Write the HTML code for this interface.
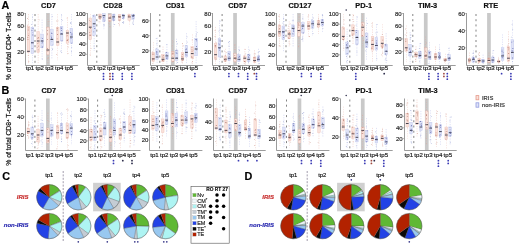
<!DOCTYPE html>
<html><head><meta charset="utf-8"><style>
html,body{margin:0;padding:0;background:#fff;}
body{width:520px;height:244px;overflow:hidden;font-family:"Liberation Sans",sans-serif;}
svg{display:block;filter:blur(0.45px);}
svg text{font-family:"Liberation Sans",sans-serif;}
</style></head><body>
<svg width="520" height="244" viewBox="0 0 520 244" font-family="Liberation Sans, sans-serif"><rect x="46.10" y="13.00" width="3.7" height="52.10" fill="#c9c9c9"/>
<line x1="35.00" y1="14.00" x2="35.00" y2="65.10" stroke="#6e6e6e" stroke-width="0.85" stroke-dasharray="2,3.2"/>
<line x1="28.45" y1="14.00" x2="28.45" y2="64.10" stroke="#e59a8a" stroke-width="0.45" stroke-dasharray="1.2,1.2" opacity="0.7"/>
<rect x="27.10" y="26.00" width="2.7" height="26.40" fill="#f9e2db" stroke="#e59a8a" stroke-width="0.35" stroke-opacity="0.6"/>
<line x1="27.10" y1="51.30" x2="29.80" y2="51.30" stroke="#303040" stroke-width="0.9"/>
<line x1="32.35" y1="14.00" x2="32.35" y2="64.10" stroke="#939ce0" stroke-width="0.45" stroke-dasharray="1.2,1.2" opacity="0.7"/>
<rect x="31.00" y="27.20" width="2.7" height="26.40" fill="#dfe3f7" stroke="#939ce0" stroke-width="0.35" stroke-opacity="0.6"/>
<line x1="31.00" y1="42.80" x2="33.70" y2="42.80" stroke="#303040" stroke-width="0.9"/>
<line x1="38.20" y1="14.00" x2="38.20" y2="64.10" stroke="#e59a8a" stroke-width="0.45" stroke-dasharray="1.2,1.2" opacity="0.7"/>
<rect x="36.85" y="31.80" width="2.7" height="20.60" fill="#f9e2db" stroke="#e59a8a" stroke-width="0.35" stroke-opacity="0.6"/>
<line x1="36.85" y1="41.00" x2="39.55" y2="41.00" stroke="#303040" stroke-width="0.9"/>
<line x1="42.10" y1="19.58" x2="42.10" y2="59.46" stroke="#939ce0" stroke-width="0.45" stroke-dasharray="1.2,1.2" opacity="0.7"/>
<rect x="40.75" y="34.00" width="2.7" height="13.80" fill="#dfe3f7" stroke="#939ce0" stroke-width="0.35" stroke-opacity="0.6"/>
<line x1="40.75" y1="41.00" x2="43.45" y2="41.00" stroke="#303040" stroke-width="0.9"/>
<line x1="47.95" y1="14.00" x2="47.95" y2="64.10" stroke="#e59a8a" stroke-width="0.45" stroke-dasharray="1.2,1.2" opacity="0.7"/>
<rect x="46.60" y="27.20" width="2.7" height="27.50" fill="#f9e2db" stroke="#e59a8a" stroke-width="0.35" stroke-opacity="0.6"/>
<line x1="46.60" y1="50.00" x2="49.30" y2="50.00" stroke="#303040" stroke-width="0.9"/>
<line x1="51.85" y1="14.00" x2="51.85" y2="58.70" stroke="#939ce0" stroke-width="0.45" stroke-dasharray="1.2,1.2" opacity="0.7"/>
<rect x="50.50" y="29.50" width="2.7" height="16.00" fill="#dfe3f7" stroke="#939ce0" stroke-width="0.35" stroke-opacity="0.6"/>
<line x1="50.50" y1="39.40" x2="53.20" y2="39.40" stroke="#303040" stroke-width="0.9"/>
<line x1="57.70" y1="14.00" x2="57.70" y2="60.31" stroke="#e59a8a" stroke-width="0.45" stroke-dasharray="1.2,1.2" opacity="0.7"/>
<rect x="56.35" y="27.20" width="2.7" height="18.30" fill="#f9e2db" stroke="#e59a8a" stroke-width="0.35" stroke-opacity="0.6"/>
<line x1="56.35" y1="42.00" x2="59.05" y2="42.00" stroke="#303040" stroke-width="0.9"/>
<line x1="61.60" y1="14.00" x2="61.60" y2="53.15" stroke="#939ce0" stroke-width="0.45" stroke-dasharray="1.2,1.2" opacity="0.7"/>
<rect x="60.25" y="26.50" width="2.7" height="14.50" fill="#dfe3f7" stroke="#939ce0" stroke-width="0.35" stroke-opacity="0.6"/>
<line x1="60.25" y1="34.00" x2="62.95" y2="34.00" stroke="#303040" stroke-width="0.9"/>
<line x1="67.45" y1="17.17" x2="67.45" y2="54.19" stroke="#e59a8a" stroke-width="0.45" stroke-dasharray="1.2,1.2" opacity="0.7"/>
<rect x="66.10" y="30.60" width="2.7" height="12.70" fill="#f9e2db" stroke="#e59a8a" stroke-width="0.35" stroke-opacity="0.6"/>
<line x1="66.10" y1="33.00" x2="68.80" y2="33.00" stroke="#303040" stroke-width="0.9"/>
<line x1="71.35" y1="14.00" x2="71.35" y2="55.80" stroke="#939ce0" stroke-width="0.45" stroke-dasharray="1.2,1.2" opacity="0.7"/>
<rect x="70.00" y="28.30" width="2.7" height="15.00" fill="#dfe3f7" stroke="#939ce0" stroke-width="0.35" stroke-opacity="0.6"/>
<line x1="70.00" y1="37.00" x2="72.70" y2="37.00" stroke="#303040" stroke-width="0.9"/>
<path d="M27.8 29.6h0.9v0.8h-0.9zM28.2 27.5h0.9v0.8h-0.9zM28.0 35.3h0.9v0.8h-0.9zM27.5 39.0h0.9v0.8h-0.9zM27.4 37.0h0.9v0.8h-0.9zM37.7 37.6h0.9v0.8h-0.9zM38.1 45.8h0.9v0.8h-0.9zM37.4 43.2h0.9v0.8h-0.9zM37.8 49.4h0.9v0.8h-0.9zM38.0 37.3h0.9v0.8h-0.9zM47.1 30.0h0.9v0.8h-0.9zM47.0 47.9h0.9v0.8h-0.9zM47.1 33.6h0.9v0.8h-0.9zM47.4 50.8h0.9v0.8h-0.9zM47.0 39.2h0.9v0.8h-0.9zM57.1 34.1h0.9v0.8h-0.9zM56.8 38.4h0.9v0.8h-0.9zM56.7 28.0h0.9v0.8h-0.9zM56.9 29.8h0.9v0.8h-0.9zM57.1 27.8h0.9v0.8h-0.9zM67.4 39.0h0.9v0.8h-0.9zM66.7 34.9h0.9v0.8h-0.9zM66.6 40.0h0.9v0.8h-0.9zM67.0 40.1h0.9v0.8h-0.9zM66.8 33.0h0.9v0.8h-0.9z" fill="#b07468" opacity="0.8"/>
<path d="M27.1 18.1h0.9v0.8h-0.9zM27.8 55.0h0.9v0.8h-0.9zM27.2 24.8h0.9v0.8h-0.9zM28.3 61.1h0.9v0.8h-0.9zM28.2 33.5h0.9v0.8h-0.9zM38.7 19.5h0.9v0.8h-0.9zM37.6 51.5h0.9v0.8h-0.9zM37.1 38.1h0.9v0.8h-0.9zM36.8 47.1h0.9v0.8h-0.9zM38.3 42.3h0.9v0.8h-0.9zM47.6 57.9h0.9v0.8h-0.9zM48.1 56.9h0.9v0.8h-0.9zM47.1 34.4h0.9v0.8h-0.9zM47.2 57.9h0.9v0.8h-0.9zM48.4 21.2h0.9v0.8h-0.9zM56.3 20.6h0.9v0.8h-0.9zM56.5 30.4h0.9v0.8h-0.9zM56.3 54.1h0.9v0.8h-0.9zM57.5 20.5h0.9v0.8h-0.9zM56.8 29.7h0.9v0.8h-0.9zM67.6 53.2h0.9v0.8h-0.9zM67.7 46.6h0.9v0.8h-0.9zM67.6 44.2h0.9v0.8h-0.9zM66.5 35.9h0.9v0.8h-0.9zM66.7 17.8h0.9v0.8h-0.9z" fill="#d8b0a8" opacity="0.8"/>
<path d="M32.5 28.0h0.9v0.8h-0.9zM32.3 34.4h0.9v0.8h-0.9zM31.5 29.9h0.9v0.8h-0.9zM31.7 48.3h0.9v0.8h-0.9zM31.5 42.2h0.9v0.8h-0.9zM42.1 37.9h0.9v0.8h-0.9zM41.9 41.8h0.9v0.8h-0.9zM41.7 39.9h0.9v0.8h-0.9zM42.1 46.6h0.9v0.8h-0.9zM41.6 42.8h0.9v0.8h-0.9zM51.0 32.8h0.9v0.8h-0.9zM51.1 36.9h0.9v0.8h-0.9zM51.5 33.3h0.9v0.8h-0.9zM50.8 35.8h0.9v0.8h-0.9zM51.2 38.2h0.9v0.8h-0.9zM61.0 27.9h0.9v0.8h-0.9zM61.6 40.5h0.9v0.8h-0.9zM61.1 33.1h0.9v0.8h-0.9zM60.7 27.6h0.9v0.8h-0.9zM61.0 29.9h0.9v0.8h-0.9zM70.3 32.1h0.9v0.8h-0.9zM70.6 38.3h0.9v0.8h-0.9zM71.4 34.6h0.9v0.8h-0.9zM71.4 42.7h0.9v0.8h-0.9zM71.4 33.4h0.9v0.8h-0.9z" fill="#5a62a8" opacity="0.8"/>
<path d="M32.2 32.3h0.9v0.8h-0.9zM32.0 16.7h0.9v0.8h-0.9zM31.0 23.9h0.9v0.8h-0.9zM32.3 35.0h0.9v0.8h-0.9zM31.5 42.9h0.9v0.8h-0.9zM40.8 47.2h0.9v0.8h-0.9zM41.9 58.8h0.9v0.8h-0.9zM42.3 30.5h0.9v0.8h-0.9zM41.4 45.8h0.9v0.8h-0.9zM40.7 37.6h0.9v0.8h-0.9zM52.3 44.5h0.9v0.8h-0.9zM51.4 41.2h0.9v0.8h-0.9zM51.8 16.0h0.9v0.8h-0.9zM52.2 48.5h0.9v0.8h-0.9zM52.1 49.3h0.9v0.8h-0.9zM61.8 19.9h0.9v0.8h-0.9zM60.2 50.8h0.9v0.8h-0.9zM61.2 19.3h0.9v0.8h-0.9zM61.2 14.7h0.9v0.8h-0.9zM61.2 51.9h0.9v0.8h-0.9zM70.3 23.1h0.9v0.8h-0.9zM70.3 22.1h0.9v0.8h-0.9zM71.1 51.2h0.9v0.8h-0.9zM71.6 33.6h0.9v0.8h-0.9zM71.2 47.0h0.9v0.8h-0.9z" fill="#a8b0d8" opacity="0.8"/>
<path d="M25.5 13.00V65.5H77.90" fill="none" stroke="#8a8a8a" stroke-width="0.85"/>
<line x1="24.20" y1="13.50" x2="25.40" y2="13.50" stroke="#8a8a8a" stroke-width="0.6"/>
<text x="23.90" y="15.60" font-size="6.0" text-anchor="end" font-weight="normal" font-style="normal" fill="#2a2a2a" stroke="#2a2a2a" stroke-width="0.18" >80</text>
<line x1="24.20" y1="26.20" x2="25.40" y2="26.20" stroke="#8a8a8a" stroke-width="0.6"/>
<text x="23.90" y="28.30" font-size="6.0" text-anchor="end" font-weight="normal" font-style="normal" fill="#2a2a2a" stroke="#2a2a2a" stroke-width="0.18" >60</text>
<line x1="24.20" y1="38.90" x2="25.40" y2="38.90" stroke="#8a8a8a" stroke-width="0.6"/>
<text x="23.90" y="41.00" font-size="6.0" text-anchor="end" font-weight="normal" font-style="normal" fill="#2a2a2a" stroke="#2a2a2a" stroke-width="0.18" >40</text>
<line x1="24.20" y1="51.60" x2="25.40" y2="51.60" stroke="#8a8a8a" stroke-width="0.6"/>
<text x="23.90" y="53.70" font-size="6.0" text-anchor="end" font-weight="normal" font-style="normal" fill="#2a2a2a" stroke="#2a2a2a" stroke-width="0.18" >20</text>
<text x="30.00" y="70.20" font-size="6.1" text-anchor="middle" font-weight="normal" font-style="normal" fill="#1a1a1a" stroke="#1a1a1a" stroke-width="0.18" >tp1</text>
<text x="39.75" y="70.20" font-size="6.1" text-anchor="middle" font-weight="normal" font-style="normal" fill="#1a1a1a" stroke="#1a1a1a" stroke-width="0.18" >tp2</text>
<text x="49.50" y="70.20" font-size="6.1" text-anchor="middle" font-weight="normal" font-style="normal" fill="#1a1a1a" stroke="#1a1a1a" stroke-width="0.18" >tp3</text>
<text x="59.25" y="70.20" font-size="6.1" text-anchor="middle" font-weight="normal" font-style="normal" fill="#1a1a1a" stroke="#1a1a1a" stroke-width="0.18" >tp4</text>
<text x="69.00" y="70.20" font-size="6.1" text-anchor="middle" font-weight="normal" font-style="normal" fill="#1a1a1a" stroke="#1a1a1a" stroke-width="0.18" >tp5</text>
<text x="48.50" y="7.50" font-size="7.4" text-anchor="middle" font-weight="bold" font-style="normal" fill="#111" stroke="#111" stroke-width="0.18" >CD7</text>
<rect x="107.90" y="13.00" width="3.7" height="52.10" fill="#c9c9c9"/>
<line x1="96.80" y1="14.00" x2="96.80" y2="65.10" stroke="#6e6e6e" stroke-width="0.85" stroke-dasharray="2,3.2"/>
<line x1="90.25" y1="14.00" x2="90.25" y2="57.06" stroke="#e59a8a" stroke-width="0.45" stroke-dasharray="1.2,1.2" opacity="0.7"/>
<rect x="88.90" y="18.00" width="2.7" height="21.80" fill="#f9e2db" stroke="#e59a8a" stroke-width="0.35" stroke-opacity="0.6"/>
<line x1="88.90" y1="27.20" x2="91.60" y2="27.20" stroke="#303040" stroke-width="0.9"/>
<line x1="94.15" y1="14.00" x2="94.15" y2="50.85" stroke="#939ce0" stroke-width="0.45" stroke-dasharray="1.2,1.2" opacity="0.7"/>
<rect x="92.80" y="15.70" width="2.7" height="19.50" fill="#dfe3f7" stroke="#939ce0" stroke-width="0.35" stroke-opacity="0.6"/>
<line x1="92.80" y1="23.80" x2="95.50" y2="23.80" stroke="#303040" stroke-width="0.9"/>
<line x1="100.00" y1="14.00" x2="100.00" y2="23.92" stroke="#e59a8a" stroke-width="0.45" stroke-dasharray="1.2,1.2" opacity="0.7"/>
<rect x="98.65" y="14.10" width="2.7" height="4.60" fill="#f9e2db" stroke="#e59a8a" stroke-width="0.35" stroke-opacity="0.6"/>
<line x1="98.65" y1="16.90" x2="101.35" y2="16.90" stroke="#303040" stroke-width="0.9"/>
<line x1="103.90" y1="14.00" x2="103.90" y2="29.17" stroke="#939ce0" stroke-width="0.45" stroke-dasharray="1.2,1.2" opacity="0.7"/>
<rect x="102.55" y="13.40" width="2.7" height="8.10" fill="#dfe3f7" stroke="#939ce0" stroke-width="0.35" stroke-opacity="0.6"/>
<line x1="102.55" y1="15.70" x2="105.25" y2="15.70" stroke="#303040" stroke-width="0.9"/>
<line x1="109.75" y1="14.00" x2="109.75" y2="28.33" stroke="#e59a8a" stroke-width="0.45" stroke-dasharray="1.2,1.2" opacity="0.7"/>
<rect x="108.40" y="14.60" width="2.7" height="6.90" fill="#f9e2db" stroke="#e59a8a" stroke-width="0.35" stroke-opacity="0.6"/>
<line x1="108.40" y1="18.00" x2="111.10" y2="18.00" stroke="#303040" stroke-width="0.9"/>
<line x1="113.65" y1="14.00" x2="113.65" y2="26.64" stroke="#939ce0" stroke-width="0.45" stroke-dasharray="1.2,1.2" opacity="0.7"/>
<rect x="112.30" y="14.10" width="2.7" height="6.20" fill="#dfe3f7" stroke="#939ce0" stroke-width="0.35" stroke-opacity="0.6"/>
<line x1="112.30" y1="16.90" x2="115.00" y2="16.90" stroke="#303040" stroke-width="0.9"/>
<line x1="119.50" y1="14.00" x2="119.50" y2="26.29" stroke="#e59a8a" stroke-width="0.45" stroke-dasharray="1.2,1.2" opacity="0.7"/>
<rect x="118.15" y="14.60" width="2.7" height="5.70" fill="#f9e2db" stroke="#e59a8a" stroke-width="0.35" stroke-opacity="0.6"/>
<line x1="118.15" y1="16.90" x2="120.85" y2="16.90" stroke="#303040" stroke-width="0.9"/>
<line x1="123.40" y1="14.00" x2="123.40" y2="23.92" stroke="#939ce0" stroke-width="0.45" stroke-dasharray="1.2,1.2" opacity="0.7"/>
<rect x="122.05" y="14.10" width="2.7" height="4.60" fill="#dfe3f7" stroke="#939ce0" stroke-width="0.35" stroke-opacity="0.6"/>
<line x1="122.05" y1="15.70" x2="124.75" y2="15.70" stroke="#303040" stroke-width="0.9"/>
<line x1="129.25" y1="14.00" x2="129.25" y2="26.29" stroke="#e59a8a" stroke-width="0.45" stroke-dasharray="1.2,1.2" opacity="0.7"/>
<rect x="127.90" y="14.60" width="2.7" height="5.70" fill="#f9e2db" stroke="#e59a8a" stroke-width="0.35" stroke-opacity="0.6"/>
<line x1="127.90" y1="16.90" x2="130.60" y2="16.90" stroke="#303040" stroke-width="0.9"/>
<line x1="133.15" y1="14.00" x2="133.15" y2="24.77" stroke="#939ce0" stroke-width="0.45" stroke-dasharray="1.2,1.2" opacity="0.7"/>
<rect x="131.80" y="14.10" width="2.7" height="5.10" fill="#dfe3f7" stroke="#939ce0" stroke-width="0.35" stroke-opacity="0.6"/>
<line x1="131.80" y1="15.70" x2="134.50" y2="15.70" stroke="#303040" stroke-width="0.9"/>
<path d="M89.3 32.0h0.9v0.8h-0.9zM90.3 34.7h0.9v0.8h-0.9zM90.1 28.0h0.9v0.8h-0.9zM89.4 34.8h0.9v0.8h-0.9zM89.6 35.1h0.9v0.8h-0.9zM99.3 15.6h0.9v0.8h-0.9zM99.1 17.9h0.9v0.8h-0.9zM99.4 15.8h0.9v0.8h-0.9zM99.7 17.9h0.9v0.8h-0.9zM99.5 17.9h0.9v0.8h-0.9zM109.2 17.9h0.9v0.8h-0.9zM109.3 20.7h0.9v0.8h-0.9zM109.5 20.2h0.9v0.8h-0.9zM109.8 16.0h0.9v0.8h-0.9zM109.4 20.7h0.9v0.8h-0.9zM119.1 16.7h0.9v0.8h-0.9zM118.5 16.1h0.9v0.8h-0.9zM119.2 17.1h0.9v0.8h-0.9zM118.5 19.8h0.9v0.8h-0.9zM119.4 19.7h0.9v0.8h-0.9zM128.5 14.9h0.9v0.8h-0.9zM128.8 15.6h0.9v0.8h-0.9zM128.3 15.1h0.9v0.8h-0.9zM128.3 15.4h0.9v0.8h-0.9zM128.6 15.9h0.9v0.8h-0.9z" fill="#b07468" opacity="0.8"/>
<path d="M90.7 30.6h0.9v0.8h-0.9zM89.6 54.4h0.9v0.8h-0.9zM90.2 20.9h0.9v0.8h-0.9zM89.1 20.1h0.9v0.8h-0.9zM90.6 48.3h0.9v0.8h-0.9zM99.6 18.9h0.9v0.8h-0.9zM99.6 13.8h0.9v0.8h-0.9zM99.4 15.4h0.9v0.8h-0.9zM98.6 21.5h0.9v0.8h-0.9zM98.9 18.3h0.9v0.8h-0.9zM110.0 15.6h0.9v0.8h-0.9zM108.5 19.9h0.9v0.8h-0.9zM108.4 17.0h0.9v0.8h-0.9zM108.4 23.2h0.9v0.8h-0.9zM109.9 26.5h0.9v0.8h-0.9zM118.3 16.9h0.9v0.8h-0.9zM118.1 23.2h0.9v0.8h-0.9zM118.6 15.2h0.9v0.8h-0.9zM118.9 24.8h0.9v0.8h-0.9zM119.7 16.8h0.9v0.8h-0.9zM129.3 17.2h0.9v0.8h-0.9zM128.8 15.8h0.9v0.8h-0.9zM128.5 13.8h0.9v0.8h-0.9zM128.3 13.8h0.9v0.8h-0.9zM129.3 20.4h0.9v0.8h-0.9z" fill="#d8b0a8" opacity="0.8"/>
<path d="M93.3 31.4h0.9v0.8h-0.9zM94.3 28.1h0.9v0.8h-0.9zM93.5 26.0h0.9v0.8h-0.9zM93.3 15.6h0.9v0.8h-0.9zM94.3 28.0h0.9v0.8h-0.9zM103.7 17.5h0.9v0.8h-0.9zM103.2 17.2h0.9v0.8h-0.9zM103.5 19.4h0.9v0.8h-0.9zM103.0 17.5h0.9v0.8h-0.9zM103.1 15.2h0.9v0.8h-0.9zM112.8 18.1h0.9v0.8h-0.9zM113.4 14.6h0.9v0.8h-0.9zM113.7 19.7h0.9v0.8h-0.9zM112.9 19.6h0.9v0.8h-0.9zM113.1 16.7h0.9v0.8h-0.9zM122.5 17.9h0.9v0.8h-0.9zM123.0 16.9h0.9v0.8h-0.9zM122.5 14.0h0.9v0.8h-0.9zM123.2 15.7h0.9v0.8h-0.9zM122.4 18.0h0.9v0.8h-0.9zM132.3 16.1h0.9v0.8h-0.9zM133.2 14.2h0.9v0.8h-0.9zM133.1 15.9h0.9v0.8h-0.9zM132.7 18.0h0.9v0.8h-0.9zM132.6 16.3h0.9v0.8h-0.9z" fill="#5a62a8" opacity="0.8"/>
<path d="M93.8 48.0h0.9v0.8h-0.9zM93.6 45.7h0.9v0.8h-0.9zM94.4 21.4h0.9v0.8h-0.9zM93.2 24.4h0.9v0.8h-0.9zM93.2 35.2h0.9v0.8h-0.9zM104.0 21.3h0.9v0.8h-0.9zM103.6 25.1h0.9v0.8h-0.9zM104.3 20.3h0.9v0.8h-0.9zM103.7 21.3h0.9v0.8h-0.9zM103.5 24.1h0.9v0.8h-0.9zM114.2 24.1h0.9v0.8h-0.9zM112.5 19.1h0.9v0.8h-0.9zM113.2 17.9h0.9v0.8h-0.9zM112.6 17.6h0.9v0.8h-0.9zM113.6 13.8h0.9v0.8h-0.9zM123.2 21.6h0.9v0.8h-0.9zM122.1 22.1h0.9v0.8h-0.9zM122.1 22.2h0.9v0.8h-0.9zM122.9 17.0h0.9v0.8h-0.9zM123.1 22.8h0.9v0.8h-0.9zM133.1 24.2h0.9v0.8h-0.9zM132.4 22.6h0.9v0.8h-0.9zM133.1 20.4h0.9v0.8h-0.9zM132.5 17.3h0.9v0.8h-0.9zM131.8 15.0h0.9v0.8h-0.9z" fill="#a8b0d8" opacity="0.8"/>
<path d="M87.5 13.00V65.5H139.70" fill="none" stroke="#8a8a8a" stroke-width="0.85"/>
<line x1="86.00" y1="13.50" x2="87.20" y2="13.50" stroke="#8a8a8a" stroke-width="0.6"/>
<text x="85.70" y="15.60" font-size="6.0" text-anchor="end" font-weight="normal" font-style="normal" fill="#2a2a2a" stroke="#2a2a2a" stroke-width="0.18" >100</text>
<line x1="86.00" y1="23.80" x2="87.20" y2="23.80" stroke="#8a8a8a" stroke-width="0.6"/>
<text x="85.70" y="25.90" font-size="6.0" text-anchor="end" font-weight="normal" font-style="normal" fill="#2a2a2a" stroke="#2a2a2a" stroke-width="0.18" >80</text>
<line x1="86.00" y1="33.80" x2="87.20" y2="33.80" stroke="#8a8a8a" stroke-width="0.6"/>
<text x="85.70" y="35.90" font-size="6.0" text-anchor="end" font-weight="normal" font-style="normal" fill="#2a2a2a" stroke="#2a2a2a" stroke-width="0.18" >60</text>
<line x1="86.00" y1="44.00" x2="87.20" y2="44.00" stroke="#8a8a8a" stroke-width="0.6"/>
<text x="85.70" y="46.10" font-size="6.0" text-anchor="end" font-weight="normal" font-style="normal" fill="#2a2a2a" stroke="#2a2a2a" stroke-width="0.18" >40</text>
<line x1="86.00" y1="54.30" x2="87.20" y2="54.30" stroke="#8a8a8a" stroke-width="0.6"/>
<text x="85.70" y="56.40" font-size="6.0" text-anchor="end" font-weight="normal" font-style="normal" fill="#2a2a2a" stroke="#2a2a2a" stroke-width="0.18" >20</text>
<text x="91.80" y="70.20" font-size="6.1" text-anchor="middle" font-weight="normal" font-style="normal" fill="#1a1a1a" stroke="#1a1a1a" stroke-width="0.18" >tp1</text>
<text x="101.55" y="70.20" font-size="6.1" text-anchor="middle" font-weight="normal" font-style="normal" fill="#1a1a1a" stroke="#1a1a1a" stroke-width="0.18" >tp2</text>
<text x="111.30" y="70.20" font-size="6.1" text-anchor="middle" font-weight="normal" font-style="normal" fill="#1a1a1a" stroke="#1a1a1a" stroke-width="0.18" >tp3</text>
<text x="121.05" y="70.20" font-size="6.1" text-anchor="middle" font-weight="normal" font-style="normal" fill="#1a1a1a" stroke="#1a1a1a" stroke-width="0.18" >tp4</text>
<text x="130.80" y="70.20" font-size="6.1" text-anchor="middle" font-weight="normal" font-style="normal" fill="#1a1a1a" stroke="#1a1a1a" stroke-width="0.18" >tp5</text>
<text x="112.80" y="7.50" font-size="7.4" text-anchor="middle" font-weight="bold" font-style="normal" fill="#111" stroke="#111" stroke-width="0.18" >CD28</text>
<circle cx="103.50" cy="73.70" r="0.9" fill="#3a3ab4"/>
<circle cx="103.50" cy="76.45" r="0.9" fill="#3a3ab4"/>
<circle cx="103.50" cy="79.20" r="0.9" fill="#3a3ab4"/>
<circle cx="110.00" cy="73.70" r="0.9" fill="#a04a40"/>
<circle cx="110.00" cy="76.45" r="0.9" fill="#a04a40"/>
<circle cx="110.00" cy="79.20" r="0.9" fill="#a04a40"/>
<circle cx="112.75" cy="73.70" r="0.9" fill="#3a3ab4"/>
<circle cx="112.75" cy="76.45" r="0.9" fill="#3a3ab4"/>
<circle cx="112.75" cy="79.20" r="0.9" fill="#3a3ab4"/>
<circle cx="122.25" cy="73.70" r="0.9" fill="#3a3ab4"/>
<circle cx="122.25" cy="76.45" r="0.9" fill="#3a3ab4"/>
<circle cx="122.25" cy="79.20" r="0.9" fill="#3a3ab4"/>
<circle cx="131.90" cy="73.70" r="0.9" fill="#3a3ab4"/>
<circle cx="131.90" cy="76.45" r="0.9" fill="#3a3ab4"/>
<circle cx="131.90" cy="79.20" r="0.9" fill="#3a3ab4"/>
<rect x="170.90" y="13.00" width="3.7" height="52.10" fill="#c9c9c9"/>
<line x1="159.80" y1="14.00" x2="159.80" y2="65.10" stroke="#6e6e6e" stroke-width="0.85" stroke-dasharray="2,3.2"/>
<line x1="153.25" y1="42.12" x2="153.25" y2="64.10" stroke="#e59a8a" stroke-width="0.45" stroke-dasharray="1.2,1.2" opacity="0.7"/>
<rect x="151.90" y="52.40" width="2.7" height="9.20" fill="#f9e2db" stroke="#e59a8a" stroke-width="0.35" stroke-opacity="0.6"/>
<line x1="151.90" y1="58.90" x2="154.60" y2="58.90" stroke="#303040" stroke-width="0.9"/>
<line x1="157.15" y1="37.73" x2="157.15" y2="64.10" stroke="#939ce0" stroke-width="0.45" stroke-dasharray="1.2,1.2" opacity="0.7"/>
<rect x="155.80" y="49.00" width="2.7" height="10.30" fill="#dfe3f7" stroke="#939ce0" stroke-width="0.35" stroke-opacity="0.6"/>
<line x1="155.80" y1="57.00" x2="158.50" y2="57.00" stroke="#303040" stroke-width="0.9"/>
<line x1="163.00" y1="46.49" x2="163.00" y2="64.10" stroke="#e59a8a" stroke-width="0.45" stroke-dasharray="1.2,1.2" opacity="0.7"/>
<rect x="161.65" y="54.70" width="2.7" height="6.90" fill="#f9e2db" stroke="#e59a8a" stroke-width="0.35" stroke-opacity="0.6"/>
<line x1="161.65" y1="59.30" x2="164.35" y2="59.30" stroke="#303040" stroke-width="0.9"/>
<line x1="166.90" y1="44.19" x2="166.90" y2="64.10" stroke="#939ce0" stroke-width="0.45" stroke-dasharray="1.2,1.2" opacity="0.7"/>
<rect x="165.55" y="52.40" width="2.7" height="6.90" fill="#dfe3f7" stroke="#939ce0" stroke-width="0.35" stroke-opacity="0.6"/>
<line x1="165.55" y1="55.90" x2="168.25" y2="55.90" stroke="#303040" stroke-width="0.9"/>
<line x1="172.75" y1="40.03" x2="172.75" y2="64.10" stroke="#e59a8a" stroke-width="0.45" stroke-dasharray="1.2,1.2" opacity="0.7"/>
<rect x="171.40" y="51.30" width="2.7" height="10.30" fill="#f9e2db" stroke="#e59a8a" stroke-width="0.35" stroke-opacity="0.6"/>
<line x1="171.40" y1="58.20" x2="174.10" y2="58.20" stroke="#303040" stroke-width="0.9"/>
<line x1="176.65" y1="38.74" x2="176.65" y2="64.10" stroke="#939ce0" stroke-width="0.45" stroke-dasharray="1.2,1.2" opacity="0.7"/>
<rect x="175.30" y="50.10" width="2.7" height="10.40" fill="#dfe3f7" stroke="#939ce0" stroke-width="0.35" stroke-opacity="0.6"/>
<line x1="175.30" y1="58.20" x2="178.00" y2="58.20" stroke="#303040" stroke-width="0.9"/>
<line x1="182.50" y1="43.11" x2="182.50" y2="64.10" stroke="#e59a8a" stroke-width="0.45" stroke-dasharray="1.2,1.2" opacity="0.7"/>
<rect x="181.15" y="52.40" width="2.7" height="8.10" fill="#f9e2db" stroke="#e59a8a" stroke-width="0.35" stroke-opacity="0.6"/>
<line x1="181.15" y1="58.90" x2="183.85" y2="58.90" stroke="#303040" stroke-width="0.9"/>
<line x1="186.40" y1="33.15" x2="186.40" y2="64.10" stroke="#939ce0" stroke-width="0.45" stroke-dasharray="1.2,1.2" opacity="0.7"/>
<rect x="185.05" y="45.50" width="2.7" height="11.50" fill="#dfe3f7" stroke="#939ce0" stroke-width="0.35" stroke-opacity="0.6"/>
<line x1="185.05" y1="52.40" x2="187.75" y2="52.40" stroke="#303040" stroke-width="0.9"/>
<line x1="192.25" y1="34.35" x2="192.25" y2="64.10" stroke="#e59a8a" stroke-width="0.45" stroke-dasharray="1.2,1.2" opacity="0.7"/>
<rect x="190.90" y="46.70" width="2.7" height="11.50" fill="#f9e2db" stroke="#e59a8a" stroke-width="0.35" stroke-opacity="0.6"/>
<line x1="190.90" y1="53.60" x2="193.60" y2="53.60" stroke="#303040" stroke-width="0.9"/>
<line x1="196.15" y1="21.22" x2="196.15" y2="64.10" stroke="#939ce0" stroke-width="0.45" stroke-dasharray="1.2,1.2" opacity="0.7"/>
<rect x="194.80" y="38.70" width="2.7" height="17.20" fill="#dfe3f7" stroke="#939ce0" stroke-width="0.35" stroke-opacity="0.6"/>
<line x1="194.80" y1="49.00" x2="197.50" y2="49.00" stroke="#303040" stroke-width="0.9"/>
<path d="M152.3 58.8h0.9v0.8h-0.9zM152.5 53.5h0.9v0.8h-0.9zM152.3 59.7h0.9v0.8h-0.9zM153.2 58.2h0.9v0.8h-0.9zM152.5 54.2h0.9v0.8h-0.9zM162.8 60.4h0.9v0.8h-0.9zM162.4 56.6h0.9v0.8h-0.9zM163.1 55.3h0.9v0.8h-0.9zM162.8 58.7h0.9v0.8h-0.9zM162.0 60.1h0.9v0.8h-0.9zM172.5 51.6h0.9v0.8h-0.9zM172.6 53.5h0.9v0.8h-0.9zM171.8 53.6h0.9v0.8h-0.9zM172.6 53.0h0.9v0.8h-0.9zM172.6 61.0h0.9v0.8h-0.9zM182.4 59.8h0.9v0.8h-0.9zM182.0 54.2h0.9v0.8h-0.9zM181.7 59.7h0.9v0.8h-0.9zM181.7 56.7h0.9v0.8h-0.9zM181.6 56.2h0.9v0.8h-0.9zM191.6 51.2h0.9v0.8h-0.9zM191.5 46.9h0.9v0.8h-0.9zM191.3 55.9h0.9v0.8h-0.9zM191.5 57.1h0.9v0.8h-0.9zM191.5 49.4h0.9v0.8h-0.9z" fill="#b07468" opacity="0.8"/>
<path d="M152.4 51.8h0.9v0.8h-0.9zM152.1 51.5h0.9v0.8h-0.9zM152.3 62.9h0.9v0.8h-0.9zM153.7 53.7h0.9v0.8h-0.9zM152.3 62.9h0.9v0.8h-0.9zM163.3 57.1h0.9v0.8h-0.9zM163.0 60.4h0.9v0.8h-0.9zM161.8 55.3h0.9v0.8h-0.9zM162.6 60.8h0.9v0.8h-0.9zM163.2 60.6h0.9v0.8h-0.9zM172.3 48.8h0.9v0.8h-0.9zM172.3 56.1h0.9v0.8h-0.9zM172.8 54.5h0.9v0.8h-0.9zM172.6 41.5h0.9v0.8h-0.9zM171.6 45.7h0.9v0.8h-0.9zM183.0 45.5h0.9v0.8h-0.9zM182.7 53.4h0.9v0.8h-0.9zM182.8 57.5h0.9v0.8h-0.9zM181.5 61.6h0.9v0.8h-0.9zM182.0 43.2h0.9v0.8h-0.9zM191.8 39.6h0.9v0.8h-0.9zM191.5 62.4h0.9v0.8h-0.9zM192.6 58.1h0.9v0.8h-0.9zM192.1 61.1h0.9v0.8h-0.9zM192.7 50.3h0.9v0.8h-0.9z" fill="#d8b0a8" opacity="0.8"/>
<path d="M156.5 52.3h0.9v0.8h-0.9zM156.1 52.5h0.9v0.8h-0.9zM156.7 53.8h0.9v0.8h-0.9zM156.3 53.8h0.9v0.8h-0.9zM156.1 51.3h0.9v0.8h-0.9zM166.6 58.2h0.9v0.8h-0.9zM166.7 56.8h0.9v0.8h-0.9zM166.1 52.2h0.9v0.8h-0.9zM166.0 54.5h0.9v0.8h-0.9zM166.0 57.8h0.9v0.8h-0.9zM176.5 52.9h0.9v0.8h-0.9zM176.3 49.8h0.9v0.8h-0.9zM175.7 52.5h0.9v0.8h-0.9zM176.4 56.9h0.9v0.8h-0.9zM176.4 52.7h0.9v0.8h-0.9zM185.4 50.8h0.9v0.8h-0.9zM185.9 48.6h0.9v0.8h-0.9zM185.5 49.1h0.9v0.8h-0.9zM185.7 54.8h0.9v0.8h-0.9zM185.4 53.7h0.9v0.8h-0.9zM196.0 39.2h0.9v0.8h-0.9zM196.0 46.1h0.9v0.8h-0.9zM196.0 49.4h0.9v0.8h-0.9zM195.4 39.1h0.9v0.8h-0.9zM196.2 40.5h0.9v0.8h-0.9z" fill="#5a62a8" opacity="0.8"/>
<path d="M155.9 47.9h0.9v0.8h-0.9zM155.8 37.9h0.9v0.8h-0.9zM156.3 43.5h0.9v0.8h-0.9zM156.9 51.3h0.9v0.8h-0.9zM157.2 54.7h0.9v0.8h-0.9zM166.6 56.3h0.9v0.8h-0.9zM166.7 57.3h0.9v0.8h-0.9zM166.4 43.9h0.9v0.8h-0.9zM167.0 58.7h0.9v0.8h-0.9zM166.5 54.4h0.9v0.8h-0.9zM176.2 50.1h0.9v0.8h-0.9zM176.1 41.3h0.9v0.8h-0.9zM177.0 43.4h0.9v0.8h-0.9zM177.2 62.1h0.9v0.8h-0.9zM175.2 50.0h0.9v0.8h-0.9zM186.6 36.5h0.9v0.8h-0.9zM186.8 54.8h0.9v0.8h-0.9zM186.8 41.7h0.9v0.8h-0.9zM185.7 44.9h0.9v0.8h-0.9zM186.9 51.0h0.9v0.8h-0.9zM195.6 35.6h0.9v0.8h-0.9zM195.3 52.5h0.9v0.8h-0.9zM196.7 32.0h0.9v0.8h-0.9zM196.0 33.7h0.9v0.8h-0.9zM195.8 37.7h0.9v0.8h-0.9z" fill="#a8b0d8" opacity="0.8"/>
<path d="M150.5 13.00V65.5H202.70" fill="none" stroke="#8a8a8a" stroke-width="0.85"/>
<line x1="149.00" y1="20.80" x2="150.20" y2="20.80" stroke="#8a8a8a" stroke-width="0.6"/>
<text x="148.70" y="22.90" font-size="6.0" text-anchor="end" font-weight="normal" font-style="normal" fill="#2a2a2a" stroke="#2a2a2a" stroke-width="0.18" >60</text>
<line x1="149.00" y1="35.70" x2="150.20" y2="35.70" stroke="#8a8a8a" stroke-width="0.6"/>
<text x="148.70" y="37.80" font-size="6.0" text-anchor="end" font-weight="normal" font-style="normal" fill="#2a2a2a" stroke="#2a2a2a" stroke-width="0.18" >40</text>
<line x1="149.00" y1="50.80" x2="150.20" y2="50.80" stroke="#8a8a8a" stroke-width="0.6"/>
<text x="148.70" y="52.90" font-size="6.0" text-anchor="end" font-weight="normal" font-style="normal" fill="#2a2a2a" stroke="#2a2a2a" stroke-width="0.18" >20</text>
<text x="154.80" y="70.20" font-size="6.1" text-anchor="middle" font-weight="normal" font-style="normal" fill="#1a1a1a" stroke="#1a1a1a" stroke-width="0.18" >tp1</text>
<text x="164.55" y="70.20" font-size="6.1" text-anchor="middle" font-weight="normal" font-style="normal" fill="#1a1a1a" stroke="#1a1a1a" stroke-width="0.18" >tp2</text>
<text x="174.30" y="70.20" font-size="6.1" text-anchor="middle" font-weight="normal" font-style="normal" fill="#1a1a1a" stroke="#1a1a1a" stroke-width="0.18" >tp3</text>
<text x="184.05" y="70.20" font-size="6.1" text-anchor="middle" font-weight="normal" font-style="normal" fill="#1a1a1a" stroke="#1a1a1a" stroke-width="0.18" >tp4</text>
<text x="193.80" y="70.20" font-size="6.1" text-anchor="middle" font-weight="normal" font-style="normal" fill="#1a1a1a" stroke="#1a1a1a" stroke-width="0.18" >tp5</text>
<text x="175.10" y="7.50" font-size="7.4" text-anchor="middle" font-weight="bold" font-style="normal" fill="#111" stroke="#111" stroke-width="0.18" >CD31</text>
<circle cx="194.90" cy="73.70" r="0.9" fill="#3a3ab4"/>
<circle cx="194.90" cy="76.45" r="0.9" fill="#3a3ab4"/>
<rect x="233.20" y="13.00" width="3.7" height="52.10" fill="#c9c9c9"/>
<line x1="222.10" y1="14.00" x2="222.10" y2="65.10" stroke="#6e6e6e" stroke-width="0.85" stroke-dasharray="2,3.2"/>
<line x1="215.55" y1="26.90" x2="215.55" y2="64.10" stroke="#e59a8a" stroke-width="0.45" stroke-dasharray="1.2,1.2" opacity="0.7"/>
<rect x="214.20" y="43.30" width="2.7" height="16.00" fill="#f9e2db" stroke="#e59a8a" stroke-width="0.35" stroke-opacity="0.6"/>
<line x1="214.20" y1="54.70" x2="216.90" y2="54.70" stroke="#303040" stroke-width="0.9"/>
<line x1="219.45" y1="20.23" x2="219.45" y2="64.10" stroke="#939ce0" stroke-width="0.45" stroke-dasharray="1.2,1.2" opacity="0.7"/>
<rect x="218.10" y="38.70" width="2.7" height="18.30" fill="#dfe3f7" stroke="#939ce0" stroke-width="0.35" stroke-opacity="0.6"/>
<line x1="218.10" y1="47.80" x2="220.80" y2="47.80" stroke="#303040" stroke-width="0.9"/>
<line x1="225.30" y1="48.77" x2="225.30" y2="64.10" stroke="#e59a8a" stroke-width="0.45" stroke-dasharray="1.2,1.2" opacity="0.7"/>
<rect x="223.95" y="55.90" width="2.7" height="5.70" fill="#f9e2db" stroke="#e59a8a" stroke-width="0.35" stroke-opacity="0.6"/>
<line x1="223.95" y1="59.30" x2="226.65" y2="59.30" stroke="#303040" stroke-width="0.9"/>
<line x1="229.20" y1="41.02" x2="229.20" y2="64.10" stroke="#939ce0" stroke-width="0.45" stroke-dasharray="1.2,1.2" opacity="0.7"/>
<rect x="227.85" y="51.30" width="2.7" height="9.20" fill="#dfe3f7" stroke="#939ce0" stroke-width="0.35" stroke-opacity="0.6"/>
<line x1="227.85" y1="58.20" x2="230.55" y2="58.20" stroke="#303040" stroke-width="0.9"/>
<line x1="235.05" y1="44.40" x2="235.05" y2="64.10" stroke="#e59a8a" stroke-width="0.45" stroke-dasharray="1.2,1.2" opacity="0.7"/>
<rect x="233.70" y="53.60" width="2.7" height="8.00" fill="#f9e2db" stroke="#e59a8a" stroke-width="0.35" stroke-opacity="0.6"/>
<line x1="233.70" y1="58.20" x2="236.40" y2="58.20" stroke="#303040" stroke-width="0.9"/>
<line x1="238.95" y1="46.49" x2="238.95" y2="64.10" stroke="#939ce0" stroke-width="0.45" stroke-dasharray="1.2,1.2" opacity="0.7"/>
<rect x="237.60" y="54.70" width="2.7" height="6.90" fill="#dfe3f7" stroke="#939ce0" stroke-width="0.35" stroke-opacity="0.6"/>
<line x1="237.60" y1="59.30" x2="240.30" y2="59.30" stroke="#303040" stroke-width="0.9"/>
<line x1="244.80" y1="48.77" x2="244.80" y2="64.10" stroke="#e59a8a" stroke-width="0.45" stroke-dasharray="1.2,1.2" opacity="0.7"/>
<rect x="243.45" y="55.90" width="2.7" height="5.70" fill="#f9e2db" stroke="#e59a8a" stroke-width="0.35" stroke-opacity="0.6"/>
<line x1="243.45" y1="58.20" x2="246.15" y2="58.20" stroke="#303040" stroke-width="0.9"/>
<line x1="248.70" y1="46.49" x2="248.70" y2="64.10" stroke="#939ce0" stroke-width="0.45" stroke-dasharray="1.2,1.2" opacity="0.7"/>
<rect x="247.35" y="54.70" width="2.7" height="6.90" fill="#dfe3f7" stroke="#939ce0" stroke-width="0.35" stroke-opacity="0.6"/>
<line x1="247.35" y1="59.30" x2="250.05" y2="59.30" stroke="#303040" stroke-width="0.9"/>
<line x1="254.55" y1="50.23" x2="254.55" y2="64.10" stroke="#e59a8a" stroke-width="0.45" stroke-dasharray="1.2,1.2" opacity="0.7"/>
<rect x="253.20" y="57.00" width="2.7" height="5.30" fill="#f9e2db" stroke="#e59a8a" stroke-width="0.35" stroke-opacity="0.6"/>
<line x1="253.20" y1="60.50" x2="255.90" y2="60.50" stroke="#303040" stroke-width="0.9"/>
<line x1="258.45" y1="48.77" x2="258.45" y2="64.10" stroke="#939ce0" stroke-width="0.45" stroke-dasharray="1.2,1.2" opacity="0.7"/>
<rect x="257.10" y="55.90" width="2.7" height="5.70" fill="#dfe3f7" stroke="#939ce0" stroke-width="0.35" stroke-opacity="0.6"/>
<line x1="257.10" y1="59.30" x2="259.80" y2="59.30" stroke="#303040" stroke-width="0.9"/>
<path d="M214.7 45.5h0.9v0.8h-0.9zM214.7 57.4h0.9v0.8h-0.9zM215.1 46.4h0.9v0.8h-0.9zM215.6 58.8h0.9v0.8h-0.9zM215.0 45.1h0.9v0.8h-0.9zM224.3 59.5h0.9v0.8h-0.9zM225.3 58.2h0.9v0.8h-0.9zM225.0 55.5h0.9v0.8h-0.9zM224.7 60.8h0.9v0.8h-0.9zM225.2 60.4h0.9v0.8h-0.9zM234.4 56.9h0.9v0.8h-0.9zM235.2 58.4h0.9v0.8h-0.9zM235.1 57.0h0.9v0.8h-0.9zM234.3 55.2h0.9v0.8h-0.9zM235.2 58.8h0.9v0.8h-0.9zM244.5 60.9h0.9v0.8h-0.9zM243.9 57.7h0.9v0.8h-0.9zM244.0 61.1h0.9v0.8h-0.9zM243.9 55.8h0.9v0.8h-0.9zM243.8 57.7h0.9v0.8h-0.9zM253.7 58.5h0.9v0.8h-0.9zM254.6 56.8h0.9v0.8h-0.9zM254.0 60.9h0.9v0.8h-0.9zM254.4 56.8h0.9v0.8h-0.9zM253.5 56.9h0.9v0.8h-0.9z" fill="#b07468" opacity="0.8"/>
<path d="M214.5 29.9h0.9v0.8h-0.9zM214.8 29.9h0.9v0.8h-0.9zM214.6 36.1h0.9v0.8h-0.9zM215.2 59.5h0.9v0.8h-0.9zM215.6 41.9h0.9v0.8h-0.9zM225.8 52.2h0.9v0.8h-0.9zM224.1 50.7h0.9v0.8h-0.9zM224.9 58.8h0.9v0.8h-0.9zM225.7 59.4h0.9v0.8h-0.9zM225.1 60.1h0.9v0.8h-0.9zM234.2 44.4h0.9v0.8h-0.9zM234.6 57.3h0.9v0.8h-0.9zM234.4 49.1h0.9v0.8h-0.9zM234.9 62.2h0.9v0.8h-0.9zM234.1 44.7h0.9v0.8h-0.9zM245.1 61.9h0.9v0.8h-0.9zM244.8 63.7h0.9v0.8h-0.9zM245.2 53.4h0.9v0.8h-0.9zM243.7 62.7h0.9v0.8h-0.9zM244.8 48.9h0.9v0.8h-0.9zM254.9 53.4h0.9v0.8h-0.9zM254.6 62.3h0.9v0.8h-0.9zM253.8 53.6h0.9v0.8h-0.9zM255.0 58.4h0.9v0.8h-0.9zM253.6 59.8h0.9v0.8h-0.9z" fill="#d8b0a8" opacity="0.8"/>
<path d="M218.9 47.9h0.9v0.8h-0.9zM218.9 44.5h0.9v0.8h-0.9zM218.5 43.4h0.9v0.8h-0.9zM219.6 40.6h0.9v0.8h-0.9zM219.0 49.8h0.9v0.8h-0.9zM228.7 56.0h0.9v0.8h-0.9zM228.2 58.1h0.9v0.8h-0.9zM228.4 59.4h0.9v0.8h-0.9zM228.9 53.7h0.9v0.8h-0.9zM228.3 53.2h0.9v0.8h-0.9zM238.3 57.2h0.9v0.8h-0.9zM238.7 55.7h0.9v0.8h-0.9zM238.9 59.4h0.9v0.8h-0.9zM238.5 55.7h0.9v0.8h-0.9zM239.1 56.5h0.9v0.8h-0.9zM248.4 56.9h0.9v0.8h-0.9zM248.1 56.6h0.9v0.8h-0.9zM247.9 54.3h0.9v0.8h-0.9zM248.0 56.7h0.9v0.8h-0.9zM248.8 55.2h0.9v0.8h-0.9zM257.8 57.1h0.9v0.8h-0.9zM257.4 59.8h0.9v0.8h-0.9zM258.5 59.1h0.9v0.8h-0.9zM258.5 55.6h0.9v0.8h-0.9zM257.7 58.2h0.9v0.8h-0.9z" fill="#5a62a8" opacity="0.8"/>
<path d="M219.7 29.3h0.9v0.8h-0.9zM218.5 30.7h0.9v0.8h-0.9zM218.8 39.4h0.9v0.8h-0.9zM219.9 57.1h0.9v0.8h-0.9zM219.7 20.8h0.9v0.8h-0.9zM229.0 56.7h0.9v0.8h-0.9zM228.0 42.2h0.9v0.8h-0.9zM228.8 54.1h0.9v0.8h-0.9zM228.5 45.8h0.9v0.8h-0.9zM229.0 40.9h0.9v0.8h-0.9zM239.1 50.2h0.9v0.8h-0.9zM237.9 59.5h0.9v0.8h-0.9zM238.1 62.9h0.9v0.8h-0.9zM238.5 49.4h0.9v0.8h-0.9zM237.9 53.4h0.9v0.8h-0.9zM249.2 49.7h0.9v0.8h-0.9zM248.0 60.6h0.9v0.8h-0.9zM248.9 53.7h0.9v0.8h-0.9zM247.3 54.4h0.9v0.8h-0.9zM248.0 62.3h0.9v0.8h-0.9zM258.9 63.0h0.9v0.8h-0.9zM257.8 52.2h0.9v0.8h-0.9zM257.9 55.9h0.9v0.8h-0.9zM258.9 51.2h0.9v0.8h-0.9zM258.6 59.7h0.9v0.8h-0.9z" fill="#a8b0d8" opacity="0.8"/>
<path d="M212.5 13.00V65.5H265.00" fill="none" stroke="#8a8a8a" stroke-width="0.85"/>
<line x1="211.30" y1="13.50" x2="212.50" y2="13.50" stroke="#8a8a8a" stroke-width="0.6"/>
<text x="211.00" y="15.60" font-size="6.0" text-anchor="end" font-weight="normal" font-style="normal" fill="#2a2a2a" stroke="#2a2a2a" stroke-width="0.18" >80</text>
<line x1="211.30" y1="26.20" x2="212.50" y2="26.20" stroke="#8a8a8a" stroke-width="0.6"/>
<text x="211.00" y="28.30" font-size="6.0" text-anchor="end" font-weight="normal" font-style="normal" fill="#2a2a2a" stroke="#2a2a2a" stroke-width="0.18" >60</text>
<line x1="211.30" y1="38.90" x2="212.50" y2="38.90" stroke="#8a8a8a" stroke-width="0.6"/>
<text x="211.00" y="41.00" font-size="6.0" text-anchor="end" font-weight="normal" font-style="normal" fill="#2a2a2a" stroke="#2a2a2a" stroke-width="0.18" >40</text>
<line x1="211.30" y1="51.60" x2="212.50" y2="51.60" stroke="#8a8a8a" stroke-width="0.6"/>
<text x="211.00" y="53.70" font-size="6.0" text-anchor="end" font-weight="normal" font-style="normal" fill="#2a2a2a" stroke="#2a2a2a" stroke-width="0.18" >20</text>
<text x="217.10" y="70.20" font-size="6.1" text-anchor="middle" font-weight="normal" font-style="normal" fill="#1a1a1a" stroke="#1a1a1a" stroke-width="0.18" >tp1</text>
<text x="226.85" y="70.20" font-size="6.1" text-anchor="middle" font-weight="normal" font-style="normal" fill="#1a1a1a" stroke="#1a1a1a" stroke-width="0.18" >tp2</text>
<text x="236.60" y="70.20" font-size="6.1" text-anchor="middle" font-weight="normal" font-style="normal" fill="#1a1a1a" stroke="#1a1a1a" stroke-width="0.18" >tp3</text>
<text x="246.35" y="70.20" font-size="6.1" text-anchor="middle" font-weight="normal" font-style="normal" fill="#1a1a1a" stroke="#1a1a1a" stroke-width="0.18" >tp4</text>
<text x="256.10" y="70.20" font-size="6.1" text-anchor="middle" font-weight="normal" font-style="normal" fill="#1a1a1a" stroke="#1a1a1a" stroke-width="0.18" >tp5</text>
<text x="237.70" y="7.50" font-size="7.4" text-anchor="middle" font-weight="bold" font-style="normal" fill="#111" stroke="#111" stroke-width="0.18" >CD57</text>
<circle cx="228.90" cy="73.70" r="0.9" fill="#3a3ab4"/>
<circle cx="228.90" cy="76.45" r="0.9" fill="#3a3ab4"/>
<circle cx="238.50" cy="73.70" r="0.9" fill="#3a3ab4"/>
<circle cx="238.50" cy="76.45" r="0.9" fill="#3a3ab4"/>
<circle cx="247.70" cy="73.70" r="0.9" fill="#3a3ab4"/>
<circle cx="247.70" cy="76.45" r="0.9" fill="#3a3ab4"/>
<circle cx="247.70" cy="79.20" r="0.9" fill="#3a3ab4"/>
<circle cx="254.30" cy="73.70" r="0.9" fill="#a04a40"/>
<circle cx="256.50" cy="73.70" r="0.9" fill="#3a3ab4"/>
<circle cx="256.50" cy="76.45" r="0.9" fill="#3a3ab4"/>
<circle cx="256.50" cy="79.20" r="0.9" fill="#3a3ab4"/>
<rect x="297.10" y="13.00" width="3.7" height="52.10" fill="#c9c9c9"/>
<line x1="286.00" y1="14.00" x2="286.00" y2="65.10" stroke="#6e6e6e" stroke-width="0.85" stroke-dasharray="2,3.2"/>
<line x1="279.45" y1="14.00" x2="279.45" y2="46.45" stroke="#e59a8a" stroke-width="0.45" stroke-dasharray="1.2,1.2" opacity="0.7"/>
<rect x="278.10" y="24.90" width="2.7" height="11.50" fill="#f9e2db" stroke="#e59a8a" stroke-width="0.35" stroke-opacity="0.6"/>
<line x1="278.10" y1="31.80" x2="280.80" y2="31.80" stroke="#303040" stroke-width="0.9"/>
<line x1="283.35" y1="14.00" x2="283.35" y2="51.46" stroke="#939ce0" stroke-width="0.45" stroke-dasharray="1.2,1.2" opacity="0.7"/>
<rect x="282.00" y="26.00" width="2.7" height="13.80" fill="#dfe3f7" stroke="#939ce0" stroke-width="0.35" stroke-opacity="0.6"/>
<line x1="282.00" y1="31.80" x2="284.70" y2="31.80" stroke="#303040" stroke-width="0.9"/>
<line x1="289.20" y1="21.31" x2="289.20" y2="46.37" stroke="#e59a8a" stroke-width="0.45" stroke-dasharray="1.2,1.2" opacity="0.7"/>
<rect x="287.85" y="30.60" width="2.7" height="8.10" fill="#f9e2db" stroke="#e59a8a" stroke-width="0.35" stroke-opacity="0.6"/>
<line x1="287.85" y1="34.00" x2="290.55" y2="34.00" stroke="#303040" stroke-width="0.9"/>
<line x1="293.10" y1="14.00" x2="293.10" y2="46.45" stroke="#939ce0" stroke-width="0.45" stroke-dasharray="1.2,1.2" opacity="0.7"/>
<rect x="291.75" y="24.90" width="2.7" height="11.50" fill="#dfe3f7" stroke="#939ce0" stroke-width="0.35" stroke-opacity="0.6"/>
<line x1="291.75" y1="28.30" x2="294.45" y2="28.30" stroke="#303040" stroke-width="0.9"/>
<line x1="298.95" y1="14.00" x2="298.95" y2="48.06" stroke="#e59a8a" stroke-width="0.45" stroke-dasharray="1.2,1.2" opacity="0.7"/>
<rect x="297.60" y="22.60" width="2.7" height="13.80" fill="#f9e2db" stroke="#e59a8a" stroke-width="0.35" stroke-opacity="0.6"/>
<line x1="297.60" y1="30.60" x2="300.30" y2="30.60" stroke="#303040" stroke-width="0.9"/>
<line x1="302.85" y1="14.00" x2="302.85" y2="42.28" stroke="#939ce0" stroke-width="0.45" stroke-dasharray="1.2,1.2" opacity="0.7"/>
<rect x="301.50" y="22.60" width="2.7" height="10.40" fill="#dfe3f7" stroke="#939ce0" stroke-width="0.35" stroke-opacity="0.6"/>
<line x1="301.50" y1="26.00" x2="304.20" y2="26.00" stroke="#303040" stroke-width="0.9"/>
<line x1="308.70" y1="14.00" x2="308.70" y2="37.10" stroke="#e59a8a" stroke-width="0.45" stroke-dasharray="1.2,1.2" opacity="0.7"/>
<rect x="307.35" y="21.50" width="2.7" height="8.00" fill="#f9e2db" stroke="#e59a8a" stroke-width="0.35" stroke-opacity="0.6"/>
<line x1="307.35" y1="26.00" x2="310.05" y2="26.00" stroke="#303040" stroke-width="0.9"/>
<line x1="312.60" y1="14.00" x2="312.60" y2="35.90" stroke="#939ce0" stroke-width="0.45" stroke-dasharray="1.2,1.2" opacity="0.7"/>
<rect x="311.25" y="20.30" width="2.7" height="8.00" fill="#dfe3f7" stroke="#939ce0" stroke-width="0.35" stroke-opacity="0.6"/>
<line x1="311.25" y1="23.80" x2="313.95" y2="23.80" stroke="#303040" stroke-width="0.9"/>
<line x1="318.45" y1="14.00" x2="318.45" y2="34.03" stroke="#e59a8a" stroke-width="0.45" stroke-dasharray="1.2,1.2" opacity="0.7"/>
<rect x="317.10" y="20.30" width="2.7" height="6.90" fill="#f9e2db" stroke="#e59a8a" stroke-width="0.35" stroke-opacity="0.6"/>
<line x1="317.10" y1="24.20" x2="319.80" y2="24.20" stroke="#303040" stroke-width="0.9"/>
<line x1="322.35" y1="14.00" x2="322.35" y2="32.76" stroke="#939ce0" stroke-width="0.45" stroke-dasharray="1.2,1.2" opacity="0.7"/>
<rect x="321.00" y="19.20" width="2.7" height="6.80" fill="#dfe3f7" stroke="#939ce0" stroke-width="0.35" stroke-opacity="0.6"/>
<line x1="321.00" y1="22.60" x2="323.70" y2="22.60" stroke="#303040" stroke-width="0.9"/>
<path d="M279.4 33.4h0.9v0.8h-0.9zM279.1 28.3h0.9v0.8h-0.9zM278.8 28.7h0.9v0.8h-0.9zM279.3 25.4h0.9v0.8h-0.9zM278.6 33.2h0.9v0.8h-0.9zM288.3 37.4h0.9v0.8h-0.9zM288.8 32.8h0.9v0.8h-0.9zM288.6 38.2h0.9v0.8h-0.9zM288.8 32.1h0.9v0.8h-0.9zM289.1 35.5h0.9v0.8h-0.9zM297.9 26.7h0.9v0.8h-0.9zM298.7 24.8h0.9v0.8h-0.9zM298.3 25.0h0.9v0.8h-0.9zM298.9 29.8h0.9v0.8h-0.9zM298.0 23.6h0.9v0.8h-0.9zM308.4 28.4h0.9v0.8h-0.9zM307.8 26.1h0.9v0.8h-0.9zM308.1 25.1h0.9v0.8h-0.9zM307.8 23.4h0.9v0.8h-0.9zM308.3 28.5h0.9v0.8h-0.9zM317.4 23.8h0.9v0.8h-0.9zM318.3 20.2h0.9v0.8h-0.9zM318.4 20.7h0.9v0.8h-0.9zM318.1 23.7h0.9v0.8h-0.9zM318.2 22.0h0.9v0.8h-0.9z" fill="#b07468" opacity="0.8"/>
<path d="M278.5 15.7h0.9v0.8h-0.9zM278.1 31.5h0.9v0.8h-0.9zM278.7 45.4h0.9v0.8h-0.9zM279.8 45.7h0.9v0.8h-0.9zM278.5 16.3h0.9v0.8h-0.9zM289.7 23.5h0.9v0.8h-0.9zM288.7 41.4h0.9v0.8h-0.9zM289.4 43.8h0.9v0.8h-0.9zM287.8 28.3h0.9v0.8h-0.9zM288.0 25.7h0.9v0.8h-0.9zM298.3 32.3h0.9v0.8h-0.9zM298.8 16.7h0.9v0.8h-0.9zM297.8 37.3h0.9v0.8h-0.9zM298.3 23.2h0.9v0.8h-0.9zM298.1 46.1h0.9v0.8h-0.9zM307.5 24.9h0.9v0.8h-0.9zM308.9 35.9h0.9v0.8h-0.9zM307.6 16.5h0.9v0.8h-0.9zM309.1 36.1h0.9v0.8h-0.9zM308.2 14.8h0.9v0.8h-0.9zM317.8 25.3h0.9v0.8h-0.9zM317.9 26.8h0.9v0.8h-0.9zM317.9 22.4h0.9v0.8h-0.9zM317.0 26.0h0.9v0.8h-0.9zM318.0 18.3h0.9v0.8h-0.9z" fill="#d8b0a8" opacity="0.8"/>
<path d="M282.4 32.5h0.9v0.8h-0.9zM283.2 31.8h0.9v0.8h-0.9zM282.6 31.4h0.9v0.8h-0.9zM283.0 34.9h0.9v0.8h-0.9zM283.2 37.3h0.9v0.8h-0.9zM293.2 31.2h0.9v0.8h-0.9zM293.2 28.8h0.9v0.8h-0.9zM293.1 29.7h0.9v0.8h-0.9zM292.4 33.4h0.9v0.8h-0.9zM293.2 25.7h0.9v0.8h-0.9zM302.2 28.1h0.9v0.8h-0.9zM302.2 26.5h0.9v0.8h-0.9zM302.8 32.6h0.9v0.8h-0.9zM302.2 24.3h0.9v0.8h-0.9zM302.7 24.3h0.9v0.8h-0.9zM312.7 23.0h0.9v0.8h-0.9zM312.6 24.9h0.9v0.8h-0.9zM312.5 21.2h0.9v0.8h-0.9zM312.5 21.7h0.9v0.8h-0.9zM312.0 26.7h0.9v0.8h-0.9zM322.2 24.1h0.9v0.8h-0.9zM321.8 20.0h0.9v0.8h-0.9zM321.9 19.5h0.9v0.8h-0.9zM321.5 21.7h0.9v0.8h-0.9zM321.4 21.8h0.9v0.8h-0.9z" fill="#5a62a8" opacity="0.8"/>
<path d="M283.2 18.1h0.9v0.8h-0.9zM283.6 24.6h0.9v0.8h-0.9zM283.0 27.6h0.9v0.8h-0.9zM283.4 21.1h0.9v0.8h-0.9zM282.4 22.8h0.9v0.8h-0.9zM292.8 33.7h0.9v0.8h-0.9zM292.1 25.6h0.9v0.8h-0.9zM291.9 20.2h0.9v0.8h-0.9zM292.2 33.1h0.9v0.8h-0.9zM293.0 20.2h0.9v0.8h-0.9zM301.4 39.1h0.9v0.8h-0.9zM302.2 36.8h0.9v0.8h-0.9zM302.2 38.6h0.9v0.8h-0.9zM302.3 18.2h0.9v0.8h-0.9zM301.4 29.2h0.9v0.8h-0.9zM312.8 17.6h0.9v0.8h-0.9zM311.6 22.4h0.9v0.8h-0.9zM312.2 22.0h0.9v0.8h-0.9zM311.4 19.0h0.9v0.8h-0.9zM312.6 33.3h0.9v0.8h-0.9zM321.9 14.4h0.9v0.8h-0.9zM322.2 15.1h0.9v0.8h-0.9zM322.4 28.2h0.9v0.8h-0.9zM321.9 14.6h0.9v0.8h-0.9zM321.9 20.7h0.9v0.8h-0.9z" fill="#a8b0d8" opacity="0.8"/>
<path d="M276.5 13.00V65.5H328.90" fill="none" stroke="#8a8a8a" stroke-width="0.85"/>
<line x1="275.20" y1="13.50" x2="276.40" y2="13.50" stroke="#8a8a8a" stroke-width="0.6"/>
<text x="274.90" y="15.60" font-size="6.0" text-anchor="end" font-weight="normal" font-style="normal" fill="#2a2a2a" stroke="#2a2a2a" stroke-width="0.18" >100</text>
<line x1="275.20" y1="24.20" x2="276.40" y2="24.20" stroke="#8a8a8a" stroke-width="0.6"/>
<text x="274.90" y="26.30" font-size="6.0" text-anchor="end" font-weight="normal" font-style="normal" fill="#2a2a2a" stroke="#2a2a2a" stroke-width="0.18" >80</text>
<line x1="275.20" y1="34.40" x2="276.40" y2="34.40" stroke="#8a8a8a" stroke-width="0.6"/>
<text x="274.90" y="36.50" font-size="6.0" text-anchor="end" font-weight="normal" font-style="normal" fill="#2a2a2a" stroke="#2a2a2a" stroke-width="0.18" >60</text>
<line x1="275.20" y1="44.60" x2="276.40" y2="44.60" stroke="#8a8a8a" stroke-width="0.6"/>
<text x="274.90" y="46.70" font-size="6.0" text-anchor="end" font-weight="normal" font-style="normal" fill="#2a2a2a" stroke="#2a2a2a" stroke-width="0.18" >40</text>
<line x1="275.20" y1="54.80" x2="276.40" y2="54.80" stroke="#8a8a8a" stroke-width="0.6"/>
<text x="274.90" y="56.90" font-size="6.0" text-anchor="end" font-weight="normal" font-style="normal" fill="#2a2a2a" stroke="#2a2a2a" stroke-width="0.18" >20</text>
<text x="281.00" y="70.20" font-size="6.1" text-anchor="middle" font-weight="normal" font-style="normal" fill="#1a1a1a" stroke="#1a1a1a" stroke-width="0.18" >tp1</text>
<text x="290.75" y="70.20" font-size="6.1" text-anchor="middle" font-weight="normal" font-style="normal" fill="#1a1a1a" stroke="#1a1a1a" stroke-width="0.18" >tp2</text>
<text x="300.50" y="70.20" font-size="6.1" text-anchor="middle" font-weight="normal" font-style="normal" fill="#1a1a1a" stroke="#1a1a1a" stroke-width="0.18" >tp3</text>
<text x="310.25" y="70.20" font-size="6.1" text-anchor="middle" font-weight="normal" font-style="normal" fill="#1a1a1a" stroke="#1a1a1a" stroke-width="0.18" >tp4</text>
<text x="320.00" y="70.20" font-size="6.1" text-anchor="middle" font-weight="normal" font-style="normal" fill="#1a1a1a" stroke="#1a1a1a" stroke-width="0.18" >tp5</text>
<text x="300.00" y="7.50" font-size="7.4" text-anchor="middle" font-weight="bold" font-style="normal" fill="#111" stroke="#111" stroke-width="0.18" >CD127</text>
<circle cx="301.50" cy="73.70" r="0.9" fill="#3a3ab4"/>
<circle cx="301.50" cy="76.45" r="0.9" fill="#3a3ab4"/>
<circle cx="311.20" cy="73.70" r="0.9" fill="#3a3ab4"/>
<circle cx="311.20" cy="76.45" r="0.9" fill="#3a3ab4"/>
<circle cx="320.80" cy="73.70" r="0.9" fill="#3a3ab4"/>
<circle cx="320.80" cy="76.45" r="0.9" fill="#3a3ab4"/>
<circle cx="320.80" cy="79.20" r="0.9" fill="#3a3ab4"/>
<rect x="360.90" y="13.00" width="3.7" height="52.10" fill="#c9c9c9"/>
<line x1="349.80" y1="14.00" x2="349.80" y2="65.10" stroke="#6e6e6e" stroke-width="0.85" stroke-dasharray="2,3.2"/>
<line x1="343.25" y1="14.00" x2="343.25" y2="50.62" stroke="#e59a8a" stroke-width="0.45" stroke-dasharray="1.2,1.2" opacity="0.7"/>
<rect x="341.90" y="27.20" width="2.7" height="12.60" fill="#f9e2db" stroke="#e59a8a" stroke-width="0.35" stroke-opacity="0.6"/>
<line x1="341.90" y1="36.40" x2="344.60" y2="36.40" stroke="#303040" stroke-width="0.9"/>
<line x1="347.15" y1="28.76" x2="347.15" y2="64.10" stroke="#939ce0" stroke-width="0.45" stroke-dasharray="1.2,1.2" opacity="0.7"/>
<rect x="345.80" y="42.10" width="2.7" height="12.60" fill="#dfe3f7" stroke="#939ce0" stroke-width="0.35" stroke-opacity="0.6"/>
<line x1="345.80" y1="47.80" x2="348.50" y2="47.80" stroke="#303040" stroke-width="0.9"/>
<line x1="353.00" y1="14.00" x2="353.00" y2="44.41" stroke="#e59a8a" stroke-width="0.45" stroke-dasharray="1.2,1.2" opacity="0.7"/>
<rect x="351.65" y="24.90" width="2.7" height="10.30" fill="#f9e2db" stroke="#e59a8a" stroke-width="0.35" stroke-opacity="0.6"/>
<line x1="351.65" y1="30.60" x2="354.35" y2="30.60" stroke="#303040" stroke-width="0.9"/>
<line x1="356.90" y1="16.18" x2="356.90" y2="56.06" stroke="#939ce0" stroke-width="0.45" stroke-dasharray="1.2,1.2" opacity="0.7"/>
<rect x="355.55" y="30.60" width="2.7" height="13.80" fill="#dfe3f7" stroke="#939ce0" stroke-width="0.35" stroke-opacity="0.6"/>
<line x1="355.55" y1="37.50" x2="358.25" y2="37.50" stroke="#303040" stroke-width="0.9"/>
<line x1="362.75" y1="14.00" x2="362.75" y2="48.06" stroke="#e59a8a" stroke-width="0.45" stroke-dasharray="1.2,1.2" opacity="0.7"/>
<rect x="361.40" y="22.60" width="2.7" height="13.80" fill="#f9e2db" stroke="#e59a8a" stroke-width="0.35" stroke-opacity="0.6"/>
<line x1="361.40" y1="27.20" x2="364.10" y2="27.20" stroke="#303040" stroke-width="0.9"/>
<line x1="366.65" y1="17.68" x2="366.65" y2="60.16" stroke="#939ce0" stroke-width="0.45" stroke-dasharray="1.2,1.2" opacity="0.7"/>
<rect x="365.30" y="33.00" width="2.7" height="14.80" fill="#dfe3f7" stroke="#939ce0" stroke-width="0.35" stroke-opacity="0.6"/>
<line x1="365.30" y1="42.10" x2="368.00" y2="42.10" stroke="#303040" stroke-width="0.9"/>
<line x1="372.50" y1="22.07" x2="372.50" y2="61.69" stroke="#e59a8a" stroke-width="0.45" stroke-dasharray="1.2,1.2" opacity="0.7"/>
<rect x="371.15" y="36.40" width="2.7" height="13.70" fill="#f9e2db" stroke="#e59a8a" stroke-width="0.35" stroke-opacity="0.6"/>
<line x1="371.15" y1="44.40" x2="373.85" y2="44.40" stroke="#303040" stroke-width="0.9"/>
<line x1="376.40" y1="24.16" x2="376.40" y2="60.92" stroke="#939ce0" stroke-width="0.45" stroke-dasharray="1.2,1.2" opacity="0.7"/>
<rect x="375.05" y="37.50" width="2.7" height="12.60" fill="#dfe3f7" stroke="#939ce0" stroke-width="0.35" stroke-opacity="0.6"/>
<line x1="375.05" y1="45.50" x2="377.75" y2="45.50" stroke="#303040" stroke-width="0.9"/>
<line x1="382.25" y1="24.14" x2="382.25" y2="57.78" stroke="#e59a8a" stroke-width="0.45" stroke-dasharray="1.2,1.2" opacity="0.7"/>
<rect x="380.90" y="36.40" width="2.7" height="11.40" fill="#f9e2db" stroke="#e59a8a" stroke-width="0.35" stroke-opacity="0.6"/>
<line x1="380.90" y1="43.30" x2="383.60" y2="43.30" stroke="#303040" stroke-width="0.9"/>
<line x1="386.15" y1="33.13" x2="386.15" y2="63.91" stroke="#939ce0" stroke-width="0.45" stroke-dasharray="1.2,1.2" opacity="0.7"/>
<rect x="384.80" y="44.40" width="2.7" height="10.30" fill="#dfe3f7" stroke="#939ce0" stroke-width="0.35" stroke-opacity="0.6"/>
<line x1="384.80" y1="51.30" x2="387.50" y2="51.30" stroke="#303040" stroke-width="0.9"/>
<path d="M343.3 28.5h0.9v0.8h-0.9zM343.2 39.4h0.9v0.8h-0.9zM343.1 37.1h0.9v0.8h-0.9zM342.4 39.2h0.9v0.8h-0.9zM342.8 38.9h0.9v0.8h-0.9zM353.0 30.2h0.9v0.8h-0.9zM352.6 33.6h0.9v0.8h-0.9zM352.1 34.7h0.9v0.8h-0.9zM352.7 28.6h0.9v0.8h-0.9zM352.9 27.2h0.9v0.8h-0.9zM362.0 30.3h0.9v0.8h-0.9zM362.4 25.0h0.9v0.8h-0.9zM362.4 28.8h0.9v0.8h-0.9zM361.9 35.1h0.9v0.8h-0.9zM362.0 24.3h0.9v0.8h-0.9zM372.4 38.4h0.9v0.8h-0.9zM371.8 40.1h0.9v0.8h-0.9zM371.5 48.2h0.9v0.8h-0.9zM372.4 45.8h0.9v0.8h-0.9zM371.5 47.6h0.9v0.8h-0.9zM382.3 39.7h0.9v0.8h-0.9zM381.5 46.3h0.9v0.8h-0.9zM382.0 43.9h0.9v0.8h-0.9zM382.0 47.2h0.9v0.8h-0.9zM381.8 45.6h0.9v0.8h-0.9z" fill="#b07468" opacity="0.8"/>
<path d="M343.6 19.6h0.9v0.8h-0.9zM343.4 47.7h0.9v0.8h-0.9zM341.9 26.4h0.9v0.8h-0.9zM343.3 19.4h0.9v0.8h-0.9zM343.6 23.7h0.9v0.8h-0.9zM353.5 31.2h0.9v0.8h-0.9zM352.3 36.9h0.9v0.8h-0.9zM352.4 19.0h0.9v0.8h-0.9zM353.0 15.1h0.9v0.8h-0.9zM353.2 21.3h0.9v0.8h-0.9zM361.5 35.3h0.9v0.8h-0.9zM363.0 40.2h0.9v0.8h-0.9zM362.1 22.6h0.9v0.8h-0.9zM361.3 35.6h0.9v0.8h-0.9zM362.4 25.5h0.9v0.8h-0.9zM372.5 40.1h0.9v0.8h-0.9zM372.5 39.6h0.9v0.8h-0.9zM371.5 25.8h0.9v0.8h-0.9zM371.5 23.2h0.9v0.8h-0.9zM371.7 51.4h0.9v0.8h-0.9zM382.2 52.6h0.9v0.8h-0.9zM381.7 48.1h0.9v0.8h-0.9zM381.9 34.1h0.9v0.8h-0.9zM381.2 44.7h0.9v0.8h-0.9zM381.0 54.4h0.9v0.8h-0.9z" fill="#d8b0a8" opacity="0.8"/>
<path d="M347.1 43.5h0.9v0.8h-0.9zM346.7 53.3h0.9v0.8h-0.9zM346.3 45.0h0.9v0.8h-0.9zM346.7 45.7h0.9v0.8h-0.9zM346.1 44.0h0.9v0.8h-0.9zM356.6 43.8h0.9v0.8h-0.9zM356.6 39.4h0.9v0.8h-0.9zM356.2 30.2h0.9v0.8h-0.9zM355.9 32.3h0.9v0.8h-0.9zM356.6 36.2h0.9v0.8h-0.9zM366.4 39.2h0.9v0.8h-0.9zM366.7 43.5h0.9v0.8h-0.9zM365.9 46.0h0.9v0.8h-0.9zM365.7 40.5h0.9v0.8h-0.9zM366.1 36.1h0.9v0.8h-0.9zM376.2 47.8h0.9v0.8h-0.9zM376.2 40.5h0.9v0.8h-0.9zM376.0 42.6h0.9v0.8h-0.9zM376.3 43.7h0.9v0.8h-0.9zM375.7 45.2h0.9v0.8h-0.9zM385.3 44.3h0.9v0.8h-0.9zM385.2 53.6h0.9v0.8h-0.9zM385.5 45.5h0.9v0.8h-0.9zM385.1 44.4h0.9v0.8h-0.9zM385.9 50.5h0.9v0.8h-0.9z" fill="#5a62a8" opacity="0.8"/>
<path d="M346.0 61.5h0.9v0.8h-0.9zM347.1 60.0h0.9v0.8h-0.9zM346.0 56.1h0.9v0.8h-0.9zM345.9 47.1h0.9v0.8h-0.9zM347.0 41.1h0.9v0.8h-0.9zM356.5 51.5h0.9v0.8h-0.9zM355.7 24.8h0.9v0.8h-0.9zM356.8 16.7h0.9v0.8h-0.9zM355.5 29.9h0.9v0.8h-0.9zM355.7 30.0h0.9v0.8h-0.9zM365.3 50.4h0.9v0.8h-0.9zM365.2 40.7h0.9v0.8h-0.9zM367.1 23.3h0.9v0.8h-0.9zM365.6 43.1h0.9v0.8h-0.9zM366.2 44.5h0.9v0.8h-0.9zM376.9 31.7h0.9v0.8h-0.9zM376.7 24.3h0.9v0.8h-0.9zM375.5 32.4h0.9v0.8h-0.9zM376.4 58.5h0.9v0.8h-0.9zM376.4 35.8h0.9v0.8h-0.9zM386.1 55.4h0.9v0.8h-0.9zM384.8 50.9h0.9v0.8h-0.9zM385.4 57.9h0.9v0.8h-0.9zM386.3 60.2h0.9v0.8h-0.9zM384.8 59.4h0.9v0.8h-0.9z" fill="#a8b0d8" opacity="0.8"/>
<path d="M340.5 13.00V65.5H392.70" fill="none" stroke="#8a8a8a" stroke-width="0.85"/>
<line x1="339.00" y1="13.50" x2="340.20" y2="13.50" stroke="#8a8a8a" stroke-width="0.6"/>
<text x="338.70" y="15.60" font-size="6.0" text-anchor="end" font-weight="normal" font-style="normal" fill="#2a2a2a" stroke="#2a2a2a" stroke-width="0.18" >100</text>
<line x1="339.00" y1="24.20" x2="340.20" y2="24.20" stroke="#8a8a8a" stroke-width="0.6"/>
<text x="338.70" y="26.30" font-size="6.0" text-anchor="end" font-weight="normal" font-style="normal" fill="#2a2a2a" stroke="#2a2a2a" stroke-width="0.18" >80</text>
<line x1="339.00" y1="34.40" x2="340.20" y2="34.40" stroke="#8a8a8a" stroke-width="0.6"/>
<text x="338.70" y="36.50" font-size="6.0" text-anchor="end" font-weight="normal" font-style="normal" fill="#2a2a2a" stroke="#2a2a2a" stroke-width="0.18" >60</text>
<line x1="339.00" y1="44.60" x2="340.20" y2="44.60" stroke="#8a8a8a" stroke-width="0.6"/>
<text x="338.70" y="46.70" font-size="6.0" text-anchor="end" font-weight="normal" font-style="normal" fill="#2a2a2a" stroke="#2a2a2a" stroke-width="0.18" >40</text>
<line x1="339.00" y1="54.80" x2="340.20" y2="54.80" stroke="#8a8a8a" stroke-width="0.6"/>
<text x="338.70" y="56.90" font-size="6.0" text-anchor="end" font-weight="normal" font-style="normal" fill="#2a2a2a" stroke="#2a2a2a" stroke-width="0.18" >20</text>
<text x="344.80" y="70.20" font-size="6.1" text-anchor="middle" font-weight="normal" font-style="normal" fill="#1a1a1a" stroke="#1a1a1a" stroke-width="0.18" >tp1</text>
<text x="354.55" y="70.20" font-size="6.1" text-anchor="middle" font-weight="normal" font-style="normal" fill="#1a1a1a" stroke="#1a1a1a" stroke-width="0.18" >tp2</text>
<text x="364.30" y="70.20" font-size="6.1" text-anchor="middle" font-weight="normal" font-style="normal" fill="#1a1a1a" stroke="#1a1a1a" stroke-width="0.18" >tp3</text>
<text x="374.05" y="70.20" font-size="6.1" text-anchor="middle" font-weight="normal" font-style="normal" fill="#1a1a1a" stroke="#1a1a1a" stroke-width="0.18" >tp4</text>
<text x="383.80" y="70.20" font-size="6.1" text-anchor="middle" font-weight="normal" font-style="normal" fill="#1a1a1a" stroke="#1a1a1a" stroke-width="0.18" >tp5</text>
<text x="363.70" y="7.50" font-size="7.4" text-anchor="middle" font-weight="bold" font-style="normal" fill="#111" stroke="#111" stroke-width="0.18" >PD-1</text>
<circle cx="355.80" cy="73.70" r="0.9" fill="#3a3ab4"/>
<circle cx="355.80" cy="76.45" r="0.9" fill="#3a3ab4"/>
<circle cx="355.80" cy="79.20" r="0.9" fill="#3a3ab4"/>
<circle cx="384.20" cy="73.70" r="0.9" fill="#2a2a48"/>
<circle cx="346.20" cy="10.00" r="0.75" fill="#2a2a48"/>
<rect x="423.90" y="13.00" width="3.7" height="52.10" fill="#c9c9c9"/>
<line x1="412.80" y1="14.00" x2="412.80" y2="65.10" stroke="#6e6e6e" stroke-width="0.85" stroke-dasharray="2,3.2"/>
<line x1="406.25" y1="25.36" x2="406.25" y2="62.12" stroke="#e59a8a" stroke-width="0.45" stroke-dasharray="1.2,1.2" opacity="0.7"/>
<rect x="404.90" y="38.70" width="2.7" height="12.60" fill="#f9e2db" stroke="#e59a8a" stroke-width="0.35" stroke-opacity="0.6"/>
<line x1="404.90" y1="47.80" x2="407.60" y2="47.80" stroke="#303040" stroke-width="0.9"/>
<line x1="410.15" y1="32.05" x2="410.15" y2="64.10" stroke="#939ce0" stroke-width="0.45" stroke-dasharray="1.2,1.2" opacity="0.7"/>
<rect x="408.80" y="44.40" width="2.7" height="11.50" fill="#dfe3f7" stroke="#939ce0" stroke-width="0.35" stroke-opacity="0.6"/>
<line x1="408.80" y1="52.40" x2="411.50" y2="52.40" stroke="#303040" stroke-width="0.9"/>
<line x1="416.00" y1="46.26" x2="416.00" y2="62.22" stroke="#e59a8a" stroke-width="0.45" stroke-dasharray="1.2,1.2" opacity="0.7"/>
<rect x="414.65" y="52.40" width="2.7" height="4.60" fill="#f9e2db" stroke="#e59a8a" stroke-width="0.35" stroke-opacity="0.6"/>
<line x1="414.65" y1="54.70" x2="417.35" y2="54.70" stroke="#303040" stroke-width="0.9"/>
<line x1="419.90" y1="43.09" x2="419.90" y2="64.10" stroke="#939ce0" stroke-width="0.45" stroke-dasharray="1.2,1.2" opacity="0.7"/>
<rect x="418.55" y="51.30" width="2.7" height="6.90" fill="#dfe3f7" stroke="#939ce0" stroke-width="0.35" stroke-opacity="0.6"/>
<line x1="418.55" y1="55.40" x2="421.25" y2="55.40" stroke="#303040" stroke-width="0.9"/>
<line x1="425.75" y1="36.44" x2="425.75" y2="64.10" stroke="#e59a8a" stroke-width="0.45" stroke-dasharray="1.2,1.2" opacity="0.7"/>
<rect x="424.40" y="47.80" width="2.7" height="10.40" fill="#f9e2db" stroke="#e59a8a" stroke-width="0.35" stroke-opacity="0.6"/>
<line x1="424.40" y1="55.90" x2="427.10" y2="55.90" stroke="#303040" stroke-width="0.9"/>
<line x1="429.65" y1="42.10" x2="429.65" y2="64.10" stroke="#939ce0" stroke-width="0.45" stroke-dasharray="1.2,1.2" opacity="0.7"/>
<rect x="428.30" y="51.30" width="2.7" height="8.00" fill="#dfe3f7" stroke="#939ce0" stroke-width="0.35" stroke-opacity="0.6"/>
<line x1="428.30" y1="57.00" x2="431.00" y2="57.00" stroke="#303040" stroke-width="0.9"/>
<line x1="435.50" y1="46.47" x2="435.50" y2="64.10" stroke="#e59a8a" stroke-width="0.45" stroke-dasharray="1.2,1.2" opacity="0.7"/>
<rect x="434.15" y="53.60" width="2.7" height="5.70" fill="#f9e2db" stroke="#e59a8a" stroke-width="0.35" stroke-opacity="0.6"/>
<line x1="434.15" y1="57.00" x2="436.85" y2="57.00" stroke="#303040" stroke-width="0.9"/>
<line x1="439.40" y1="44.19" x2="439.40" y2="64.10" stroke="#939ce0" stroke-width="0.45" stroke-dasharray="1.2,1.2" opacity="0.7"/>
<rect x="438.05" y="52.40" width="2.7" height="6.90" fill="#dfe3f7" stroke="#939ce0" stroke-width="0.35" stroke-opacity="0.6"/>
<line x1="438.05" y1="57.00" x2="440.75" y2="57.00" stroke="#303040" stroke-width="0.9"/>
<line x1="445.25" y1="53.77" x2="445.25" y2="64.10" stroke="#e59a8a" stroke-width="0.45" stroke-dasharray="1.2,1.2" opacity="0.7"/>
<rect x="443.90" y="58.20" width="2.7" height="2.70" fill="#f9e2db" stroke="#e59a8a" stroke-width="0.35" stroke-opacity="0.6"/>
<line x1="443.90" y1="60.00" x2="446.60" y2="60.00" stroke="#303040" stroke-width="0.9"/>
<line x1="449.15" y1="47.48" x2="449.15" y2="64.10" stroke="#939ce0" stroke-width="0.45" stroke-dasharray="1.2,1.2" opacity="0.7"/>
<rect x="447.80" y="54.70" width="2.7" height="5.80" fill="#dfe3f7" stroke="#939ce0" stroke-width="0.35" stroke-opacity="0.6"/>
<line x1="447.80" y1="58.20" x2="450.50" y2="58.20" stroke="#303040" stroke-width="0.9"/>
<path d="M406.3 50.2h0.9v0.8h-0.9zM405.3 40.9h0.9v0.8h-0.9zM405.3 38.7h0.9v0.8h-0.9zM406.2 48.5h0.9v0.8h-0.9zM406.0 48.7h0.9v0.8h-0.9zM415.0 52.9h0.9v0.8h-0.9zM415.9 56.5h0.9v0.8h-0.9zM415.0 54.3h0.9v0.8h-0.9zM415.5 55.7h0.9v0.8h-0.9zM415.2 54.3h0.9v0.8h-0.9zM425.3 55.2h0.9v0.8h-0.9zM425.6 54.1h0.9v0.8h-0.9zM425.1 50.8h0.9v0.8h-0.9zM424.9 56.2h0.9v0.8h-0.9zM425.5 55.1h0.9v0.8h-0.9zM434.7 56.8h0.9v0.8h-0.9zM434.6 54.4h0.9v0.8h-0.9zM434.9 53.4h0.9v0.8h-0.9zM434.9 57.7h0.9v0.8h-0.9zM435.3 56.1h0.9v0.8h-0.9zM444.9 58.9h0.9v0.8h-0.9zM445.0 60.3h0.9v0.8h-0.9zM444.4 59.6h0.9v0.8h-0.9zM445.1 58.8h0.9v0.8h-0.9zM444.8 60.4h0.9v0.8h-0.9z" fill="#b07468" opacity="0.8"/>
<path d="M406.1 35.5h0.9v0.8h-0.9zM405.0 28.6h0.9v0.8h-0.9zM406.3 32.5h0.9v0.8h-0.9zM405.4 40.5h0.9v0.8h-0.9zM404.8 34.4h0.9v0.8h-0.9zM415.2 59.1h0.9v0.8h-0.9zM415.1 60.9h0.9v0.8h-0.9zM415.1 49.3h0.9v0.8h-0.9zM415.9 53.8h0.9v0.8h-0.9zM414.8 56.0h0.9v0.8h-0.9zM424.6 48.2h0.9v0.8h-0.9zM425.8 52.1h0.9v0.8h-0.9zM424.6 48.8h0.9v0.8h-0.9zM426.1 42.6h0.9v0.8h-0.9zM424.7 44.4h0.9v0.8h-0.9zM435.3 54.2h0.9v0.8h-0.9zM434.3 56.7h0.9v0.8h-0.9zM434.9 59.1h0.9v0.8h-0.9zM435.9 53.7h0.9v0.8h-0.9zM435.2 59.3h0.9v0.8h-0.9zM443.9 59.0h0.9v0.8h-0.9zM444.1 61.4h0.9v0.8h-0.9zM445.7 58.7h0.9v0.8h-0.9zM444.0 59.3h0.9v0.8h-0.9zM444.9 60.8h0.9v0.8h-0.9z" fill="#d8b0a8" opacity="0.8"/>
<path d="M409.4 52.2h0.9v0.8h-0.9zM409.5 47.7h0.9v0.8h-0.9zM410.3 49.8h0.9v0.8h-0.9zM410.1 51.1h0.9v0.8h-0.9zM409.1 48.7h0.9v0.8h-0.9zM418.9 56.3h0.9v0.8h-0.9zM419.7 56.3h0.9v0.8h-0.9zM419.6 53.4h0.9v0.8h-0.9zM419.3 53.6h0.9v0.8h-0.9zM419.9 51.5h0.9v0.8h-0.9zM429.4 57.6h0.9v0.8h-0.9zM428.8 52.1h0.9v0.8h-0.9zM428.9 53.5h0.9v0.8h-0.9zM429.2 52.2h0.9v0.8h-0.9zM429.0 52.4h0.9v0.8h-0.9zM438.9 53.6h0.9v0.8h-0.9zM439.2 58.1h0.9v0.8h-0.9zM439.3 56.8h0.9v0.8h-0.9zM439.4 56.7h0.9v0.8h-0.9zM439.1 55.1h0.9v0.8h-0.9zM448.7 58.0h0.9v0.8h-0.9zM449.1 57.3h0.9v0.8h-0.9zM448.6 59.8h0.9v0.8h-0.9zM448.4 58.3h0.9v0.8h-0.9zM448.6 58.7h0.9v0.8h-0.9z" fill="#5a62a8" opacity="0.8"/>
<path d="M409.6 56.4h0.9v0.8h-0.9zM409.4 54.2h0.9v0.8h-0.9zM409.8 38.6h0.9v0.8h-0.9zM410.4 34.6h0.9v0.8h-0.9zM410.3 37.1h0.9v0.8h-0.9zM420.2 43.2h0.9v0.8h-0.9zM418.9 48.2h0.9v0.8h-0.9zM420.3 53.2h0.9v0.8h-0.9zM419.2 61.3h0.9v0.8h-0.9zM418.9 52.4h0.9v0.8h-0.9zM430.2 57.7h0.9v0.8h-0.9zM428.4 62.9h0.9v0.8h-0.9zM428.4 50.2h0.9v0.8h-0.9zM430.2 59.2h0.9v0.8h-0.9zM429.7 51.3h0.9v0.8h-0.9zM438.6 56.3h0.9v0.8h-0.9zM438.1 52.1h0.9v0.8h-0.9zM439.5 58.0h0.9v0.8h-0.9zM439.2 48.8h0.9v0.8h-0.9zM438.8 52.9h0.9v0.8h-0.9zM447.9 63.4h0.9v0.8h-0.9zM448.4 48.0h0.9v0.8h-0.9zM448.2 53.7h0.9v0.8h-0.9zM447.7 54.0h0.9v0.8h-0.9zM448.5 58.7h0.9v0.8h-0.9z" fill="#a8b0d8" opacity="0.8"/>
<path d="M403.5 13.00V65.5H455.70" fill="none" stroke="#8a8a8a" stroke-width="0.85"/>
<line x1="402.00" y1="13.50" x2="403.20" y2="13.50" stroke="#8a8a8a" stroke-width="0.6"/>
<text x="401.70" y="15.60" font-size="6.0" text-anchor="end" font-weight="normal" font-style="normal" fill="#2a2a2a" stroke="#2a2a2a" stroke-width="0.18" >80</text>
<line x1="402.00" y1="26.20" x2="403.20" y2="26.20" stroke="#8a8a8a" stroke-width="0.6"/>
<text x="401.70" y="28.30" font-size="6.0" text-anchor="end" font-weight="normal" font-style="normal" fill="#2a2a2a" stroke="#2a2a2a" stroke-width="0.18" >60</text>
<line x1="402.00" y1="38.90" x2="403.20" y2="38.90" stroke="#8a8a8a" stroke-width="0.6"/>
<text x="401.70" y="41.00" font-size="6.0" text-anchor="end" font-weight="normal" font-style="normal" fill="#2a2a2a" stroke="#2a2a2a" stroke-width="0.18" >40</text>
<line x1="402.00" y1="51.60" x2="403.20" y2="51.60" stroke="#8a8a8a" stroke-width="0.6"/>
<text x="401.70" y="53.70" font-size="6.0" text-anchor="end" font-weight="normal" font-style="normal" fill="#2a2a2a" stroke="#2a2a2a" stroke-width="0.18" >20</text>
<text x="407.80" y="70.20" font-size="6.1" text-anchor="middle" font-weight="normal" font-style="normal" fill="#1a1a1a" stroke="#1a1a1a" stroke-width="0.18" >tp1</text>
<text x="417.55" y="70.20" font-size="6.1" text-anchor="middle" font-weight="normal" font-style="normal" fill="#1a1a1a" stroke="#1a1a1a" stroke-width="0.18" >tp2</text>
<text x="427.30" y="70.20" font-size="6.1" text-anchor="middle" font-weight="normal" font-style="normal" fill="#1a1a1a" stroke="#1a1a1a" stroke-width="0.18" >tp3</text>
<text x="437.05" y="70.20" font-size="6.1" text-anchor="middle" font-weight="normal" font-style="normal" fill="#1a1a1a" stroke="#1a1a1a" stroke-width="0.18" >tp4</text>
<text x="446.80" y="70.20" font-size="6.1" text-anchor="middle" font-weight="normal" font-style="normal" fill="#1a1a1a" stroke="#1a1a1a" stroke-width="0.18" >tp5</text>
<text x="427.60" y="7.50" font-size="7.4" text-anchor="middle" font-weight="bold" font-style="normal" fill="#111" stroke="#111" stroke-width="0.18" >TIM-3</text>
<circle cx="428.90" cy="73.70" r="0.9" fill="#3a3ab4"/>
<circle cx="428.90" cy="76.45" r="0.9" fill="#3a3ab4"/>
<circle cx="428.90" cy="79.20" r="0.9" fill="#3a3ab4"/>
<circle cx="438.10" cy="73.70" r="0.9" fill="#3a3ab4"/>
<circle cx="438.10" cy="76.45" r="0.9" fill="#3a3ab4"/>
<circle cx="438.10" cy="79.20" r="0.9" fill="#3a3ab4"/>
<circle cx="443.90" cy="73.70" r="0.9" fill="#a04a40"/>
<circle cx="443.90" cy="76.45" r="0.9" fill="#a04a40"/>
<circle cx="447.30" cy="73.70" r="0.9" fill="#3a3ab4"/>
<circle cx="447.30" cy="76.45" r="0.9" fill="#3a3ab4"/>
<circle cx="447.30" cy="79.20" r="0.9" fill="#3a3ab4"/>
<rect x="487.10" y="13.00" width="3.7" height="52.10" fill="#c9c9c9"/>
<line x1="476.00" y1="14.00" x2="476.00" y2="65.10" stroke="#6e6e6e" stroke-width="0.85" stroke-dasharray="2,3.2"/>
<line x1="469.45" y1="52.51" x2="469.45" y2="64.10" stroke="#e59a8a" stroke-width="0.45" stroke-dasharray="1.2,1.2" opacity="0.7"/>
<rect x="468.10" y="58.20" width="2.7" height="4.10" fill="#f9e2db" stroke="#e59a8a" stroke-width="0.35" stroke-opacity="0.6"/>
<line x1="468.10" y1="60.00" x2="470.80" y2="60.00" stroke="#303040" stroke-width="0.9"/>
<line x1="473.35" y1="50.23" x2="473.35" y2="64.10" stroke="#939ce0" stroke-width="0.45" stroke-dasharray="1.2,1.2" opacity="0.7"/>
<rect x="472.00" y="57.00" width="2.7" height="5.30" fill="#dfe3f7" stroke="#939ce0" stroke-width="0.35" stroke-opacity="0.6"/>
<line x1="472.00" y1="59.30" x2="474.70" y2="59.30" stroke="#303040" stroke-width="0.9"/>
<line x1="479.20" y1="52.51" x2="479.20" y2="64.10" stroke="#e59a8a" stroke-width="0.45" stroke-dasharray="1.2,1.2" opacity="0.7"/>
<rect x="477.85" y="58.20" width="2.7" height="4.10" fill="#f9e2db" stroke="#e59a8a" stroke-width="0.35" stroke-opacity="0.6"/>
<line x1="477.85" y1="60.50" x2="480.55" y2="60.50" stroke="#303040" stroke-width="0.9"/>
<line x1="483.10" y1="54.60" x2="483.10" y2="64.10" stroke="#939ce0" stroke-width="0.45" stroke-dasharray="1.2,1.2" opacity="0.7"/>
<rect x="481.75" y="59.30" width="2.7" height="3.00" fill="#dfe3f7" stroke="#939ce0" stroke-width="0.35" stroke-opacity="0.6"/>
<line x1="481.75" y1="61.00" x2="484.45" y2="61.00" stroke="#303040" stroke-width="0.9"/>
<line x1="488.95" y1="52.51" x2="488.95" y2="64.10" stroke="#e59a8a" stroke-width="0.45" stroke-dasharray="1.2,1.2" opacity="0.7"/>
<rect x="487.60" y="58.20" width="2.7" height="4.10" fill="#f9e2db" stroke="#e59a8a" stroke-width="0.35" stroke-opacity="0.6"/>
<line x1="487.60" y1="60.50" x2="490.30" y2="60.50" stroke="#303040" stroke-width="0.9"/>
<line x1="492.85" y1="50.23" x2="492.85" y2="64.10" stroke="#939ce0" stroke-width="0.45" stroke-dasharray="1.2,1.2" opacity="0.7"/>
<rect x="491.50" y="57.00" width="2.7" height="5.30" fill="#dfe3f7" stroke="#939ce0" stroke-width="0.35" stroke-opacity="0.6"/>
<line x1="491.50" y1="60.00" x2="494.20" y2="60.00" stroke="#303040" stroke-width="0.9"/>
<line x1="498.70" y1="56.88" x2="498.70" y2="64.10" stroke="#e59a8a" stroke-width="0.45" stroke-dasharray="1.2,1.2" opacity="0.7"/>
<rect x="497.35" y="60.50" width="2.7" height="1.80" fill="#f9e2db" stroke="#e59a8a" stroke-width="0.35" stroke-opacity="0.6"/>
<line x1="497.35" y1="61.50" x2="500.05" y2="61.50" stroke="#303040" stroke-width="0.9"/>
<line x1="502.60" y1="34.37" x2="502.60" y2="64.10" stroke="#939ce0" stroke-width="0.45" stroke-dasharray="1.2,1.2" opacity="0.7"/>
<rect x="501.25" y="47.80" width="2.7" height="12.70" fill="#dfe3f7" stroke="#939ce0" stroke-width="0.35" stroke-opacity="0.6"/>
<line x1="501.25" y1="55.90" x2="503.95" y2="55.90" stroke="#303040" stroke-width="0.9"/>
<line x1="508.45" y1="31.29" x2="508.45" y2="64.10" stroke="#e59a8a" stroke-width="0.45" stroke-dasharray="1.2,1.2" opacity="0.7"/>
<rect x="507.10" y="46.70" width="2.7" height="14.90" fill="#f9e2db" stroke="#e59a8a" stroke-width="0.35" stroke-opacity="0.6"/>
<line x1="507.10" y1="58.20" x2="509.80" y2="58.20" stroke="#303040" stroke-width="0.9"/>
<line x1="512.35" y1="20.25" x2="512.35" y2="64.10" stroke="#939ce0" stroke-width="0.45" stroke-dasharray="1.2,1.2" opacity="0.7"/>
<rect x="511.00" y="39.80" width="2.7" height="19.50" fill="#dfe3f7" stroke="#939ce0" stroke-width="0.35" stroke-opacity="0.6"/>
<line x1="511.00" y1="52.40" x2="513.70" y2="52.40" stroke="#303040" stroke-width="0.9"/>
<path d="M468.8 58.9h0.9v0.8h-0.9zM468.7 60.8h0.9v0.8h-0.9zM469.5 60.0h0.9v0.8h-0.9zM468.7 61.1h0.9v0.8h-0.9zM468.9 58.7h0.9v0.8h-0.9zM478.7 60.4h0.9v0.8h-0.9zM478.9 59.3h0.9v0.8h-0.9zM479.3 61.3h0.9v0.8h-0.9zM478.2 61.2h0.9v0.8h-0.9zM479.2 61.0h0.9v0.8h-0.9zM488.6 58.9h0.9v0.8h-0.9zM488.2 58.4h0.9v0.8h-0.9zM488.5 58.0h0.9v0.8h-0.9zM488.5 58.4h0.9v0.8h-0.9zM488.5 59.8h0.9v0.8h-0.9zM498.3 61.5h0.9v0.8h-0.9zM497.9 60.9h0.9v0.8h-0.9zM498.2 61.1h0.9v0.8h-0.9zM498.6 60.6h0.9v0.8h-0.9zM498.6 60.8h0.9v0.8h-0.9zM508.2 49.5h0.9v0.8h-0.9zM508.2 53.1h0.9v0.8h-0.9zM508.3 47.8h0.9v0.8h-0.9zM507.6 46.9h0.9v0.8h-0.9zM508.3 59.9h0.9v0.8h-0.9z" fill="#b07468" opacity="0.8"/>
<path d="M468.3 61.1h0.9v0.8h-0.9zM469.6 59.5h0.9v0.8h-0.9zM468.9 58.6h0.9v0.8h-0.9zM468.5 63.3h0.9v0.8h-0.9zM468.7 59.5h0.9v0.8h-0.9zM478.0 61.7h0.9v0.8h-0.9zM479.0 52.3h0.9v0.8h-0.9zM477.8 63.1h0.9v0.8h-0.9zM479.1 55.0h0.9v0.8h-0.9zM478.0 53.8h0.9v0.8h-0.9zM488.6 62.1h0.9v0.8h-0.9zM487.5 61.9h0.9v0.8h-0.9zM488.4 58.6h0.9v0.8h-0.9zM488.8 61.9h0.9v0.8h-0.9zM488.2 57.0h0.9v0.8h-0.9zM498.3 58.4h0.9v0.8h-0.9zM498.3 63.5h0.9v0.8h-0.9zM498.6 62.2h0.9v0.8h-0.9zM497.9 58.8h0.9v0.8h-0.9zM497.8 60.7h0.9v0.8h-0.9zM508.3 43.0h0.9v0.8h-0.9zM508.6 56.7h0.9v0.8h-0.9zM508.1 39.4h0.9v0.8h-0.9zM507.6 44.7h0.9v0.8h-0.9zM507.6 45.0h0.9v0.8h-0.9z" fill="#d8b0a8" opacity="0.8"/>
<path d="M473.3 60.9h0.9v0.8h-0.9zM472.9 58.2h0.9v0.8h-0.9zM473.0 57.3h0.9v0.8h-0.9zM473.3 58.5h0.9v0.8h-0.9zM473.3 58.0h0.9v0.8h-0.9zM482.3 61.2h0.9v0.8h-0.9zM482.5 59.4h0.9v0.8h-0.9zM483.1 61.3h0.9v0.8h-0.9zM482.3 61.6h0.9v0.8h-0.9zM482.8 61.2h0.9v0.8h-0.9zM493.0 57.0h0.9v0.8h-0.9zM492.6 60.0h0.9v0.8h-0.9zM491.8 59.8h0.9v0.8h-0.9zM492.6 61.5h0.9v0.8h-0.9zM492.2 61.8h0.9v0.8h-0.9zM502.3 57.4h0.9v0.8h-0.9zM501.6 56.6h0.9v0.8h-0.9zM502.6 54.3h0.9v0.8h-0.9zM501.6 51.2h0.9v0.8h-0.9zM501.6 49.8h0.9v0.8h-0.9zM512.1 57.6h0.9v0.8h-0.9zM511.4 50.5h0.9v0.8h-0.9zM511.3 41.7h0.9v0.8h-0.9zM512.3 50.6h0.9v0.8h-0.9zM512.4 48.1h0.9v0.8h-0.9z" fill="#5a62a8" opacity="0.8"/>
<path d="M472.7 53.3h0.9v0.8h-0.9zM472.8 52.4h0.9v0.8h-0.9zM471.9 59.8h0.9v0.8h-0.9zM472.5 53.2h0.9v0.8h-0.9zM472.5 56.5h0.9v0.8h-0.9zM483.0 62.7h0.9v0.8h-0.9zM483.2 62.2h0.9v0.8h-0.9zM482.0 60.8h0.9v0.8h-0.9zM482.7 61.2h0.9v0.8h-0.9zM482.5 62.6h0.9v0.8h-0.9zM492.4 56.6h0.9v0.8h-0.9zM493.2 50.3h0.9v0.8h-0.9zM492.8 58.5h0.9v0.8h-0.9zM492.1 61.8h0.9v0.8h-0.9zM492.1 56.4h0.9v0.8h-0.9zM503.0 52.1h0.9v0.8h-0.9zM502.5 57.4h0.9v0.8h-0.9zM503.0 52.2h0.9v0.8h-0.9zM502.4 52.6h0.9v0.8h-0.9zM502.5 51.7h0.9v0.8h-0.9zM510.9 36.8h0.9v0.8h-0.9zM512.1 61.0h0.9v0.8h-0.9zM512.9 40.7h0.9v0.8h-0.9zM511.7 24.3h0.9v0.8h-0.9zM512.2 29.2h0.9v0.8h-0.9z" fill="#a8b0d8" opacity="0.8"/>
<path d="M466.5 13.00V65.5H518.90" fill="none" stroke="#8a8a8a" stroke-width="0.85"/>
<line x1="465.20" y1="13.50" x2="466.40" y2="13.50" stroke="#8a8a8a" stroke-width="0.6"/>
<text x="464.90" y="15.60" font-size="6.0" text-anchor="end" font-weight="normal" font-style="normal" fill="#2a2a2a" stroke="#2a2a2a" stroke-width="0.18" >60</text>
<line x1="465.20" y1="30.60" x2="466.40" y2="30.60" stroke="#8a8a8a" stroke-width="0.6"/>
<text x="464.90" y="32.70" font-size="6.0" text-anchor="end" font-weight="normal" font-style="normal" fill="#2a2a2a" stroke="#2a2a2a" stroke-width="0.18" >40</text>
<line x1="465.20" y1="47.80" x2="466.40" y2="47.80" stroke="#8a8a8a" stroke-width="0.6"/>
<text x="464.90" y="49.90" font-size="6.0" text-anchor="end" font-weight="normal" font-style="normal" fill="#2a2a2a" stroke="#2a2a2a" stroke-width="0.18" >20</text>
<text x="471.00" y="70.20" font-size="6.1" text-anchor="middle" font-weight="normal" font-style="normal" fill="#1a1a1a" stroke="#1a1a1a" stroke-width="0.18" >tp1</text>
<text x="480.75" y="70.20" font-size="6.1" text-anchor="middle" font-weight="normal" font-style="normal" fill="#1a1a1a" stroke="#1a1a1a" stroke-width="0.18" >tp2</text>
<text x="490.50" y="70.20" font-size="6.1" text-anchor="middle" font-weight="normal" font-style="normal" fill="#1a1a1a" stroke="#1a1a1a" stroke-width="0.18" >tp3</text>
<text x="500.25" y="70.20" font-size="6.1" text-anchor="middle" font-weight="normal" font-style="normal" fill="#1a1a1a" stroke="#1a1a1a" stroke-width="0.18" >tp4</text>
<text x="510.00" y="70.20" font-size="6.1" text-anchor="middle" font-weight="normal" font-style="normal" fill="#1a1a1a" stroke="#1a1a1a" stroke-width="0.18" >tp5</text>
<text x="490.90" y="7.50" font-size="7.4" text-anchor="middle" font-weight="bold" font-style="normal" fill="#111" stroke="#111" stroke-width="0.18" >RTE</text>
<circle cx="501.60" cy="73.70" r="0.9" fill="#3a3ab4"/>
<circle cx="510.90" cy="73.70" r="0.9" fill="#3a3ab4"/>
<circle cx="510.90" cy="76.45" r="0.9" fill="#3a3ab4"/>
<circle cx="510.90" cy="79.20" r="0.9" fill="#3a3ab4"/>
<rect x="46.00" y="98.50" width="3.7" height="52.10" fill="#c9c9c9"/>
<line x1="34.90" y1="99.50" x2="34.90" y2="150.60" stroke="#6e6e6e" stroke-width="0.85" stroke-dasharray="2,3.2"/>
<line x1="28.35" y1="120.97" x2="28.35" y2="139.79" stroke="#e59a8a" stroke-width="0.45" stroke-dasharray="1.2,1.2" opacity="0.7"/>
<rect x="27.00" y="128.10" width="2.7" height="5.70" fill="#f9e2db" stroke="#e59a8a" stroke-width="0.35" stroke-opacity="0.6"/>
<line x1="27.00" y1="131.60" x2="29.70" y2="131.60" stroke="#303040" stroke-width="0.9"/>
<line x1="32.25" y1="114.74" x2="32.25" y2="148.38" stroke="#939ce0" stroke-width="0.45" stroke-dasharray="1.2,1.2" opacity="0.7"/>
<rect x="30.90" y="127.00" width="2.7" height="11.40" fill="#dfe3f7" stroke="#939ce0" stroke-width="0.35" stroke-opacity="0.6"/>
<line x1="30.90" y1="133.80" x2="33.60" y2="133.80" stroke="#303040" stroke-width="0.9"/>
<line x1="38.10" y1="115.96" x2="38.10" y2="149.60" stroke="#e59a8a" stroke-width="0.45" stroke-dasharray="1.2,1.2" opacity="0.7"/>
<rect x="36.75" y="129.30" width="2.7" height="12.60" fill="#f9e2db" stroke="#e59a8a" stroke-width="0.35" stroke-opacity="0.6"/>
<line x1="36.75" y1="135.00" x2="39.45" y2="135.00" stroke="#303040" stroke-width="0.9"/>
<line x1="42.00" y1="110.16" x2="42.00" y2="146.92" stroke="#939ce0" stroke-width="0.45" stroke-dasharray="1.2,1.2" opacity="0.7"/>
<rect x="40.65" y="123.50" width="2.7" height="12.60" fill="#dfe3f7" stroke="#939ce0" stroke-width="0.35" stroke-opacity="0.6"/>
<line x1="40.65" y1="130.40" x2="43.35" y2="130.40" stroke="#303040" stroke-width="0.9"/>
<line x1="47.85" y1="112.69" x2="47.85" y2="149.60" stroke="#e59a8a" stroke-width="0.45" stroke-dasharray="1.2,1.2" opacity="0.7"/>
<rect x="46.50" y="128.10" width="2.7" height="14.90" fill="#f9e2db" stroke="#e59a8a" stroke-width="0.35" stroke-opacity="0.6"/>
<line x1="46.50" y1="138.40" x2="49.20" y2="138.40" stroke="#303040" stroke-width="0.9"/>
<line x1="51.75" y1="112.44" x2="51.75" y2="146.08" stroke="#939ce0" stroke-width="0.45" stroke-dasharray="1.2,1.2" opacity="0.7"/>
<rect x="50.40" y="124.70" width="2.7" height="11.40" fill="#dfe3f7" stroke="#939ce0" stroke-width="0.35" stroke-opacity="0.6"/>
<line x1="50.40" y1="130.40" x2="53.10" y2="130.40" stroke="#303040" stroke-width="0.9"/>
<line x1="57.60" y1="112.46" x2="57.60" y2="149.22" stroke="#e59a8a" stroke-width="0.45" stroke-dasharray="1.2,1.2" opacity="0.7"/>
<rect x="56.25" y="125.80" width="2.7" height="12.60" fill="#f9e2db" stroke="#e59a8a" stroke-width="0.35" stroke-opacity="0.6"/>
<line x1="56.25" y1="132.70" x2="58.95" y2="132.70" stroke="#303040" stroke-width="0.9"/>
<line x1="61.50" y1="112.23" x2="61.50" y2="143.01" stroke="#939ce0" stroke-width="0.45" stroke-dasharray="1.2,1.2" opacity="0.7"/>
<rect x="60.15" y="123.50" width="2.7" height="10.30" fill="#dfe3f7" stroke="#939ce0" stroke-width="0.35" stroke-opacity="0.6"/>
<line x1="60.15" y1="130.40" x2="62.85" y2="130.40" stroke="#303040" stroke-width="0.9"/>
<line x1="67.35" y1="108.09" x2="67.35" y2="149.60" stroke="#e59a8a" stroke-width="0.45" stroke-dasharray="1.2,1.2" opacity="0.7"/>
<rect x="66.00" y="123.50" width="2.7" height="14.90" fill="#f9e2db" stroke="#e59a8a" stroke-width="0.35" stroke-opacity="0.6"/>
<line x1="66.00" y1="132.70" x2="68.70" y2="132.70" stroke="#303040" stroke-width="0.9"/>
<line x1="71.25" y1="111.15" x2="71.25" y2="145.05" stroke="#939ce0" stroke-width="0.45" stroke-dasharray="1.2,1.2" opacity="0.7"/>
<rect x="69.90" y="123.50" width="2.7" height="11.50" fill="#dfe3f7" stroke="#939ce0" stroke-width="0.35" stroke-opacity="0.6"/>
<line x1="69.90" y1="128.10" x2="72.60" y2="128.10" stroke="#303040" stroke-width="0.9"/>
<path d="M27.5 127.8h0.9v0.8h-0.9zM27.3 131.6h0.9v0.8h-0.9zM27.4 133.2h0.9v0.8h-0.9zM27.4 132.7h0.9v0.8h-0.9zM27.5 127.8h0.9v0.8h-0.9zM37.6 137.4h0.9v0.8h-0.9zM37.2 138.9h0.9v0.8h-0.9zM37.5 137.0h0.9v0.8h-0.9zM37.8 134.2h0.9v0.8h-0.9zM37.5 138.8h0.9v0.8h-0.9zM47.8 140.6h0.9v0.8h-0.9zM47.5 131.8h0.9v0.8h-0.9zM47.8 139.7h0.9v0.8h-0.9zM47.6 141.3h0.9v0.8h-0.9zM47.2 129.0h0.9v0.8h-0.9zM57.0 131.9h0.9v0.8h-0.9zM56.7 126.0h0.9v0.8h-0.9zM57.7 130.1h0.9v0.8h-0.9zM56.7 133.4h0.9v0.8h-0.9zM57.5 127.4h0.9v0.8h-0.9zM66.4 137.4h0.9v0.8h-0.9zM66.6 131.5h0.9v0.8h-0.9zM67.1 137.4h0.9v0.8h-0.9zM67.1 129.0h0.9v0.8h-0.9zM66.8 125.5h0.9v0.8h-0.9z" fill="#b07468" opacity="0.8"/>
<path d="M28.3 125.1h0.9v0.8h-0.9zM28.4 124.1h0.9v0.8h-0.9zM27.0 135.1h0.9v0.8h-0.9zM28.3 136.7h0.9v0.8h-0.9zM28.4 122.2h0.9v0.8h-0.9zM38.5 142.0h0.9v0.8h-0.9zM37.8 125.4h0.9v0.8h-0.9zM36.8 148.3h0.9v0.8h-0.9zM38.1 143.4h0.9v0.8h-0.9zM37.3 135.9h0.9v0.8h-0.9zM47.5 141.7h0.9v0.8h-0.9zM46.8 140.0h0.9v0.8h-0.9zM48.3 120.9h0.9v0.8h-0.9zM47.6 137.3h0.9v0.8h-0.9zM47.3 119.9h0.9v0.8h-0.9zM57.3 124.7h0.9v0.8h-0.9zM57.2 112.8h0.9v0.8h-0.9zM56.2 148.5h0.9v0.8h-0.9zM57.9 129.9h0.9v0.8h-0.9zM57.3 121.7h0.9v0.8h-0.9zM67.8 148.9h0.9v0.8h-0.9zM66.3 109.3h0.9v0.8h-0.9zM66.4 122.3h0.9v0.8h-0.9zM67.7 145.2h0.9v0.8h-0.9zM67.6 109.6h0.9v0.8h-0.9z" fill="#d8b0a8" opacity="0.8"/>
<path d="M32.0 134.7h0.9v0.8h-0.9zM31.8 137.2h0.9v0.8h-0.9zM31.5 137.6h0.9v0.8h-0.9zM32.1 126.7h0.9v0.8h-0.9zM31.2 134.0h0.9v0.8h-0.9zM42.1 133.6h0.9v0.8h-0.9zM41.7 127.0h0.9v0.8h-0.9zM41.5 134.3h0.9v0.8h-0.9zM41.4 131.7h0.9v0.8h-0.9zM41.7 134.4h0.9v0.8h-0.9zM51.0 132.9h0.9v0.8h-0.9zM51.6 129.5h0.9v0.8h-0.9zM50.8 133.5h0.9v0.8h-0.9zM51.6 127.0h0.9v0.8h-0.9zM51.4 134.5h0.9v0.8h-0.9zM61.4 127.5h0.9v0.8h-0.9zM61.6 131.0h0.9v0.8h-0.9zM61.4 133.0h0.9v0.8h-0.9zM60.8 123.5h0.9v0.8h-0.9zM60.7 125.0h0.9v0.8h-0.9zM71.1 131.3h0.9v0.8h-0.9zM71.0 134.4h0.9v0.8h-0.9zM70.3 124.8h0.9v0.8h-0.9zM71.1 133.9h0.9v0.8h-0.9zM71.0 126.5h0.9v0.8h-0.9z" fill="#5a62a8" opacity="0.8"/>
<path d="M32.4 117.0h0.9v0.8h-0.9zM31.4 138.9h0.9v0.8h-0.9zM31.1 143.3h0.9v0.8h-0.9zM31.8 116.4h0.9v0.8h-0.9zM31.5 133.7h0.9v0.8h-0.9zM42.2 120.2h0.9v0.8h-0.9zM40.6 119.4h0.9v0.8h-0.9zM41.4 131.3h0.9v0.8h-0.9zM42.2 142.4h0.9v0.8h-0.9zM40.6 140.4h0.9v0.8h-0.9zM52.1 129.6h0.9v0.8h-0.9zM51.3 131.9h0.9v0.8h-0.9zM50.7 118.5h0.9v0.8h-0.9zM50.7 135.6h0.9v0.8h-0.9zM51.0 131.0h0.9v0.8h-0.9zM60.2 113.4h0.9v0.8h-0.9zM61.2 138.6h0.9v0.8h-0.9zM61.0 141.0h0.9v0.8h-0.9zM61.9 113.8h0.9v0.8h-0.9zM61.2 124.1h0.9v0.8h-0.9zM71.0 136.4h0.9v0.8h-0.9zM70.0 121.7h0.9v0.8h-0.9zM70.3 115.0h0.9v0.8h-0.9zM70.8 116.5h0.9v0.8h-0.9zM70.3 115.6h0.9v0.8h-0.9z" fill="#a8b0d8" opacity="0.8"/>
<path d="M25.5 98.50V150.5H77.80" fill="none" stroke="#8a8a8a" stroke-width="0.85"/>
<line x1="24.10" y1="99.00" x2="25.30" y2="99.00" stroke="#8a8a8a" stroke-width="0.6"/>
<text x="23.80" y="101.10" font-size="6.0" text-anchor="end" font-weight="normal" font-style="normal" fill="#2a2a2a" stroke="#2a2a2a" stroke-width="0.18" >60</text>
<line x1="24.10" y1="116.80" x2="25.30" y2="116.80" stroke="#8a8a8a" stroke-width="0.6"/>
<text x="23.80" y="118.90" font-size="6.0" text-anchor="end" font-weight="normal" font-style="normal" fill="#2a2a2a" stroke="#2a2a2a" stroke-width="0.18" >40</text>
<line x1="24.10" y1="134.40" x2="25.30" y2="134.40" stroke="#8a8a8a" stroke-width="0.6"/>
<text x="23.80" y="136.50" font-size="6.0" text-anchor="end" font-weight="normal" font-style="normal" fill="#2a2a2a" stroke="#2a2a2a" stroke-width="0.18" >20</text>
<text x="29.90" y="156.50" font-size="6.1" text-anchor="middle" font-weight="normal" font-style="normal" fill="#1a1a1a" stroke="#1a1a1a" stroke-width="0.18" >tp1</text>
<text x="39.65" y="156.50" font-size="6.1" text-anchor="middle" font-weight="normal" font-style="normal" fill="#1a1a1a" stroke="#1a1a1a" stroke-width="0.18" >tp2</text>
<text x="49.40" y="156.50" font-size="6.1" text-anchor="middle" font-weight="normal" font-style="normal" fill="#1a1a1a" stroke="#1a1a1a" stroke-width="0.18" >tp3</text>
<text x="59.15" y="156.50" font-size="6.1" text-anchor="middle" font-weight="normal" font-style="normal" fill="#1a1a1a" stroke="#1a1a1a" stroke-width="0.18" >tp4</text>
<text x="68.90" y="156.50" font-size="6.1" text-anchor="middle" font-weight="normal" font-style="normal" fill="#1a1a1a" stroke="#1a1a1a" stroke-width="0.18" >tp5</text>
<text x="48.80" y="92.80" font-size="7.4" text-anchor="middle" font-weight="bold" font-style="normal" fill="#111" stroke="#111" stroke-width="0.18" >CD7</text>
<rect x="108.70" y="98.50" width="3.7" height="52.10" fill="#c9c9c9"/>
<line x1="97.60" y1="99.50" x2="97.60" y2="150.60" stroke="#6e6e6e" stroke-width="0.85" stroke-dasharray="2,3.2"/>
<line x1="91.05" y1="117.04" x2="91.05" y2="149.60" stroke="#e59a8a" stroke-width="0.45" stroke-dasharray="1.2,1.2" opacity="0.7"/>
<rect x="89.70" y="129.30" width="2.7" height="11.40" fill="#f9e2db" stroke="#e59a8a" stroke-width="0.35" stroke-opacity="0.6"/>
<line x1="89.70" y1="137.30" x2="92.40" y2="137.30" stroke="#303040" stroke-width="0.9"/>
<line x1="94.95" y1="110.39" x2="94.95" y2="149.60" stroke="#939ce0" stroke-width="0.45" stroke-dasharray="1.2,1.2" opacity="0.7"/>
<rect x="93.60" y="125.80" width="2.7" height="14.90" fill="#dfe3f7" stroke="#939ce0" stroke-width="0.35" stroke-opacity="0.6"/>
<line x1="93.60" y1="137.30" x2="96.30" y2="137.30" stroke="#303040" stroke-width="0.9"/>
<line x1="100.80" y1="114.76" x2="100.80" y2="149.60" stroke="#e59a8a" stroke-width="0.45" stroke-dasharray="1.2,1.2" opacity="0.7"/>
<rect x="99.45" y="128.10" width="2.7" height="12.60" fill="#f9e2db" stroke="#e59a8a" stroke-width="0.35" stroke-opacity="0.6"/>
<line x1="99.45" y1="136.10" x2="102.15" y2="136.10" stroke="#303040" stroke-width="0.9"/>
<line x1="104.70" y1="109.06" x2="104.70" y2="145.82" stroke="#939ce0" stroke-width="0.45" stroke-dasharray="1.2,1.2" opacity="0.7"/>
<rect x="103.35" y="122.40" width="2.7" height="12.60" fill="#dfe3f7" stroke="#939ce0" stroke-width="0.35" stroke-opacity="0.6"/>
<line x1="103.35" y1="128.10" x2="106.05" y2="128.10" stroke="#303040" stroke-width="0.9"/>
<line x1="110.55" y1="115.96" x2="110.55" y2="149.60" stroke="#e59a8a" stroke-width="0.45" stroke-dasharray="1.2,1.2" opacity="0.7"/>
<rect x="109.20" y="129.30" width="2.7" height="12.60" fill="#f9e2db" stroke="#e59a8a" stroke-width="0.35" stroke-opacity="0.6"/>
<line x1="109.20" y1="137.30" x2="111.90" y2="137.30" stroke="#303040" stroke-width="0.9"/>
<line x1="114.45" y1="102.41" x2="114.45" y2="148.27" stroke="#939ce0" stroke-width="0.45" stroke-dasharray="1.2,1.2" opacity="0.7"/>
<rect x="113.10" y="118.90" width="2.7" height="16.10" fill="#dfe3f7" stroke="#939ce0" stroke-width="0.35" stroke-opacity="0.6"/>
<line x1="113.10" y1="130.40" x2="115.80" y2="130.40" stroke="#303040" stroke-width="0.9"/>
<line x1="120.30" y1="115.75" x2="120.30" y2="149.60" stroke="#e59a8a" stroke-width="0.45" stroke-dasharray="1.2,1.2" opacity="0.7"/>
<rect x="118.95" y="128.10" width="2.7" height="11.50" fill="#f9e2db" stroke="#e59a8a" stroke-width="0.35" stroke-opacity="0.6"/>
<line x1="118.95" y1="135.00" x2="121.65" y2="135.00" stroke="#303040" stroke-width="0.9"/>
<line x1="124.20" y1="108.85" x2="124.20" y2="142.75" stroke="#939ce0" stroke-width="0.45" stroke-dasharray="1.2,1.2" opacity="0.7"/>
<rect x="122.85" y="121.20" width="2.7" height="11.50" fill="#dfe3f7" stroke="#939ce0" stroke-width="0.35" stroke-opacity="0.6"/>
<line x1="122.85" y1="127.00" x2="125.55" y2="127.00" stroke="#303040" stroke-width="0.9"/>
<line x1="130.05" y1="99.50" x2="130.05" y2="147.84" stroke="#e59a8a" stroke-width="0.45" stroke-dasharray="1.2,1.2" opacity="0.7"/>
<rect x="128.70" y="116.60" width="2.7" height="17.20" fill="#f9e2db" stroke="#e59a8a" stroke-width="0.35" stroke-opacity="0.6"/>
<line x1="128.70" y1="130.40" x2="131.40" y2="130.40" stroke="#303040" stroke-width="0.9"/>
<line x1="133.95" y1="105.77" x2="133.95" y2="145.39" stroke="#939ce0" stroke-width="0.45" stroke-dasharray="1.2,1.2" opacity="0.7"/>
<rect x="132.60" y="120.10" width="2.7" height="13.70" fill="#dfe3f7" stroke="#939ce0" stroke-width="0.35" stroke-opacity="0.6"/>
<line x1="132.60" y1="124.70" x2="135.30" y2="124.70" stroke="#303040" stroke-width="0.9"/>
<path d="M90.8 129.0h0.9v0.8h-0.9zM90.9 131.1h0.9v0.8h-0.9zM90.0 139.5h0.9v0.8h-0.9zM90.3 139.5h0.9v0.8h-0.9zM91.0 139.0h0.9v0.8h-0.9zM99.8 139.0h0.9v0.8h-0.9zM100.6 130.4h0.9v0.8h-0.9zM100.3 131.3h0.9v0.8h-0.9zM100.1 130.2h0.9v0.8h-0.9zM100.2 140.2h0.9v0.8h-0.9zM109.8 131.5h0.9v0.8h-0.9zM110.2 137.8h0.9v0.8h-0.9zM110.5 136.2h0.9v0.8h-0.9zM109.7 129.7h0.9v0.8h-0.9zM110.4 134.0h0.9v0.8h-0.9zM119.3 137.7h0.9v0.8h-0.9zM120.4 133.4h0.9v0.8h-0.9zM119.9 133.8h0.9v0.8h-0.9zM119.9 127.9h0.9v0.8h-0.9zM120.4 130.3h0.9v0.8h-0.9zM130.0 132.3h0.9v0.8h-0.9zM129.5 123.4h0.9v0.8h-0.9zM130.0 125.2h0.9v0.8h-0.9zM129.5 132.4h0.9v0.8h-0.9zM129.9 122.0h0.9v0.8h-0.9z" fill="#b07468" opacity="0.8"/>
<path d="M89.9 131.2h0.9v0.8h-0.9zM89.8 146.9h0.9v0.8h-0.9zM91.3 137.1h0.9v0.8h-0.9zM90.5 127.7h0.9v0.8h-0.9zM91.2 132.2h0.9v0.8h-0.9zM101.3 146.6h0.9v0.8h-0.9zM99.5 124.4h0.9v0.8h-0.9zM101.1 116.4h0.9v0.8h-0.9zM100.8 124.6h0.9v0.8h-0.9zM101.3 114.9h0.9v0.8h-0.9zM110.5 117.4h0.9v0.8h-0.9zM110.7 126.8h0.9v0.8h-0.9zM110.8 144.6h0.9v0.8h-0.9zM110.1 116.1h0.9v0.8h-0.9zM110.9 131.6h0.9v0.8h-0.9zM119.2 118.8h0.9v0.8h-0.9zM119.4 143.0h0.9v0.8h-0.9zM118.9 118.6h0.9v0.8h-0.9zM120.2 122.0h0.9v0.8h-0.9zM118.9 135.6h0.9v0.8h-0.9zM129.1 115.3h0.9v0.8h-0.9zM129.5 146.5h0.9v0.8h-0.9zM130.2 143.2h0.9v0.8h-0.9zM130.2 140.1h0.9v0.8h-0.9zM128.7 124.1h0.9v0.8h-0.9z" fill="#d8b0a8" opacity="0.8"/>
<path d="M94.7 127.5h0.9v0.8h-0.9zM94.2 126.2h0.9v0.8h-0.9zM94.8 133.6h0.9v0.8h-0.9zM94.1 138.4h0.9v0.8h-0.9zM94.2 131.5h0.9v0.8h-0.9zM104.6 126.3h0.9v0.8h-0.9zM103.8 122.0h0.9v0.8h-0.9zM104.6 128.6h0.9v0.8h-0.9zM103.9 127.5h0.9v0.8h-0.9zM104.7 124.8h0.9v0.8h-0.9zM114.4 122.8h0.9v0.8h-0.9zM113.6 131.9h0.9v0.8h-0.9zM113.8 121.1h0.9v0.8h-0.9zM113.8 128.1h0.9v0.8h-0.9zM113.4 126.9h0.9v0.8h-0.9zM123.8 126.8h0.9v0.8h-0.9zM124.0 122.0h0.9v0.8h-0.9zM124.2 129.0h0.9v0.8h-0.9zM123.2 122.2h0.9v0.8h-0.9zM123.7 126.6h0.9v0.8h-0.9zM134.0 132.5h0.9v0.8h-0.9zM133.2 125.5h0.9v0.8h-0.9zM133.7 124.7h0.9v0.8h-0.9zM133.5 120.6h0.9v0.8h-0.9zM133.4 126.6h0.9v0.8h-0.9z" fill="#5a62a8" opacity="0.8"/>
<path d="M93.8 120.6h0.9v0.8h-0.9zM95.2 123.1h0.9v0.8h-0.9zM93.8 129.2h0.9v0.8h-0.9zM94.1 145.4h0.9v0.8h-0.9zM93.7 148.4h0.9v0.8h-0.9zM104.4 113.7h0.9v0.8h-0.9zM103.6 137.0h0.9v0.8h-0.9zM104.7 115.9h0.9v0.8h-0.9zM103.4 111.9h0.9v0.8h-0.9zM104.5 126.9h0.9v0.8h-0.9zM113.9 125.7h0.9v0.8h-0.9zM113.2 134.8h0.9v0.8h-0.9zM114.6 141.7h0.9v0.8h-0.9zM113.6 134.6h0.9v0.8h-0.9zM113.8 136.5h0.9v0.8h-0.9zM123.3 112.6h0.9v0.8h-0.9zM123.6 113.1h0.9v0.8h-0.9zM123.9 137.6h0.9v0.8h-0.9zM123.0 127.9h0.9v0.8h-0.9zM124.2 114.0h0.9v0.8h-0.9zM132.5 110.9h0.9v0.8h-0.9zM134.4 136.1h0.9v0.8h-0.9zM134.4 130.5h0.9v0.8h-0.9zM134.1 140.4h0.9v0.8h-0.9zM134.3 106.7h0.9v0.8h-0.9z" fill="#a8b0d8" opacity="0.8"/>
<path d="M88.5 98.50V150.5H140.50" fill="none" stroke="#8a8a8a" stroke-width="0.85"/>
<line x1="86.80" y1="99.00" x2="88.00" y2="99.00" stroke="#8a8a8a" stroke-width="0.6"/>
<text x="86.50" y="101.10" font-size="6.0" text-anchor="end" font-weight="normal" font-style="normal" fill="#2a2a2a" stroke="#2a2a2a" stroke-width="0.18" >100</text>
<line x1="86.80" y1="109.90" x2="88.00" y2="109.90" stroke="#8a8a8a" stroke-width="0.6"/>
<text x="86.50" y="112.00" font-size="6.0" text-anchor="end" font-weight="normal" font-style="normal" fill="#2a2a2a" stroke="#2a2a2a" stroke-width="0.18" >80</text>
<line x1="86.80" y1="120.20" x2="88.00" y2="120.20" stroke="#8a8a8a" stroke-width="0.6"/>
<text x="86.50" y="122.30" font-size="6.0" text-anchor="end" font-weight="normal" font-style="normal" fill="#2a2a2a" stroke="#2a2a2a" stroke-width="0.18" >60</text>
<line x1="86.80" y1="130.60" x2="88.00" y2="130.60" stroke="#8a8a8a" stroke-width="0.6"/>
<text x="86.50" y="132.70" font-size="6.0" text-anchor="end" font-weight="normal" font-style="normal" fill="#2a2a2a" stroke="#2a2a2a" stroke-width="0.18" >40</text>
<line x1="86.80" y1="140.90" x2="88.00" y2="140.90" stroke="#8a8a8a" stroke-width="0.6"/>
<text x="86.50" y="143.00" font-size="6.0" text-anchor="end" font-weight="normal" font-style="normal" fill="#2a2a2a" stroke="#2a2a2a" stroke-width="0.18" >20</text>
<text x="92.60" y="156.50" font-size="6.1" text-anchor="middle" font-weight="normal" font-style="normal" fill="#1a1a1a" stroke="#1a1a1a" stroke-width="0.18" >tp1</text>
<text x="102.35" y="156.50" font-size="6.1" text-anchor="middle" font-weight="normal" font-style="normal" fill="#1a1a1a" stroke="#1a1a1a" stroke-width="0.18" >tp2</text>
<text x="112.10" y="156.50" font-size="6.1" text-anchor="middle" font-weight="normal" font-style="normal" fill="#1a1a1a" stroke="#1a1a1a" stroke-width="0.18" >tp3</text>
<text x="121.85" y="156.50" font-size="6.1" text-anchor="middle" font-weight="normal" font-style="normal" fill="#1a1a1a" stroke="#1a1a1a" stroke-width="0.18" >tp4</text>
<text x="131.60" y="156.50" font-size="6.1" text-anchor="middle" font-weight="normal" font-style="normal" fill="#1a1a1a" stroke="#1a1a1a" stroke-width="0.18" >tp5</text>
<text x="113.30" y="92.80" font-size="7.4" text-anchor="middle" font-weight="bold" font-style="normal" fill="#111" stroke="#111" stroke-width="0.18" >CD28</text>
<circle cx="113.50" cy="160.70" r="0.9" fill="#3a3ab4"/>
<circle cx="113.50" cy="163.45" r="0.9" fill="#3a3ab4"/>
<circle cx="122.80" cy="160.70" r="0.9" fill="#2a2a48"/>
<circle cx="132.00" cy="160.70" r="0.9" fill="#2a2a48"/>
<circle cx="132.00" cy="163.45" r="0.9" fill="#2a2a48"/>
<circle cx="112.20" cy="95.50" r="0.75" fill="#2a2a48"/>
<rect x="170.60" y="98.50" width="3.7" height="52.10" fill="#c9c9c9"/>
<line x1="159.50" y1="99.50" x2="159.50" y2="150.60" stroke="#6e6e6e" stroke-width="0.85" stroke-dasharray="2,3.2"/>
<line x1="152.95" y1="101.08" x2="152.95" y2="140.96" stroke="#e59a8a" stroke-width="0.45" stroke-dasharray="1.2,1.2" opacity="0.7"/>
<rect x="151.60" y="115.50" width="2.7" height="13.80" fill="#f9e2db" stroke="#e59a8a" stroke-width="0.35" stroke-opacity="0.6"/>
<line x1="151.60" y1="125.40" x2="154.30" y2="125.40" stroke="#303040" stroke-width="0.9"/>
<line x1="156.85" y1="102.18" x2="156.85" y2="142.06" stroke="#939ce0" stroke-width="0.45" stroke-dasharray="1.2,1.2" opacity="0.7"/>
<rect x="155.50" y="116.60" width="2.7" height="13.80" fill="#dfe3f7" stroke="#939ce0" stroke-width="0.35" stroke-opacity="0.6"/>
<line x1="155.50" y1="124.70" x2="158.20" y2="124.70" stroke="#303040" stroke-width="0.9"/>
<line x1="162.70" y1="104.48" x2="162.70" y2="144.36" stroke="#e59a8a" stroke-width="0.45" stroke-dasharray="1.2,1.2" opacity="0.7"/>
<rect x="161.35" y="118.90" width="2.7" height="13.80" fill="#f9e2db" stroke="#e59a8a" stroke-width="0.35" stroke-opacity="0.6"/>
<line x1="161.35" y1="125.40" x2="164.05" y2="125.40" stroke="#303040" stroke-width="0.9"/>
<line x1="166.60" y1="99.50" x2="166.60" y2="136.36" stroke="#939ce0" stroke-width="0.45" stroke-dasharray="1.2,1.2" opacity="0.7"/>
<rect x="165.25" y="110.90" width="2.7" height="13.80" fill="#dfe3f7" stroke="#939ce0" stroke-width="0.35" stroke-opacity="0.6"/>
<line x1="165.25" y1="120.10" x2="167.95" y2="120.10" stroke="#303040" stroke-width="0.9"/>
<line x1="172.45" y1="99.50" x2="172.45" y2="138.66" stroke="#e59a8a" stroke-width="0.45" stroke-dasharray="1.2,1.2" opacity="0.7"/>
<rect x="171.10" y="113.20" width="2.7" height="13.80" fill="#f9e2db" stroke="#e59a8a" stroke-width="0.35" stroke-opacity="0.6"/>
<line x1="171.10" y1="123.50" x2="173.80" y2="123.50" stroke="#303040" stroke-width="0.9"/>
<line x1="176.35" y1="99.50" x2="176.35" y2="138.66" stroke="#939ce0" stroke-width="0.45" stroke-dasharray="1.2,1.2" opacity="0.7"/>
<rect x="175.00" y="113.20" width="2.7" height="13.80" fill="#dfe3f7" stroke="#939ce0" stroke-width="0.35" stroke-opacity="0.6"/>
<line x1="175.00" y1="120.10" x2="177.70" y2="120.10" stroke="#303040" stroke-width="0.9"/>
<line x1="182.20" y1="104.23" x2="182.20" y2="135.01" stroke="#e59a8a" stroke-width="0.45" stroke-dasharray="1.2,1.2" opacity="0.7"/>
<rect x="180.85" y="115.50" width="2.7" height="10.30" fill="#f9e2db" stroke="#e59a8a" stroke-width="0.35" stroke-opacity="0.6"/>
<line x1="180.85" y1="120.10" x2="183.55" y2="120.10" stroke="#303040" stroke-width="0.9"/>
<line x1="186.10" y1="99.65" x2="186.10" y2="133.55" stroke="#939ce0" stroke-width="0.45" stroke-dasharray="1.2,1.2" opacity="0.7"/>
<rect x="184.75" y="112.00" width="2.7" height="11.50" fill="#dfe3f7" stroke="#939ce0" stroke-width="0.35" stroke-opacity="0.6"/>
<line x1="184.75" y1="120.10" x2="187.45" y2="120.10" stroke="#303040" stroke-width="0.9"/>
<line x1="191.95" y1="102.16" x2="191.95" y2="138.92" stroke="#e59a8a" stroke-width="0.45" stroke-dasharray="1.2,1.2" opacity="0.7"/>
<rect x="190.60" y="115.50" width="2.7" height="12.60" fill="#f9e2db" stroke="#e59a8a" stroke-width="0.35" stroke-opacity="0.6"/>
<line x1="190.60" y1="118.90" x2="193.30" y2="118.90" stroke="#303040" stroke-width="0.9"/>
<line x1="195.85" y1="102.92" x2="195.85" y2="130.84" stroke="#939ce0" stroke-width="0.45" stroke-dasharray="1.2,1.2" opacity="0.7"/>
<rect x="194.50" y="113.20" width="2.7" height="9.20" fill="#dfe3f7" stroke="#939ce0" stroke-width="0.35" stroke-opacity="0.6"/>
<line x1="194.50" y1="117.80" x2="197.20" y2="117.80" stroke="#303040" stroke-width="0.9"/>
<path d="M152.7 118.8h0.9v0.8h-0.9zM152.7 118.9h0.9v0.8h-0.9zM152.6 127.9h0.9v0.8h-0.9zM152.6 118.6h0.9v0.8h-0.9zM152.5 121.1h0.9v0.8h-0.9zM162.0 121.8h0.9v0.8h-0.9zM161.9 125.6h0.9v0.8h-0.9zM162.1 126.6h0.9v0.8h-0.9zM161.7 123.4h0.9v0.8h-0.9zM162.7 121.8h0.9v0.8h-0.9zM172.3 122.6h0.9v0.8h-0.9zM172.5 114.6h0.9v0.8h-0.9zM172.4 112.9h0.9v0.8h-0.9zM172.3 120.9h0.9v0.8h-0.9zM172.0 126.1h0.9v0.8h-0.9zM181.7 124.5h0.9v0.8h-0.9zM181.2 115.6h0.9v0.8h-0.9zM181.8 120.2h0.9v0.8h-0.9zM182.3 123.1h0.9v0.8h-0.9zM181.8 125.4h0.9v0.8h-0.9zM192.0 123.8h0.9v0.8h-0.9zM191.9 127.6h0.9v0.8h-0.9zM192.0 120.4h0.9v0.8h-0.9zM191.1 118.8h0.9v0.8h-0.9zM191.5 121.5h0.9v0.8h-0.9z" fill="#b07468" opacity="0.8"/>
<path d="M153.4 112.1h0.9v0.8h-0.9zM152.1 126.5h0.9v0.8h-0.9zM151.7 124.4h0.9v0.8h-0.9zM153.4 121.2h0.9v0.8h-0.9zM152.0 119.3h0.9v0.8h-0.9zM162.4 123.7h0.9v0.8h-0.9zM161.8 143.5h0.9v0.8h-0.9zM161.8 134.9h0.9v0.8h-0.9zM161.6 106.7h0.9v0.8h-0.9zM163.0 121.6h0.9v0.8h-0.9zM172.1 115.5h0.9v0.8h-0.9zM172.6 133.3h0.9v0.8h-0.9zM172.2 114.0h0.9v0.8h-0.9zM171.9 117.0h0.9v0.8h-0.9zM172.4 110.6h0.9v0.8h-0.9zM181.8 119.8h0.9v0.8h-0.9zM182.1 115.8h0.9v0.8h-0.9zM181.5 122.1h0.9v0.8h-0.9zM181.5 133.0h0.9v0.8h-0.9zM182.1 120.0h0.9v0.8h-0.9zM190.9 108.5h0.9v0.8h-0.9zM191.8 123.9h0.9v0.8h-0.9zM191.2 138.3h0.9v0.8h-0.9zM191.8 103.3h0.9v0.8h-0.9zM191.3 130.7h0.9v0.8h-0.9z" fill="#d8b0a8" opacity="0.8"/>
<path d="M156.4 118.2h0.9v0.8h-0.9zM155.9 118.0h0.9v0.8h-0.9zM156.2 121.8h0.9v0.8h-0.9zM156.1 119.6h0.9v0.8h-0.9zM155.9 123.7h0.9v0.8h-0.9zM165.6 115.9h0.9v0.8h-0.9zM166.1 120.6h0.9v0.8h-0.9zM165.7 113.6h0.9v0.8h-0.9zM166.7 120.7h0.9v0.8h-0.9zM165.7 115.2h0.9v0.8h-0.9zM175.8 120.5h0.9v0.8h-0.9zM175.8 117.2h0.9v0.8h-0.9zM176.2 124.5h0.9v0.8h-0.9zM175.9 118.9h0.9v0.8h-0.9zM175.5 117.0h0.9v0.8h-0.9zM185.2 115.9h0.9v0.8h-0.9zM185.5 118.1h0.9v0.8h-0.9zM185.7 121.7h0.9v0.8h-0.9zM186.2 117.2h0.9v0.8h-0.9zM185.6 118.8h0.9v0.8h-0.9zM195.2 119.2h0.9v0.8h-0.9zM194.8 115.6h0.9v0.8h-0.9zM195.8 118.2h0.9v0.8h-0.9zM195.6 114.6h0.9v0.8h-0.9zM195.4 117.9h0.9v0.8h-0.9z" fill="#5a62a8" opacity="0.8"/>
<path d="M157.1 126.1h0.9v0.8h-0.9zM156.5 127.7h0.9v0.8h-0.9zM155.8 130.1h0.9v0.8h-0.9zM156.3 123.6h0.9v0.8h-0.9zM156.6 120.5h0.9v0.8h-0.9zM165.9 124.0h0.9v0.8h-0.9zM166.4 130.4h0.9v0.8h-0.9zM166.8 118.2h0.9v0.8h-0.9zM166.6 126.5h0.9v0.8h-0.9zM166.7 116.6h0.9v0.8h-0.9zM175.2 121.6h0.9v0.8h-0.9zM176.1 102.5h0.9v0.8h-0.9zM176.7 111.8h0.9v0.8h-0.9zM176.6 131.9h0.9v0.8h-0.9zM176.8 107.1h0.9v0.8h-0.9zM186.6 110.9h0.9v0.8h-0.9zM185.7 126.9h0.9v0.8h-0.9zM185.0 110.0h0.9v0.8h-0.9zM186.6 127.3h0.9v0.8h-0.9zM185.7 103.0h0.9v0.8h-0.9zM194.9 120.6h0.9v0.8h-0.9zM195.5 130.4h0.9v0.8h-0.9zM195.5 114.0h0.9v0.8h-0.9zM194.6 106.9h0.9v0.8h-0.9zM195.9 105.5h0.9v0.8h-0.9z" fill="#a8b0d8" opacity="0.8"/>
<path d="M149.5 98.50V150.5H202.40" fill="none" stroke="#8a8a8a" stroke-width="0.85"/>
<line x1="148.70" y1="99.00" x2="149.90" y2="99.00" stroke="#8a8a8a" stroke-width="0.6"/>
<text x="148.40" y="101.10" font-size="6.0" text-anchor="end" font-weight="normal" font-style="normal" fill="#2a2a2a" stroke="#2a2a2a" stroke-width="0.18" >100</text>
<line x1="148.70" y1="109.90" x2="149.90" y2="109.90" stroke="#8a8a8a" stroke-width="0.6"/>
<text x="148.40" y="112.00" font-size="6.0" text-anchor="end" font-weight="normal" font-style="normal" fill="#2a2a2a" stroke="#2a2a2a" stroke-width="0.18" >80</text>
<line x1="148.70" y1="120.40" x2="149.90" y2="120.40" stroke="#8a8a8a" stroke-width="0.6"/>
<text x="148.40" y="122.50" font-size="6.0" text-anchor="end" font-weight="normal" font-style="normal" fill="#2a2a2a" stroke="#2a2a2a" stroke-width="0.18" >60</text>
<line x1="148.70" y1="129.90" x2="149.90" y2="129.90" stroke="#8a8a8a" stroke-width="0.6"/>
<text x="148.40" y="132.00" font-size="6.0" text-anchor="end" font-weight="normal" font-style="normal" fill="#2a2a2a" stroke="#2a2a2a" stroke-width="0.18" >40</text>
<line x1="148.70" y1="140.20" x2="149.90" y2="140.20" stroke="#8a8a8a" stroke-width="0.6"/>
<text x="148.40" y="142.30" font-size="6.0" text-anchor="end" font-weight="normal" font-style="normal" fill="#2a2a2a" stroke="#2a2a2a" stroke-width="0.18" >20</text>
<text x="154.50" y="156.50" font-size="6.1" text-anchor="middle" font-weight="normal" font-style="normal" fill="#1a1a1a" stroke="#1a1a1a" stroke-width="0.18" >tp1</text>
<text x="164.25" y="156.50" font-size="6.1" text-anchor="middle" font-weight="normal" font-style="normal" fill="#1a1a1a" stroke="#1a1a1a" stroke-width="0.18" >tp2</text>
<text x="174.00" y="156.50" font-size="6.1" text-anchor="middle" font-weight="normal" font-style="normal" fill="#1a1a1a" stroke="#1a1a1a" stroke-width="0.18" >tp3</text>
<text x="183.75" y="156.50" font-size="6.1" text-anchor="middle" font-weight="normal" font-style="normal" fill="#1a1a1a" stroke="#1a1a1a" stroke-width="0.18" >tp4</text>
<text x="193.50" y="156.50" font-size="6.1" text-anchor="middle" font-weight="normal" font-style="normal" fill="#1a1a1a" stroke="#1a1a1a" stroke-width="0.18" >tp5</text>
<text x="175.40" y="92.80" font-size="7.4" text-anchor="middle" font-weight="bold" font-style="normal" fill="#111" stroke="#111" stroke-width="0.18" >CD31</text>
<rect x="233.90" y="98.50" width="3.7" height="52.10" fill="#c9c9c9"/>
<line x1="222.80" y1="99.50" x2="222.80" y2="150.60" stroke="#6e6e6e" stroke-width="0.85" stroke-dasharray="2,3.2"/>
<line x1="216.25" y1="99.50" x2="216.25" y2="145.79" stroke="#e59a8a" stroke-width="0.45" stroke-dasharray="1.2,1.2" opacity="0.7"/>
<rect x="214.90" y="108.60" width="2.7" height="20.70" fill="#f9e2db" stroke="#e59a8a" stroke-width="0.35" stroke-opacity="0.6"/>
<line x1="214.90" y1="128.10" x2="217.60" y2="128.10" stroke="#303040" stroke-width="0.9"/>
<line x1="220.15" y1="104.46" x2="220.15" y2="141.22" stroke="#939ce0" stroke-width="0.45" stroke-dasharray="1.2,1.2" opacity="0.7"/>
<rect x="218.80" y="117.80" width="2.7" height="12.60" fill="#dfe3f7" stroke="#939ce0" stroke-width="0.35" stroke-opacity="0.6"/>
<line x1="218.80" y1="129.30" x2="221.50" y2="129.30" stroke="#303040" stroke-width="0.9"/>
<line x1="226.00" y1="106.76" x2="226.00" y2="143.52" stroke="#e59a8a" stroke-width="0.45" stroke-dasharray="1.2,1.2" opacity="0.7"/>
<rect x="224.65" y="120.10" width="2.7" height="12.60" fill="#f9e2db" stroke="#e59a8a" stroke-width="0.35" stroke-opacity="0.6"/>
<line x1="224.65" y1="130.40" x2="227.35" y2="130.40" stroke="#303040" stroke-width="0.9"/>
<line x1="229.90" y1="111.36" x2="229.90" y2="148.12" stroke="#939ce0" stroke-width="0.45" stroke-dasharray="1.2,1.2" opacity="0.7"/>
<rect x="228.55" y="124.70" width="2.7" height="12.60" fill="#dfe3f7" stroke="#939ce0" stroke-width="0.35" stroke-opacity="0.6"/>
<line x1="228.55" y1="132.70" x2="231.25" y2="132.70" stroke="#303040" stroke-width="0.9"/>
<line x1="235.75" y1="106.55" x2="235.75" y2="140.45" stroke="#e59a8a" stroke-width="0.45" stroke-dasharray="1.2,1.2" opacity="0.7"/>
<rect x="234.40" y="118.90" width="2.7" height="11.50" fill="#f9e2db" stroke="#e59a8a" stroke-width="0.35" stroke-opacity="0.6"/>
<line x1="234.40" y1="123.50" x2="237.10" y2="123.50" stroke="#303040" stroke-width="0.9"/>
<line x1="239.65" y1="112.44" x2="239.65" y2="146.08" stroke="#939ce0" stroke-width="0.45" stroke-dasharray="1.2,1.2" opacity="0.7"/>
<rect x="238.30" y="124.70" width="2.7" height="11.40" fill="#dfe3f7" stroke="#939ce0" stroke-width="0.35" stroke-opacity="0.6"/>
<line x1="238.30" y1="132.70" x2="241.00" y2="132.70" stroke="#303040" stroke-width="0.9"/>
<line x1="245.50" y1="108.83" x2="245.50" y2="139.61" stroke="#e59a8a" stroke-width="0.45" stroke-dasharray="1.2,1.2" opacity="0.7"/>
<rect x="244.15" y="120.10" width="2.7" height="10.30" fill="#f9e2db" stroke="#e59a8a" stroke-width="0.35" stroke-opacity="0.6"/>
<line x1="244.15" y1="129.30" x2="246.85" y2="129.30" stroke="#303040" stroke-width="0.9"/>
<line x1="249.40" y1="116.83" x2="249.40" y2="147.61" stroke="#939ce0" stroke-width="0.45" stroke-dasharray="1.2,1.2" opacity="0.7"/>
<rect x="248.05" y="128.10" width="2.7" height="10.30" fill="#dfe3f7" stroke="#939ce0" stroke-width="0.35" stroke-opacity="0.6"/>
<line x1="248.05" y1="136.10" x2="250.75" y2="136.10" stroke="#303040" stroke-width="0.9"/>
<line x1="255.25" y1="101.42" x2="255.25" y2="149.60" stroke="#e59a8a" stroke-width="0.45" stroke-dasharray="1.2,1.2" opacity="0.7"/>
<rect x="253.90" y="118.90" width="2.7" height="17.20" fill="#f9e2db" stroke="#e59a8a" stroke-width="0.35" stroke-opacity="0.6"/>
<line x1="253.90" y1="135.00" x2="256.60" y2="135.00" stroke="#303040" stroke-width="0.9"/>
<line x1="259.15" y1="119.11" x2="259.15" y2="146.77" stroke="#939ce0" stroke-width="0.45" stroke-dasharray="1.2,1.2" opacity="0.7"/>
<rect x="257.80" y="129.30" width="2.7" height="9.10" fill="#dfe3f7" stroke="#939ce0" stroke-width="0.35" stroke-opacity="0.6"/>
<line x1="257.80" y1="136.10" x2="260.50" y2="136.10" stroke="#303040" stroke-width="0.9"/>
<path d="M215.3 111.7h0.9v0.8h-0.9zM215.8 125.2h0.9v0.8h-0.9zM215.9 124.9h0.9v0.8h-0.9zM215.3 108.5h0.9v0.8h-0.9zM216.1 114.9h0.9v0.8h-0.9zM225.8 122.5h0.9v0.8h-0.9zM225.3 130.7h0.9v0.8h-0.9zM225.5 129.7h0.9v0.8h-0.9zM225.2 121.9h0.9v0.8h-0.9zM225.4 122.1h0.9v0.8h-0.9zM235.2 129.5h0.9v0.8h-0.9zM234.9 129.4h0.9v0.8h-0.9zM235.3 121.1h0.9v0.8h-0.9zM235.2 120.0h0.9v0.8h-0.9zM235.5 121.5h0.9v0.8h-0.9zM244.6 127.1h0.9v0.8h-0.9zM244.8 123.9h0.9v0.8h-0.9zM245.5 127.7h0.9v0.8h-0.9zM245.5 128.6h0.9v0.8h-0.9zM244.6 122.5h0.9v0.8h-0.9zM254.7 130.3h0.9v0.8h-0.9zM254.6 118.5h0.9v0.8h-0.9zM255.2 131.9h0.9v0.8h-0.9zM254.5 119.2h0.9v0.8h-0.9zM255.2 128.9h0.9v0.8h-0.9z" fill="#b07468" opacity="0.8"/>
<path d="M216.2 115.5h0.9v0.8h-0.9zM215.1 111.4h0.9v0.8h-0.9zM215.0 140.9h0.9v0.8h-0.9zM216.0 115.3h0.9v0.8h-0.9zM215.7 117.0h0.9v0.8h-0.9zM226.5 117.0h0.9v0.8h-0.9zM225.7 110.6h0.9v0.8h-0.9zM225.6 120.5h0.9v0.8h-0.9zM225.4 108.8h0.9v0.8h-0.9zM224.8 136.7h0.9v0.8h-0.9zM236.1 126.1h0.9v0.8h-0.9zM235.0 114.5h0.9v0.8h-0.9zM235.5 113.4h0.9v0.8h-0.9zM236.0 110.3h0.9v0.8h-0.9zM235.3 124.5h0.9v0.8h-0.9zM244.1 129.3h0.9v0.8h-0.9zM245.4 119.2h0.9v0.8h-0.9zM244.9 128.7h0.9v0.8h-0.9zM245.4 116.1h0.9v0.8h-0.9zM245.7 119.3h0.9v0.8h-0.9zM253.9 112.8h0.9v0.8h-0.9zM254.0 139.2h0.9v0.8h-0.9zM254.2 145.1h0.9v0.8h-0.9zM255.3 105.2h0.9v0.8h-0.9zM255.2 120.0h0.9v0.8h-0.9z" fill="#d8b0a8" opacity="0.8"/>
<path d="M219.2 128.6h0.9v0.8h-0.9zM219.8 129.5h0.9v0.8h-0.9zM219.6 125.2h0.9v0.8h-0.9zM219.4 118.0h0.9v0.8h-0.9zM220.2 128.2h0.9v0.8h-0.9zM229.3 127.4h0.9v0.8h-0.9zM229.1 127.9h0.9v0.8h-0.9zM229.1 124.7h0.9v0.8h-0.9zM229.6 128.6h0.9v0.8h-0.9zM229.0 133.2h0.9v0.8h-0.9zM238.9 133.1h0.9v0.8h-0.9zM239.1 131.8h0.9v0.8h-0.9zM239.3 127.8h0.9v0.8h-0.9zM239.1 125.3h0.9v0.8h-0.9zM238.8 134.0h0.9v0.8h-0.9zM249.1 129.6h0.9v0.8h-0.9zM248.5 137.1h0.9v0.8h-0.9zM249.2 135.0h0.9v0.8h-0.9zM248.4 128.1h0.9v0.8h-0.9zM248.5 129.7h0.9v0.8h-0.9zM259.0 136.4h0.9v0.8h-0.9zM258.4 129.7h0.9v0.8h-0.9zM259.2 132.8h0.9v0.8h-0.9zM259.2 135.2h0.9v0.8h-0.9zM259.0 136.5h0.9v0.8h-0.9z" fill="#5a62a8" opacity="0.8"/>
<path d="M219.3 137.1h0.9v0.8h-0.9zM220.3 115.2h0.9v0.8h-0.9zM219.9 139.4h0.9v0.8h-0.9zM219.7 139.0h0.9v0.8h-0.9zM219.2 118.4h0.9v0.8h-0.9zM228.6 120.9h0.9v0.8h-0.9zM230.1 115.7h0.9v0.8h-0.9zM229.3 141.7h0.9v0.8h-0.9zM230.1 116.8h0.9v0.8h-0.9zM229.2 137.5h0.9v0.8h-0.9zM238.8 134.3h0.9v0.8h-0.9zM238.4 130.9h0.9v0.8h-0.9zM238.9 128.9h0.9v0.8h-0.9zM238.8 114.3h0.9v0.8h-0.9zM238.8 119.7h0.9v0.8h-0.9zM248.6 128.1h0.9v0.8h-0.9zM248.0 126.0h0.9v0.8h-0.9zM249.2 122.0h0.9v0.8h-0.9zM249.6 134.0h0.9v0.8h-0.9zM249.4 124.3h0.9v0.8h-0.9zM259.0 131.2h0.9v0.8h-0.9zM257.8 138.0h0.9v0.8h-0.9zM258.6 132.9h0.9v0.8h-0.9zM259.6 122.2h0.9v0.8h-0.9zM259.2 119.9h0.9v0.8h-0.9z" fill="#a8b0d8" opacity="0.8"/>
<path d="M213.5 98.50V150.5H265.70" fill="none" stroke="#8a8a8a" stroke-width="0.85"/>
<line x1="212.00" y1="105.80" x2="213.20" y2="105.80" stroke="#8a8a8a" stroke-width="0.6"/>
<text x="211.70" y="107.90" font-size="6.0" text-anchor="end" font-weight="normal" font-style="normal" fill="#2a2a2a" stroke="#2a2a2a" stroke-width="0.18" >60</text>
<line x1="212.00" y1="122.10" x2="213.20" y2="122.10" stroke="#8a8a8a" stroke-width="0.6"/>
<text x="211.70" y="124.20" font-size="6.0" text-anchor="end" font-weight="normal" font-style="normal" fill="#2a2a2a" stroke="#2a2a2a" stroke-width="0.18" >40</text>
<line x1="212.00" y1="137.40" x2="213.20" y2="137.40" stroke="#8a8a8a" stroke-width="0.6"/>
<text x="211.70" y="139.50" font-size="6.0" text-anchor="end" font-weight="normal" font-style="normal" fill="#2a2a2a" stroke="#2a2a2a" stroke-width="0.18" >20</text>
<text x="217.80" y="156.50" font-size="6.1" text-anchor="middle" font-weight="normal" font-style="normal" fill="#1a1a1a" stroke="#1a1a1a" stroke-width="0.18" >tp1</text>
<text x="227.55" y="156.50" font-size="6.1" text-anchor="middle" font-weight="normal" font-style="normal" fill="#1a1a1a" stroke="#1a1a1a" stroke-width="0.18" >tp2</text>
<text x="237.30" y="156.50" font-size="6.1" text-anchor="middle" font-weight="normal" font-style="normal" fill="#1a1a1a" stroke="#1a1a1a" stroke-width="0.18" >tp3</text>
<text x="247.05" y="156.50" font-size="6.1" text-anchor="middle" font-weight="normal" font-style="normal" fill="#1a1a1a" stroke="#1a1a1a" stroke-width="0.18" >tp4</text>
<text x="256.80" y="156.50" font-size="6.1" text-anchor="middle" font-weight="normal" font-style="normal" fill="#1a1a1a" stroke="#1a1a1a" stroke-width="0.18" >tp5</text>
<text x="238.00" y="92.80" font-size="7.4" text-anchor="middle" font-weight="bold" font-style="normal" fill="#111" stroke="#111" stroke-width="0.18" >CD57</text>
<circle cx="238.50" cy="160.70" r="0.9" fill="#3a3ab4"/>
<circle cx="247.70" cy="160.70" r="0.9" fill="#3a3ab4"/>
<circle cx="256.90" cy="160.70" r="0.9" fill="#3a3ab4"/>
<rect x="297.60" y="98.50" width="3.7" height="52.10" fill="#c9c9c9"/>
<line x1="286.50" y1="99.50" x2="286.50" y2="150.60" stroke="#6e6e6e" stroke-width="0.85" stroke-dasharray="2,3.2"/>
<line x1="279.95" y1="121.20" x2="279.95" y2="146.00" stroke="#e59a8a" stroke-width="0.45" stroke-dasharray="1.2,1.2" opacity="0.7"/>
<rect x="278.60" y="130.40" width="2.7" height="8.00" fill="#f9e2db" stroke="#e59a8a" stroke-width="0.35" stroke-opacity="0.6"/>
<line x1="278.60" y1="135.00" x2="281.30" y2="135.00" stroke="#303040" stroke-width="0.9"/>
<line x1="283.85" y1="114.74" x2="283.85" y2="148.38" stroke="#939ce0" stroke-width="0.45" stroke-dasharray="1.2,1.2" opacity="0.7"/>
<rect x="282.50" y="127.00" width="2.7" height="11.40" fill="#dfe3f7" stroke="#939ce0" stroke-width="0.35" stroke-opacity="0.6"/>
<line x1="282.50" y1="133.80" x2="285.20" y2="133.80" stroke="#303040" stroke-width="0.9"/>
<line x1="289.70" y1="125.59" x2="289.70" y2="147.53" stroke="#e59a8a" stroke-width="0.45" stroke-dasharray="1.2,1.2" opacity="0.7"/>
<rect x="288.35" y="133.80" width="2.7" height="6.90" fill="#f9e2db" stroke="#e59a8a" stroke-width="0.35" stroke-opacity="0.6"/>
<line x1="288.35" y1="137.30" x2="291.05" y2="137.30" stroke="#303040" stroke-width="0.9"/>
<line x1="293.60" y1="113.22" x2="293.60" y2="141.14" stroke="#939ce0" stroke-width="0.45" stroke-dasharray="1.2,1.2" opacity="0.7"/>
<rect x="292.25" y="123.50" width="2.7" height="9.20" fill="#dfe3f7" stroke="#939ce0" stroke-width="0.35" stroke-opacity="0.6"/>
<line x1="292.25" y1="130.40" x2="294.95" y2="130.40" stroke="#303040" stroke-width="0.9"/>
<line x1="299.45" y1="114.97" x2="299.45" y2="149.60" stroke="#e59a8a" stroke-width="0.45" stroke-dasharray="1.2,1.2" opacity="0.7"/>
<rect x="298.10" y="129.30" width="2.7" height="13.70" fill="#f9e2db" stroke="#e59a8a" stroke-width="0.35" stroke-opacity="0.6"/>
<line x1="298.10" y1="137.30" x2="300.80" y2="137.30" stroke="#303040" stroke-width="0.9"/>
<line x1="303.35" y1="112.23" x2="303.35" y2="143.01" stroke="#939ce0" stroke-width="0.45" stroke-dasharray="1.2,1.2" opacity="0.7"/>
<rect x="302.00" y="123.50" width="2.7" height="10.30" fill="#dfe3f7" stroke="#939ce0" stroke-width="0.35" stroke-opacity="0.6"/>
<line x1="302.00" y1="129.30" x2="304.70" y2="129.30" stroke="#303040" stroke-width="0.9"/>
<line x1="309.20" y1="114.53" x2="309.20" y2="145.31" stroke="#e59a8a" stroke-width="0.45" stroke-dasharray="1.2,1.2" opacity="0.7"/>
<rect x="307.85" y="125.80" width="2.7" height="10.30" fill="#f9e2db" stroke="#e59a8a" stroke-width="0.35" stroke-opacity="0.6"/>
<line x1="307.85" y1="132.70" x2="310.55" y2="132.70" stroke="#303040" stroke-width="0.9"/>
<line x1="313.10" y1="108.62" x2="313.10" y2="136.54" stroke="#939ce0" stroke-width="0.45" stroke-dasharray="1.2,1.2" opacity="0.7"/>
<rect x="311.75" y="118.90" width="2.7" height="9.20" fill="#dfe3f7" stroke="#939ce0" stroke-width="0.35" stroke-opacity="0.6"/>
<line x1="311.75" y1="124.70" x2="314.45" y2="124.70" stroke="#303040" stroke-width="0.9"/>
<line x1="318.95" y1="99.50" x2="318.95" y2="149.19" stroke="#e59a8a" stroke-width="0.45" stroke-dasharray="1.2,1.2" opacity="0.7"/>
<rect x="317.60" y="112.00" width="2.7" height="20.70" fill="#f9e2db" stroke="#e59a8a" stroke-width="0.35" stroke-opacity="0.6"/>
<line x1="317.60" y1="125.80" x2="320.30" y2="125.80" stroke="#303040" stroke-width="0.9"/>
<line x1="322.85" y1="106.53" x2="322.85" y2="137.31" stroke="#939ce0" stroke-width="0.45" stroke-dasharray="1.2,1.2" opacity="0.7"/>
<rect x="321.50" y="117.80" width="2.7" height="10.30" fill="#dfe3f7" stroke="#939ce0" stroke-width="0.35" stroke-opacity="0.6"/>
<line x1="321.50" y1="124.70" x2="324.20" y2="124.70" stroke="#303040" stroke-width="0.9"/>
<path d="M279.7 136.4h0.9v0.8h-0.9zM279.2 134.4h0.9v0.8h-0.9zM280.1 135.1h0.9v0.8h-0.9zM279.6 132.0h0.9v0.8h-0.9zM279.0 132.9h0.9v0.8h-0.9zM288.7 135.3h0.9v0.8h-0.9zM288.9 138.2h0.9v0.8h-0.9zM289.2 134.2h0.9v0.8h-0.9zM289.0 136.6h0.9v0.8h-0.9zM289.1 134.6h0.9v0.8h-0.9zM298.6 139.6h0.9v0.8h-0.9zM299.4 139.1h0.9v0.8h-0.9zM298.8 131.4h0.9v0.8h-0.9zM299.4 133.3h0.9v0.8h-0.9zM298.8 136.5h0.9v0.8h-0.9zM308.5 132.2h0.9v0.8h-0.9zM308.8 129.7h0.9v0.8h-0.9zM308.6 129.9h0.9v0.8h-0.9zM308.9 133.9h0.9v0.8h-0.9zM309.2 127.1h0.9v0.8h-0.9zM318.0 125.3h0.9v0.8h-0.9zM318.3 123.6h0.9v0.8h-0.9zM318.4 122.6h0.9v0.8h-0.9zM318.6 119.8h0.9v0.8h-0.9zM318.0 115.3h0.9v0.8h-0.9z" fill="#b07468" opacity="0.8"/>
<path d="M279.3 125.8h0.9v0.8h-0.9zM279.1 124.2h0.9v0.8h-0.9zM279.9 137.4h0.9v0.8h-0.9zM279.0 126.8h0.9v0.8h-0.9zM279.5 131.8h0.9v0.8h-0.9zM288.4 125.4h0.9v0.8h-0.9zM290.2 141.7h0.9v0.8h-0.9zM288.4 140.9h0.9v0.8h-0.9zM290.2 137.6h0.9v0.8h-0.9zM288.5 135.9h0.9v0.8h-0.9zM298.7 143.4h0.9v0.8h-0.9zM298.5 116.0h0.9v0.8h-0.9zM299.1 136.3h0.9v0.8h-0.9zM299.6 139.0h0.9v0.8h-0.9zM299.8 147.3h0.9v0.8h-0.9zM308.3 127.8h0.9v0.8h-0.9zM308.9 124.8h0.9v0.8h-0.9zM308.1 116.7h0.9v0.8h-0.9zM308.4 128.3h0.9v0.8h-0.9zM309.7 142.1h0.9v0.8h-0.9zM319.3 126.3h0.9v0.8h-0.9zM317.7 141.9h0.9v0.8h-0.9zM318.0 103.8h0.9v0.8h-0.9zM318.6 111.6h0.9v0.8h-0.9zM318.5 126.6h0.9v0.8h-0.9z" fill="#d8b0a8" opacity="0.8"/>
<path d="M283.9 130.6h0.9v0.8h-0.9zM283.2 136.7h0.9v0.8h-0.9zM283.0 133.0h0.9v0.8h-0.9zM283.2 135.9h0.9v0.8h-0.9zM283.5 135.3h0.9v0.8h-0.9zM293.1 124.8h0.9v0.8h-0.9zM293.2 123.2h0.9v0.8h-0.9zM293.7 129.0h0.9v0.8h-0.9zM293.3 131.7h0.9v0.8h-0.9zM293.3 125.4h0.9v0.8h-0.9zM302.9 128.2h0.9v0.8h-0.9zM302.5 126.2h0.9v0.8h-0.9zM303.0 123.9h0.9v0.8h-0.9zM303.1 124.8h0.9v0.8h-0.9zM302.8 133.1h0.9v0.8h-0.9zM313.1 127.5h0.9v0.8h-0.9zM313.2 124.2h0.9v0.8h-0.9zM313.0 119.1h0.9v0.8h-0.9zM312.9 124.1h0.9v0.8h-0.9zM312.4 123.8h0.9v0.8h-0.9zM322.1 123.3h0.9v0.8h-0.9zM321.9 122.7h0.9v0.8h-0.9zM322.5 118.2h0.9v0.8h-0.9zM322.3 118.2h0.9v0.8h-0.9zM322.3 126.3h0.9v0.8h-0.9z" fill="#5a62a8" opacity="0.8"/>
<path d="M282.7 136.8h0.9v0.8h-0.9zM283.6 129.9h0.9v0.8h-0.9zM283.9 142.3h0.9v0.8h-0.9zM282.6 124.1h0.9v0.8h-0.9zM283.1 121.3h0.9v0.8h-0.9zM292.6 116.7h0.9v0.8h-0.9zM292.2 134.4h0.9v0.8h-0.9zM293.8 121.1h0.9v0.8h-0.9zM292.5 130.6h0.9v0.8h-0.9zM293.8 138.7h0.9v0.8h-0.9zM302.1 113.1h0.9v0.8h-0.9zM302.8 117.7h0.9v0.8h-0.9zM303.3 111.9h0.9v0.8h-0.9zM303.6 138.2h0.9v0.8h-0.9zM303.5 124.9h0.9v0.8h-0.9zM313.6 121.6h0.9v0.8h-0.9zM312.9 116.6h0.9v0.8h-0.9zM312.3 132.9h0.9v0.8h-0.9zM311.7 113.5h0.9v0.8h-0.9zM313.0 120.7h0.9v0.8h-0.9zM322.5 128.1h0.9v0.8h-0.9zM322.9 109.7h0.9v0.8h-0.9zM323.4 128.3h0.9v0.8h-0.9zM321.6 131.7h0.9v0.8h-0.9zM322.2 111.4h0.9v0.8h-0.9z" fill="#a8b0d8" opacity="0.8"/>
<path d="M276.5 98.50V150.5H329.40" fill="none" stroke="#8a8a8a" stroke-width="0.85"/>
<line x1="275.70" y1="105.80" x2="276.90" y2="105.80" stroke="#8a8a8a" stroke-width="0.6"/>
<text x="275.40" y="107.90" font-size="6.0" text-anchor="end" font-weight="normal" font-style="normal" fill="#2a2a2a" stroke="#2a2a2a" stroke-width="0.18" >80</text>
<line x1="275.70" y1="116.80" x2="276.90" y2="116.80" stroke="#8a8a8a" stroke-width="0.6"/>
<text x="275.40" y="118.90" font-size="6.0" text-anchor="end" font-weight="normal" font-style="normal" fill="#2a2a2a" stroke="#2a2a2a" stroke-width="0.18" >60</text>
<line x1="275.70" y1="128.30" x2="276.90" y2="128.30" stroke="#8a8a8a" stroke-width="0.6"/>
<text x="275.40" y="130.40" font-size="6.0" text-anchor="end" font-weight="normal" font-style="normal" fill="#2a2a2a" stroke="#2a2a2a" stroke-width="0.18" >40</text>
<line x1="275.70" y1="139.30" x2="276.90" y2="139.30" stroke="#8a8a8a" stroke-width="0.6"/>
<text x="275.40" y="141.40" font-size="6.0" text-anchor="end" font-weight="normal" font-style="normal" fill="#2a2a2a" stroke="#2a2a2a" stroke-width="0.18" >20</text>
<text x="281.50" y="156.50" font-size="6.1" text-anchor="middle" font-weight="normal" font-style="normal" fill="#1a1a1a" stroke="#1a1a1a" stroke-width="0.18" >tp1</text>
<text x="291.25" y="156.50" font-size="6.1" text-anchor="middle" font-weight="normal" font-style="normal" fill="#1a1a1a" stroke="#1a1a1a" stroke-width="0.18" >tp2</text>
<text x="301.00" y="156.50" font-size="6.1" text-anchor="middle" font-weight="normal" font-style="normal" fill="#1a1a1a" stroke="#1a1a1a" stroke-width="0.18" >tp3</text>
<text x="310.75" y="156.50" font-size="6.1" text-anchor="middle" font-weight="normal" font-style="normal" fill="#1a1a1a" stroke="#1a1a1a" stroke-width="0.18" >tp4</text>
<text x="320.50" y="156.50" font-size="6.1" text-anchor="middle" font-weight="normal" font-style="normal" fill="#1a1a1a" stroke="#1a1a1a" stroke-width="0.18" >tp5</text>
<text x="300.30" y="92.80" font-size="7.4" text-anchor="middle" font-weight="bold" font-style="normal" fill="#111" stroke="#111" stroke-width="0.18" >CD127</text>
<circle cx="301.50" cy="160.70" r="0.9" fill="#3a3ab4"/>
<circle cx="301.50" cy="163.45" r="0.9" fill="#3a3ab4"/>
<circle cx="311.20" cy="160.70" r="0.9" fill="#3a3ab4"/>
<circle cx="311.20" cy="163.45" r="0.9" fill="#3a3ab4"/>
<circle cx="320.80" cy="160.70" r="0.9" fill="#3a3ab4"/>
<circle cx="320.80" cy="163.45" r="0.9" fill="#3a3ab4"/>
<circle cx="320.80" cy="166.20" r="0.9" fill="#3a3ab4"/>
<circle cx="301.20" cy="95.50" r="0.75" fill="#2a2a48"/>
<rect x="360.90" y="98.50" width="3.7" height="52.10" fill="#c9c9c9"/>
<line x1="349.80" y1="99.50" x2="349.80" y2="150.60" stroke="#6e6e6e" stroke-width="0.85" stroke-dasharray="2,3.2"/>
<line x1="343.25" y1="106.55" x2="343.25" y2="140.45" stroke="#e59a8a" stroke-width="0.45" stroke-dasharray="1.2,1.2" opacity="0.7"/>
<rect x="341.90" y="118.90" width="2.7" height="11.50" fill="#f9e2db" stroke="#e59a8a" stroke-width="0.35" stroke-opacity="0.6"/>
<line x1="341.90" y1="127.00" x2="344.60" y2="127.00" stroke="#303040" stroke-width="0.9"/>
<line x1="347.15" y1="118.03" x2="347.15" y2="148.81" stroke="#939ce0" stroke-width="0.45" stroke-dasharray="1.2,1.2" opacity="0.7"/>
<rect x="345.80" y="129.30" width="2.7" height="10.30" fill="#dfe3f7" stroke="#939ce0" stroke-width="0.35" stroke-opacity="0.6"/>
<line x1="345.80" y1="135.00" x2="348.50" y2="135.00" stroke="#303040" stroke-width="0.9"/>
<line x1="353.00" y1="114.74" x2="353.00" y2="148.38" stroke="#e59a8a" stroke-width="0.45" stroke-dasharray="1.2,1.2" opacity="0.7"/>
<rect x="351.65" y="127.00" width="2.7" height="11.40" fill="#f9e2db" stroke="#e59a8a" stroke-width="0.35" stroke-opacity="0.6"/>
<line x1="351.65" y1="133.80" x2="354.35" y2="133.80" stroke="#303040" stroke-width="0.9"/>
<line x1="356.90" y1="113.68" x2="356.90" y2="149.60" stroke="#939ce0" stroke-width="0.45" stroke-dasharray="1.2,1.2" opacity="0.7"/>
<rect x="355.55" y="128.10" width="2.7" height="13.80" fill="#dfe3f7" stroke="#939ce0" stroke-width="0.35" stroke-opacity="0.6"/>
<line x1="355.55" y1="137.30" x2="358.25" y2="137.30" stroke="#303040" stroke-width="0.9"/>
<line x1="362.75" y1="114.74" x2="362.75" y2="148.38" stroke="#e59a8a" stroke-width="0.45" stroke-dasharray="1.2,1.2" opacity="0.7"/>
<rect x="361.40" y="127.00" width="2.7" height="11.40" fill="#f9e2db" stroke="#e59a8a" stroke-width="0.35" stroke-opacity="0.6"/>
<line x1="361.40" y1="130.40" x2="364.10" y2="130.40" stroke="#303040" stroke-width="0.9"/>
<line x1="366.65" y1="118.05" x2="366.65" y2="149.60" stroke="#939ce0" stroke-width="0.45" stroke-dasharray="1.2,1.2" opacity="0.7"/>
<rect x="365.30" y="130.40" width="2.7" height="11.50" fill="#dfe3f7" stroke="#939ce0" stroke-width="0.35" stroke-opacity="0.6"/>
<line x1="365.30" y1="136.10" x2="368.00" y2="136.10" stroke="#303040" stroke-width="0.9"/>
<line x1="372.50" y1="127.87" x2="372.50" y2="146.69" stroke="#e59a8a" stroke-width="0.45" stroke-dasharray="1.2,1.2" opacity="0.7"/>
<rect x="371.15" y="135.00" width="2.7" height="5.70" fill="#f9e2db" stroke="#e59a8a" stroke-width="0.35" stroke-opacity="0.6"/>
<line x1="371.15" y1="138.40" x2="373.85" y2="138.40" stroke="#303040" stroke-width="0.9"/>
<line x1="376.40" y1="127.89" x2="376.40" y2="149.60" stroke="#939ce0" stroke-width="0.45" stroke-dasharray="1.2,1.2" opacity="0.7"/>
<rect x="375.05" y="136.10" width="2.7" height="6.90" fill="#dfe3f7" stroke="#939ce0" stroke-width="0.35" stroke-opacity="0.6"/>
<line x1="375.05" y1="139.60" x2="377.75" y2="139.60" stroke="#303040" stroke-width="0.9"/>
<line x1="382.25" y1="127.87" x2="382.25" y2="146.69" stroke="#e59a8a" stroke-width="0.45" stroke-dasharray="1.2,1.2" opacity="0.7"/>
<rect x="380.90" y="135.00" width="2.7" height="5.70" fill="#f9e2db" stroke="#e59a8a" stroke-width="0.35" stroke-opacity="0.6"/>
<line x1="380.90" y1="138.40" x2="383.60" y2="138.40" stroke="#303040" stroke-width="0.9"/>
<line x1="386.15" y1="129.09" x2="386.15" y2="149.60" stroke="#939ce0" stroke-width="0.45" stroke-dasharray="1.2,1.2" opacity="0.7"/>
<rect x="384.80" y="137.30" width="2.7" height="6.90" fill="#dfe3f7" stroke="#939ce0" stroke-width="0.35" stroke-opacity="0.6"/>
<line x1="384.80" y1="141.90" x2="387.50" y2="141.90" stroke="#303040" stroke-width="0.9"/>
<path d="M343.4 125.0h0.9v0.8h-0.9zM343.1 120.1h0.9v0.8h-0.9zM343.1 119.2h0.9v0.8h-0.9zM342.5 122.8h0.9v0.8h-0.9zM342.2 125.3h0.9v0.8h-0.9zM352.2 131.7h0.9v0.8h-0.9zM353.0 133.2h0.9v0.8h-0.9zM352.1 126.8h0.9v0.8h-0.9zM352.1 135.7h0.9v0.8h-0.9zM352.2 132.9h0.9v0.8h-0.9zM362.4 127.1h0.9v0.8h-0.9zM361.9 130.7h0.9v0.8h-0.9zM362.3 133.2h0.9v0.8h-0.9zM362.2 130.6h0.9v0.8h-0.9zM361.7 133.2h0.9v0.8h-0.9zM372.3 137.5h0.9v0.8h-0.9zM372.2 136.6h0.9v0.8h-0.9zM372.1 136.9h0.9v0.8h-0.9zM371.5 136.5h0.9v0.8h-0.9zM371.8 140.2h0.9v0.8h-0.9zM381.3 137.4h0.9v0.8h-0.9zM382.3 136.2h0.9v0.8h-0.9zM381.5 134.7h0.9v0.8h-0.9zM381.4 136.1h0.9v0.8h-0.9zM382.0 135.8h0.9v0.8h-0.9z" fill="#b07468" opacity="0.8"/>
<path d="M342.2 116.3h0.9v0.8h-0.9zM343.2 120.6h0.9v0.8h-0.9zM343.6 127.2h0.9v0.8h-0.9zM343.5 125.2h0.9v0.8h-0.9zM343.6 135.7h0.9v0.8h-0.9zM352.1 137.5h0.9v0.8h-0.9zM352.3 119.2h0.9v0.8h-0.9zM353.3 132.5h0.9v0.8h-0.9zM352.9 141.5h0.9v0.8h-0.9zM353.4 114.8h0.9v0.8h-0.9zM362.0 115.0h0.9v0.8h-0.9zM362.2 147.5h0.9v0.8h-0.9zM361.4 119.2h0.9v0.8h-0.9zM362.6 123.5h0.9v0.8h-0.9zM361.8 131.2h0.9v0.8h-0.9zM372.0 134.4h0.9v0.8h-0.9zM371.5 131.9h0.9v0.8h-0.9zM371.7 130.0h0.9v0.8h-0.9zM371.1 143.9h0.9v0.8h-0.9zM372.0 135.9h0.9v0.8h-0.9zM381.6 131.2h0.9v0.8h-0.9zM382.0 143.7h0.9v0.8h-0.9zM382.1 131.2h0.9v0.8h-0.9zM382.3 145.6h0.9v0.8h-0.9zM382.0 129.0h0.9v0.8h-0.9z" fill="#d8b0a8" opacity="0.8"/>
<path d="M346.3 136.6h0.9v0.8h-0.9zM346.5 136.8h0.9v0.8h-0.9zM346.9 137.4h0.9v0.8h-0.9zM346.2 132.7h0.9v0.8h-0.9zM347.0 138.7h0.9v0.8h-0.9zM356.3 129.8h0.9v0.8h-0.9zM356.5 139.7h0.9v0.8h-0.9zM356.8 128.2h0.9v0.8h-0.9zM356.1 139.0h0.9v0.8h-0.9zM356.7 133.1h0.9v0.8h-0.9zM365.9 136.5h0.9v0.8h-0.9zM366.2 141.0h0.9v0.8h-0.9zM366.8 130.4h0.9v0.8h-0.9zM366.3 138.9h0.9v0.8h-0.9zM366.6 138.9h0.9v0.8h-0.9zM376.0 137.8h0.9v0.8h-0.9zM375.6 136.2h0.9v0.8h-0.9zM375.7 137.8h0.9v0.8h-0.9zM376.2 139.5h0.9v0.8h-0.9zM376.5 138.0h0.9v0.8h-0.9zM386.1 142.9h0.9v0.8h-0.9zM385.5 137.8h0.9v0.8h-0.9zM385.3 140.6h0.9v0.8h-0.9zM386.2 141.3h0.9v0.8h-0.9zM386.2 138.4h0.9v0.8h-0.9z" fill="#5a62a8" opacity="0.8"/>
<path d="M347.1 119.0h0.9v0.8h-0.9zM346.9 120.7h0.9v0.8h-0.9zM346.8 142.3h0.9v0.8h-0.9zM345.9 146.1h0.9v0.8h-0.9zM347.1 125.5h0.9v0.8h-0.9zM356.4 119.0h0.9v0.8h-0.9zM357.1 127.4h0.9v0.8h-0.9zM357.2 135.2h0.9v0.8h-0.9zM355.6 125.1h0.9v0.8h-0.9zM355.9 145.4h0.9v0.8h-0.9zM366.5 137.7h0.9v0.8h-0.9zM365.9 126.5h0.9v0.8h-0.9zM366.8 145.2h0.9v0.8h-0.9zM367.1 139.1h0.9v0.8h-0.9zM365.8 141.7h0.9v0.8h-0.9zM376.8 140.2h0.9v0.8h-0.9zM375.1 131.4h0.9v0.8h-0.9zM376.1 148.9h0.9v0.8h-0.9zM375.7 144.3h0.9v0.8h-0.9zM375.8 146.3h0.9v0.8h-0.9zM385.4 144.1h0.9v0.8h-0.9zM386.0 137.0h0.9v0.8h-0.9zM386.1 135.6h0.9v0.8h-0.9zM384.8 137.2h0.9v0.8h-0.9zM384.8 141.5h0.9v0.8h-0.9z" fill="#a8b0d8" opacity="0.8"/>
<path d="M340.5 98.50V150.5H392.70" fill="none" stroke="#8a8a8a" stroke-width="0.85"/>
<line x1="339.00" y1="98.40" x2="340.20" y2="98.40" stroke="#8a8a8a" stroke-width="0.6"/>
<text x="338.70" y="100.50" font-size="6.0" text-anchor="end" font-weight="normal" font-style="normal" fill="#2a2a2a" stroke="#2a2a2a" stroke-width="0.18" >60</text>
<line x1="339.00" y1="117.50" x2="340.20" y2="117.50" stroke="#8a8a8a" stroke-width="0.6"/>
<text x="338.70" y="119.60" font-size="6.0" text-anchor="end" font-weight="normal" font-style="normal" fill="#2a2a2a" stroke="#2a2a2a" stroke-width="0.18" >40</text>
<line x1="339.00" y1="137.00" x2="340.20" y2="137.00" stroke="#8a8a8a" stroke-width="0.6"/>
<text x="338.70" y="139.10" font-size="6.0" text-anchor="end" font-weight="normal" font-style="normal" fill="#2a2a2a" stroke="#2a2a2a" stroke-width="0.18" >20</text>
<text x="344.80" y="156.50" font-size="6.1" text-anchor="middle" font-weight="normal" font-style="normal" fill="#1a1a1a" stroke="#1a1a1a" stroke-width="0.18" >tp1</text>
<text x="354.55" y="156.50" font-size="6.1" text-anchor="middle" font-weight="normal" font-style="normal" fill="#1a1a1a" stroke="#1a1a1a" stroke-width="0.18" >tp2</text>
<text x="364.30" y="156.50" font-size="6.1" text-anchor="middle" font-weight="normal" font-style="normal" fill="#1a1a1a" stroke="#1a1a1a" stroke-width="0.18" >tp3</text>
<text x="374.05" y="156.50" font-size="6.1" text-anchor="middle" font-weight="normal" font-style="normal" fill="#1a1a1a" stroke="#1a1a1a" stroke-width="0.18" >tp4</text>
<text x="383.80" y="156.50" font-size="6.1" text-anchor="middle" font-weight="normal" font-style="normal" fill="#1a1a1a" stroke="#1a1a1a" stroke-width="0.18" >tp5</text>
<text x="363.80" y="92.80" font-size="7.4" text-anchor="middle" font-weight="bold" font-style="normal" fill="#111" stroke="#111" stroke-width="0.18" >PD-1</text>
<circle cx="364.80" cy="160.70" r="0.9" fill="#3a3ab4"/>
<circle cx="364.80" cy="163.45" r="0.9" fill="#3a3ab4"/>
<circle cx="371.40" cy="160.70" r="0.9" fill="#a04a40"/>
<circle cx="371.40" cy="163.45" r="0.9" fill="#a04a40"/>
<circle cx="374.30" cy="160.70" r="0.9" fill="#2a2a48"/>
<circle cx="383.80" cy="160.70" r="0.9" fill="#3a3ab4"/>
<circle cx="383.80" cy="163.45" r="0.9" fill="#3a3ab4"/>
<circle cx="383.80" cy="166.20" r="0.9" fill="#3a3ab4"/>
<circle cx="346.20" cy="95.50" r="0.75" fill="#2a2a48"/>
<rect x="424.90" y="98.50" width="3.7" height="52.10" fill="#c9c9c9"/>
<line x1="413.80" y1="99.50" x2="413.80" y2="150.60" stroke="#6e6e6e" stroke-width="0.85" stroke-dasharray="2,3.2"/>
<line x1="407.25" y1="99.50" x2="407.25" y2="138.66" stroke="#e59a8a" stroke-width="0.45" stroke-dasharray="1.2,1.2" opacity="0.7"/>
<rect x="405.90" y="113.20" width="2.7" height="13.80" fill="#f9e2db" stroke="#e59a8a" stroke-width="0.35" stroke-opacity="0.6"/>
<line x1="405.90" y1="123.50" x2="408.60" y2="123.50" stroke="#303040" stroke-width="0.9"/>
<line x1="411.15" y1="110.14" x2="411.15" y2="143.78" stroke="#939ce0" stroke-width="0.45" stroke-dasharray="1.2,1.2" opacity="0.7"/>
<rect x="409.80" y="122.40" width="2.7" height="11.40" fill="#dfe3f7" stroke="#939ce0" stroke-width="0.35" stroke-opacity="0.6"/>
<line x1="409.80" y1="130.40" x2="412.50" y2="130.40" stroke="#303040" stroke-width="0.9"/>
<line x1="417.00" y1="99.50" x2="417.00" y2="136.36" stroke="#e59a8a" stroke-width="0.45" stroke-dasharray="1.2,1.2" opacity="0.7"/>
<rect x="415.65" y="110.90" width="2.7" height="13.80" fill="#f9e2db" stroke="#e59a8a" stroke-width="0.35" stroke-opacity="0.6"/>
<line x1="415.65" y1="123.50" x2="418.35" y2="123.50" stroke="#303040" stroke-width="0.9"/>
<line x1="420.90" y1="110.92" x2="420.90" y2="138.84" stroke="#939ce0" stroke-width="0.45" stroke-dasharray="1.2,1.2" opacity="0.7"/>
<rect x="419.55" y="121.20" width="2.7" height="9.20" fill="#dfe3f7" stroke="#939ce0" stroke-width="0.35" stroke-opacity="0.6"/>
<line x1="419.55" y1="127.00" x2="422.25" y2="127.00" stroke="#303040" stroke-width="0.9"/>
<line x1="426.75" y1="99.50" x2="426.75" y2="144.18" stroke="#e59a8a" stroke-width="0.45" stroke-dasharray="1.2,1.2" opacity="0.7"/>
<rect x="425.40" y="110.90" width="2.7" height="18.40" fill="#f9e2db" stroke="#e59a8a" stroke-width="0.35" stroke-opacity="0.6"/>
<line x1="425.40" y1="124.70" x2="428.10" y2="124.70" stroke="#303040" stroke-width="0.9"/>
<line x1="430.65" y1="110.14" x2="430.65" y2="143.78" stroke="#939ce0" stroke-width="0.45" stroke-dasharray="1.2,1.2" opacity="0.7"/>
<rect x="429.30" y="122.40" width="2.7" height="11.40" fill="#dfe3f7" stroke="#939ce0" stroke-width="0.35" stroke-opacity="0.6"/>
<line x1="429.30" y1="128.10" x2="432.00" y2="128.10" stroke="#303040" stroke-width="0.9"/>
<line x1="436.50" y1="110.16" x2="436.50" y2="146.92" stroke="#e59a8a" stroke-width="0.45" stroke-dasharray="1.2,1.2" opacity="0.7"/>
<rect x="435.15" y="123.50" width="2.7" height="12.60" fill="#f9e2db" stroke="#e59a8a" stroke-width="0.35" stroke-opacity="0.6"/>
<line x1="435.15" y1="127.00" x2="437.85" y2="127.00" stroke="#303040" stroke-width="0.9"/>
<line x1="440.40" y1="112.44" x2="440.40" y2="146.08" stroke="#939ce0" stroke-width="0.45" stroke-dasharray="1.2,1.2" opacity="0.7"/>
<rect x="439.05" y="124.70" width="2.7" height="11.40" fill="#dfe3f7" stroke="#939ce0" stroke-width="0.35" stroke-opacity="0.6"/>
<line x1="439.05" y1="131.60" x2="441.75" y2="131.60" stroke="#303040" stroke-width="0.9"/>
<line x1="446.25" y1="113.66" x2="446.25" y2="149.60" stroke="#e59a8a" stroke-width="0.45" stroke-dasharray="1.2,1.2" opacity="0.7"/>
<rect x="444.90" y="127.00" width="2.7" height="12.60" fill="#f9e2db" stroke="#e59a8a" stroke-width="0.35" stroke-opacity="0.6"/>
<line x1="444.90" y1="135.00" x2="447.60" y2="135.00" stroke="#303040" stroke-width="0.9"/>
<line x1="450.15" y1="116.81" x2="450.15" y2="144.47" stroke="#939ce0" stroke-width="0.45" stroke-dasharray="1.2,1.2" opacity="0.7"/>
<rect x="448.80" y="127.00" width="2.7" height="9.10" fill="#dfe3f7" stroke="#939ce0" stroke-width="0.35" stroke-opacity="0.6"/>
<line x1="448.80" y1="132.70" x2="451.50" y2="132.70" stroke="#303040" stroke-width="0.9"/>
<path d="M406.6 119.6h0.9v0.8h-0.9zM406.9 116.3h0.9v0.8h-0.9zM406.8 113.0h0.9v0.8h-0.9zM407.3 120.6h0.9v0.8h-0.9zM407.4 113.6h0.9v0.8h-0.9zM416.5 119.5h0.9v0.8h-0.9zM416.9 115.5h0.9v0.8h-0.9zM417.1 113.6h0.9v0.8h-0.9zM416.9 111.7h0.9v0.8h-0.9zM416.0 112.4h0.9v0.8h-0.9zM426.2 127.4h0.9v0.8h-0.9zM426.8 122.0h0.9v0.8h-0.9zM426.0 115.1h0.9v0.8h-0.9zM426.0 118.5h0.9v0.8h-0.9zM426.0 114.2h0.9v0.8h-0.9zM435.8 123.4h0.9v0.8h-0.9zM435.6 135.4h0.9v0.8h-0.9zM435.5 134.6h0.9v0.8h-0.9zM435.6 132.4h0.9v0.8h-0.9zM435.6 125.2h0.9v0.8h-0.9zM445.6 132.9h0.9v0.8h-0.9zM446.3 131.0h0.9v0.8h-0.9zM445.5 138.8h0.9v0.8h-0.9zM446.3 135.8h0.9v0.8h-0.9zM445.5 128.8h0.9v0.8h-0.9z" fill="#b07468" opacity="0.8"/>
<path d="M407.0 127.5h0.9v0.8h-0.9zM406.5 102.8h0.9v0.8h-0.9zM406.1 104.7h0.9v0.8h-0.9zM407.3 102.6h0.9v0.8h-0.9zM407.4 115.7h0.9v0.8h-0.9zM415.7 117.6h0.9v0.8h-0.9zM416.7 105.8h0.9v0.8h-0.9zM417.4 112.6h0.9v0.8h-0.9zM415.8 105.6h0.9v0.8h-0.9zM417.0 133.1h0.9v0.8h-0.9zM426.8 127.8h0.9v0.8h-0.9zM425.9 143.5h0.9v0.8h-0.9zM425.7 124.5h0.9v0.8h-0.9zM425.6 137.7h0.9v0.8h-0.9zM427.0 111.0h0.9v0.8h-0.9zM436.4 113.1h0.9v0.8h-0.9zM435.7 143.5h0.9v0.8h-0.9zM436.5 142.2h0.9v0.8h-0.9zM437.0 111.0h0.9v0.8h-0.9zM435.5 138.9h0.9v0.8h-0.9zM445.3 115.7h0.9v0.8h-0.9zM444.9 131.5h0.9v0.8h-0.9zM445.6 133.3h0.9v0.8h-0.9zM445.5 113.6h0.9v0.8h-0.9zM446.2 136.7h0.9v0.8h-0.9z" fill="#d8b0a8" opacity="0.8"/>
<path d="M410.7 128.7h0.9v0.8h-0.9zM410.8 129.5h0.9v0.8h-0.9zM410.8 125.8h0.9v0.8h-0.9zM411.0 124.9h0.9v0.8h-0.9zM411.0 130.7h0.9v0.8h-0.9zM420.0 121.1h0.9v0.8h-0.9zM420.8 123.0h0.9v0.8h-0.9zM421.0 125.4h0.9v0.8h-0.9zM420.6 124.0h0.9v0.8h-0.9zM420.8 125.0h0.9v0.8h-0.9zM430.5 131.4h0.9v0.8h-0.9zM429.9 125.8h0.9v0.8h-0.9zM430.2 132.2h0.9v0.8h-0.9zM429.8 129.8h0.9v0.8h-0.9zM430.3 127.2h0.9v0.8h-0.9zM440.2 124.7h0.9v0.8h-0.9zM440.0 126.9h0.9v0.8h-0.9zM439.9 125.5h0.9v0.8h-0.9zM439.4 135.6h0.9v0.8h-0.9zM439.7 134.3h0.9v0.8h-0.9zM449.8 131.6h0.9v0.8h-0.9zM449.9 135.5h0.9v0.8h-0.9zM450.1 133.1h0.9v0.8h-0.9zM449.6 129.5h0.9v0.8h-0.9zM449.6 135.5h0.9v0.8h-0.9z" fill="#5a62a8" opacity="0.8"/>
<path d="M411.3 120.1h0.9v0.8h-0.9zM411.2 142.6h0.9v0.8h-0.9zM410.6 119.1h0.9v0.8h-0.9zM410.7 141.4h0.9v0.8h-0.9zM410.0 110.0h0.9v0.8h-0.9zM420.1 135.7h0.9v0.8h-0.9zM419.7 131.0h0.9v0.8h-0.9zM419.6 128.5h0.9v0.8h-0.9zM420.3 134.6h0.9v0.8h-0.9zM419.6 126.3h0.9v0.8h-0.9zM430.4 139.4h0.9v0.8h-0.9zM429.6 139.5h0.9v0.8h-0.9zM429.9 136.0h0.9v0.8h-0.9zM430.9 115.9h0.9v0.8h-0.9zM430.9 143.2h0.9v0.8h-0.9zM439.2 128.4h0.9v0.8h-0.9zM439.2 126.5h0.9v0.8h-0.9zM439.3 135.1h0.9v0.8h-0.9zM439.2 136.9h0.9v0.8h-0.9zM440.0 115.8h0.9v0.8h-0.9zM449.5 127.1h0.9v0.8h-0.9zM449.5 120.4h0.9v0.8h-0.9zM450.7 116.6h0.9v0.8h-0.9zM449.9 142.0h0.9v0.8h-0.9zM449.2 133.3h0.9v0.8h-0.9z" fill="#a8b0d8" opacity="0.8"/>
<path d="M404.5 98.50V150.5H456.70" fill="none" stroke="#8a8a8a" stroke-width="0.85"/>
<line x1="403.00" y1="104.90" x2="404.20" y2="104.90" stroke="#8a8a8a" stroke-width="0.6"/>
<text x="402.70" y="107.00" font-size="6.0" text-anchor="end" font-weight="normal" font-style="normal" fill="#2a2a2a" stroke="#2a2a2a" stroke-width="0.18" >80</text>
<line x1="403.00" y1="116.30" x2="404.20" y2="116.30" stroke="#8a8a8a" stroke-width="0.6"/>
<text x="402.70" y="118.40" font-size="6.0" text-anchor="end" font-weight="normal" font-style="normal" fill="#2a2a2a" stroke="#2a2a2a" stroke-width="0.18" >60</text>
<line x1="403.00" y1="127.80" x2="404.20" y2="127.80" stroke="#8a8a8a" stroke-width="0.6"/>
<text x="402.70" y="129.90" font-size="6.0" text-anchor="end" font-weight="normal" font-style="normal" fill="#2a2a2a" stroke="#2a2a2a" stroke-width="0.18" >40</text>
<line x1="403.00" y1="138.60" x2="404.20" y2="138.60" stroke="#8a8a8a" stroke-width="0.6"/>
<text x="402.70" y="140.70" font-size="6.0" text-anchor="end" font-weight="normal" font-style="normal" fill="#2a2a2a" stroke="#2a2a2a" stroke-width="0.18" >20</text>
<text x="408.80" y="156.50" font-size="6.1" text-anchor="middle" font-weight="normal" font-style="normal" fill="#1a1a1a" stroke="#1a1a1a" stroke-width="0.18" >tp1</text>
<text x="418.55" y="156.50" font-size="6.1" text-anchor="middle" font-weight="normal" font-style="normal" fill="#1a1a1a" stroke="#1a1a1a" stroke-width="0.18" >tp2</text>
<text x="428.30" y="156.50" font-size="6.1" text-anchor="middle" font-weight="normal" font-style="normal" fill="#1a1a1a" stroke="#1a1a1a" stroke-width="0.18" >tp3</text>
<text x="438.05" y="156.50" font-size="6.1" text-anchor="middle" font-weight="normal" font-style="normal" fill="#1a1a1a" stroke="#1a1a1a" stroke-width="0.18" >tp4</text>
<text x="447.80" y="156.50" font-size="6.1" text-anchor="middle" font-weight="normal" font-style="normal" fill="#1a1a1a" stroke="#1a1a1a" stroke-width="0.18" >tp5</text>
<text x="428.00" y="92.80" font-size="7.4" text-anchor="middle" font-weight="bold" font-style="normal" fill="#111" stroke="#111" stroke-width="0.18" >TIM-3</text>
<circle cx="438.40" cy="160.70" r="0.9" fill="#3a3ab4"/>
<circle cx="438.40" cy="163.45" r="0.9" fill="#3a3ab4"/>
<circle cx="438.40" cy="166.20" r="0.9" fill="#3a3ab4"/>
<circle cx="448.20" cy="160.70" r="0.9" fill="#3a3ab4"/>
<circle cx="448.20" cy="163.45" r="0.9" fill="#3a3ab4"/>
<text x="1.50" y="9.00" font-size="10.8" text-anchor="start" font-weight="bold" font-style="normal" fill="#000" stroke="#000" stroke-width="0.18" >A</text>
<text x="1.50" y="93.60" font-size="10.8" text-anchor="start" font-weight="bold" font-style="normal" fill="#000" stroke="#000" stroke-width="0.18" >B</text>
<text x="2.30" y="179.70" font-size="10.8" text-anchor="start" font-weight="bold" font-style="normal" fill="#000" stroke="#000" stroke-width="0.18" >C</text>
<text x="244.60" y="179.70" font-size="10.8" text-anchor="start" font-weight="bold" font-style="normal" fill="#000" stroke="#000" stroke-width="0.18" >D</text>
<text transform="translate(11.0,46.30) rotate(-90)" font-size="6.8" text-anchor="middle" fill="#111" stroke="#111" stroke-width="0.2">% of total CD4<tspan font-size="4.4" dy="-2.4">+</tspan><tspan dy="2.4"> T-cells</tspan></text>
<text transform="translate(11.0,131.90) rotate(-90)" font-size="6.8" text-anchor="middle" fill="#111" stroke="#111" stroke-width="0.2">% of total CD8<tspan font-size="4.4" dy="-2.4">+</tspan><tspan dy="2.4"> T-cells</tspan></text>
<rect x="476" y="95.6" width="2.8" height="4.2" fill="#f9e2db" stroke="#e59a8a" stroke-width="0.8"/>
<rect x="476" y="102.8" width="2.8" height="4.4" fill="#dfe3f7" stroke="#939ce0" stroke-width="0.8"/>
<text x="482.00" y="99.60" font-size="5.8" text-anchor="start" font-weight="normal" font-style="normal" fill="#333" stroke="#333" stroke-width="0.18" >IRIS</text>
<text x="482.00" y="106.90" font-size="5.8" text-anchor="start" font-weight="normal" font-style="normal" fill="#333" stroke="#333" stroke-width="0.18" >non-IRIS</text>
<rect x="93.10" y="182.8" width="27.6" height="28.5" fill="#d0d0d0"/>
<line x1="63.20" y1="171" x2="63.20" y2="242" stroke="#8a8498" stroke-width="0.8" stroke-dasharray="2.0,1.4"/>
<text x="49.30" y="177.30" font-size="5.9" text-anchor="middle" font-weight="normal" font-style="normal" fill="#1a1a1a" stroke="#1a1a1a" stroke-width="0.18" >tp1</text>
<path d="M49.30,197.30 L49.30,184.60 A12.7,12.7 0 0 1 59.95,190.38 Z" fill="#5fb834" stroke="#444" stroke-width="0.25"/>
<path d="M49.30,197.30 L59.95,190.38 A12.7,12.7 0 0 1 60.30,190.95 Z" fill="#eef6f8" stroke="#444" stroke-width="0.25"/>
<path d="M49.30,197.30 L60.30,190.95 A12.7,12.7 0 0 1 61.08,202.06 Z" fill="#aef4f3" stroke="#444" stroke-width="0.25"/>
<path d="M49.30,197.30 L61.08,202.06 A12.7,12.7 0 0 1 58.74,205.80 Z" fill="#c4ccd4" stroke="#444" stroke-width="0.25"/>
<path d="M49.30,197.30 L58.74,205.80 A12.7,12.7 0 0 1 42.95,208.30 Z" fill="#98c8f0" stroke="#444" stroke-width="0.25"/>
<path d="M49.30,197.30 L42.95,208.30 A12.7,12.7 0 0 1 38.30,190.95 Z" fill="#2242e6" stroke="#444" stroke-width="0.25"/>
<path d="M49.30,197.30 L38.30,190.95 A12.7,12.7 0 0 1 40.32,188.32 Z" fill="#0a0a0a" stroke="#444" stroke-width="0.25"/>
<path d="M49.30,197.30 L40.32,188.32 A12.7,12.7 0 0 1 49.30,184.60 Z" fill="#b22200" stroke="#444" stroke-width="0.25"/>
<circle cx="49.30" cy="197.30" r="12.7" fill="none" stroke="#555" stroke-width="0.35"/>
<path d="M49.30,226.10 L49.30,213.40 A12.7,12.7 0 0 1 61.08,221.34 Z" fill="#5fb834" stroke="#444" stroke-width="0.25"/>
<path d="M49.30,226.10 L61.08,221.34 A12.7,12.7 0 0 1 61.23,221.76 Z" fill="#eef6f8" stroke="#444" stroke-width="0.25"/>
<path d="M49.30,226.10 L61.23,221.76 A12.7,12.7 0 0 1 60.30,232.45 Z" fill="#aef4f3" stroke="#444" stroke-width="0.25"/>
<path d="M49.30,226.10 L60.30,232.45 A12.7,12.7 0 0 1 57.96,235.39 Z" fill="#c4ccd4" stroke="#444" stroke-width="0.25"/>
<path d="M49.30,226.10 L57.96,235.39 A12.7,12.7 0 0 1 48.19,238.75 Z" fill="#98c8f0" stroke="#444" stroke-width="0.25"/>
<path d="M49.30,226.10 L48.19,238.75 A12.7,12.7 0 0 1 36.93,223.24 Z" fill="#2242e6" stroke="#444" stroke-width="0.25"/>
<path d="M49.30,226.10 L36.93,223.24 A12.7,12.7 0 0 1 38.30,219.75 Z" fill="#0a0a0a" stroke="#444" stroke-width="0.25"/>
<path d="M49.30,226.10 L38.30,219.75 A12.7,12.7 0 0 1 49.30,213.40 Z" fill="#b22200" stroke="#444" stroke-width="0.25"/>
<circle cx="49.30" cy="226.10" r="12.7" fill="none" stroke="#555" stroke-width="0.35"/>
<text x="78.30" y="177.30" font-size="5.9" text-anchor="middle" font-weight="normal" font-style="normal" fill="#1a1a1a" stroke="#1a1a1a" stroke-width="0.18" >tp2</text>
<path d="M78.30,197.30 L78.30,184.60 A12.7,12.7 0 0 1 85.58,186.90 Z" fill="#5fb834" stroke="#444" stroke-width="0.25"/>
<path d="M78.30,197.30 L85.58,186.90 A12.7,12.7 0 0 1 85.94,187.16 Z" fill="#eef6f8" stroke="#444" stroke-width="0.25"/>
<path d="M78.30,197.30 L85.94,187.16 A12.7,12.7 0 0 1 86.46,207.03 Z" fill="#aef4f3" stroke="#444" stroke-width="0.25"/>
<path d="M78.30,197.30 L86.46,207.03 A12.7,12.7 0 0 1 81.59,209.57 Z" fill="#c4ccd4" stroke="#444" stroke-width="0.25"/>
<path d="M78.30,197.30 L81.59,209.57 A12.7,12.7 0 0 1 67.30,203.65 Z" fill="#98c8f0" stroke="#444" stroke-width="0.25"/>
<path d="M78.30,197.30 L67.30,203.65 A12.7,12.7 0 0 1 71.95,186.30 Z" fill="#2242e6" stroke="#444" stroke-width="0.25"/>
<path d="M78.30,197.30 L71.95,186.30 A12.7,12.7 0 0 1 75.01,185.03 Z" fill="#0a0a0a" stroke="#444" stroke-width="0.25"/>
<path d="M78.30,197.30 L75.01,185.03 A12.7,12.7 0 0 1 78.30,184.60 Z" fill="#b22200" stroke="#444" stroke-width="0.25"/>
<circle cx="78.30" cy="197.30" r="12.7" fill="none" stroke="#555" stroke-width="0.35"/>
<path d="M78.30,226.10 L78.30,213.40 A12.7,12.7 0 0 1 86.80,216.66 Z" fill="#5fb834" stroke="#444" stroke-width="0.25"/>
<path d="M78.30,226.10 L86.80,216.66 A12.7,12.7 0 0 1 87.12,216.96 Z" fill="#eef6f8" stroke="#444" stroke-width="0.25"/>
<path d="M78.30,226.10 L87.12,216.96 A12.7,12.7 0 0 1 88.44,233.74 Z" fill="#aef4f3" stroke="#444" stroke-width="0.25"/>
<path d="M78.30,226.10 L88.44,233.74 A12.7,12.7 0 0 1 83.67,237.61 Z" fill="#c4ccd4" stroke="#444" stroke-width="0.25"/>
<path d="M78.30,226.10 L83.67,237.61 A12.7,12.7 0 0 1 67.90,233.38 Z" fill="#98c8f0" stroke="#444" stroke-width="0.25"/>
<path d="M78.30,226.10 L67.90,233.38 A12.7,12.7 0 0 1 70.14,216.37 Z" fill="#2242e6" stroke="#444" stroke-width="0.25"/>
<path d="M78.30,226.10 L70.14,216.37 A12.7,12.7 0 0 1 72.14,214.99 Z" fill="#0a0a0a" stroke="#444" stroke-width="0.25"/>
<path d="M78.30,226.10 L72.14,214.99 A12.7,12.7 0 0 1 78.30,213.40 Z" fill="#b22200" stroke="#444" stroke-width="0.25"/>
<circle cx="78.30" cy="226.10" r="12.7" fill="none" stroke="#555" stroke-width="0.35"/>
<text x="107.30" y="177.30" font-size="5.9" text-anchor="middle" font-weight="normal" font-style="normal" fill="#1a1a1a" stroke="#1a1a1a" stroke-width="0.18" >tp3</text>
<path d="M107.30,197.30 L107.30,184.60 A12.7,12.7 0 0 1 114.58,186.90 Z" fill="#5fb834" stroke="#444" stroke-width="0.25"/>
<path d="M107.30,197.30 L114.58,186.90 A12.7,12.7 0 0 1 114.94,187.16 Z" fill="#eef6f8" stroke="#444" stroke-width="0.25"/>
<path d="M107.30,197.30 L114.94,187.16 A12.7,12.7 0 0 1 119.23,201.64 Z" fill="#aef4f3" stroke="#444" stroke-width="0.25"/>
<path d="M107.30,197.30 L119.23,201.64 A12.7,12.7 0 0 1 113.65,208.30 Z" fill="#c4ccd4" stroke="#444" stroke-width="0.25"/>
<path d="M107.30,197.30 L113.65,208.30 A12.7,12.7 0 0 1 101.93,208.81 Z" fill="#98c8f0" stroke="#444" stroke-width="0.25"/>
<path d="M107.30,197.30 L101.93,208.81 A12.7,12.7 0 0 1 100.95,186.30 Z" fill="#2242e6" stroke="#444" stroke-width="0.25"/>
<path d="M107.30,197.30 L100.95,186.30 A12.7,12.7 0 0 1 102.96,185.37 Z" fill="#0a0a0a" stroke="#444" stroke-width="0.25"/>
<path d="M107.30,197.30 L102.96,185.37 A12.7,12.7 0 0 1 107.30,184.60 Z" fill="#b22200" stroke="#444" stroke-width="0.25"/>
<circle cx="107.30" cy="197.30" r="12.7" fill="none" stroke="#555" stroke-width="0.35"/>
<path d="M107.30,226.10 L107.30,213.40 A12.7,12.7 0 0 1 117.70,218.82 Z" fill="#5fb834" stroke="#444" stroke-width="0.25"/>
<path d="M107.30,226.10 L117.70,218.82 A12.7,12.7 0 0 1 117.95,219.18 Z" fill="#eef6f8" stroke="#444" stroke-width="0.25"/>
<path d="M107.30,226.10 L117.95,219.18 A12.7,12.7 0 0 1 115.46,235.83 Z" fill="#aef4f3" stroke="#444" stroke-width="0.25"/>
<path d="M107.30,226.10 L115.46,235.83 A12.7,12.7 0 0 1 111.64,238.03 Z" fill="#c4ccd4" stroke="#444" stroke-width="0.25"/>
<path d="M107.30,226.10 L111.64,238.03 A12.7,12.7 0 0 1 96.90,233.38 Z" fill="#98c8f0" stroke="#444" stroke-width="0.25"/>
<path d="M107.30,226.10 L96.90,233.38 A12.7,12.7 0 0 1 99.14,216.37 Z" fill="#2242e6" stroke="#444" stroke-width="0.25"/>
<path d="M107.30,226.10 L99.14,216.37 A12.7,12.7 0 0 1 101.93,214.59 Z" fill="#0a0a0a" stroke="#444" stroke-width="0.25"/>
<path d="M107.30,226.10 L101.93,214.59 A12.7,12.7 0 0 1 107.30,213.40 Z" fill="#b22200" stroke="#444" stroke-width="0.25"/>
<circle cx="107.30" cy="226.10" r="12.7" fill="none" stroke="#555" stroke-width="0.35"/>
<text x="136.30" y="177.30" font-size="5.9" text-anchor="middle" font-weight="normal" font-style="normal" fill="#1a1a1a" stroke="#1a1a1a" stroke-width="0.18" >tp4</text>
<path d="M136.30,197.30 L136.30,184.60 A12.7,12.7 0 0 1 146.70,190.02 Z" fill="#5fb834" stroke="#444" stroke-width="0.25"/>
<path d="M136.30,197.30 L146.70,190.02 A12.7,12.7 0 0 1 146.95,190.38 Z" fill="#eef6f8" stroke="#444" stroke-width="0.25"/>
<path d="M136.30,197.30 L146.95,190.38 A12.7,12.7 0 0 1 147.81,202.67 Z" fill="#aef4f3" stroke="#444" stroke-width="0.25"/>
<path d="M136.30,197.30 L147.81,202.67 A12.7,12.7 0 0 1 142.65,208.30 Z" fill="#c4ccd4" stroke="#444" stroke-width="0.25"/>
<path d="M136.30,197.30 L142.65,208.30 A12.7,12.7 0 0 1 129.95,208.30 Z" fill="#98c8f0" stroke="#444" stroke-width="0.25"/>
<path d="M136.30,197.30 L129.95,208.30 A12.7,12.7 0 0 1 129.95,186.30 Z" fill="#2242e6" stroke="#444" stroke-width="0.25"/>
<path d="M136.30,197.30 L129.95,186.30 A12.7,12.7 0 0 1 131.54,185.52 Z" fill="#0a0a0a" stroke="#444" stroke-width="0.25"/>
<path d="M136.30,197.30 L131.54,185.52 A12.7,12.7 0 0 1 136.30,184.60 Z" fill="#b22200" stroke="#444" stroke-width="0.25"/>
<circle cx="136.30" cy="197.30" r="12.7" fill="none" stroke="#555" stroke-width="0.35"/>
<path d="M136.30,226.10 L136.30,213.40 A12.7,12.7 0 0 1 149.00,226.10 Z" fill="#5fb834" stroke="#444" stroke-width="0.25"/>
<path d="M136.30,226.10 L149.00,226.10 A12.7,12.7 0 0 1 148.99,226.54 Z" fill="#eef6f8" stroke="#444" stroke-width="0.25"/>
<path d="M136.30,226.10 L148.99,226.54 A12.7,12.7 0 0 1 137.41,238.75 Z" fill="#aef4f3" stroke="#444" stroke-width="0.25"/>
<path d="M136.30,226.10 L137.41,238.75 A12.7,12.7 0 0 1 134.09,238.61 Z" fill="#c4ccd4" stroke="#444" stroke-width="0.25"/>
<path d="M136.30,226.10 L134.09,238.61 A12.7,12.7 0 0 1 123.79,228.31 Z" fill="#98c8f0" stroke="#444" stroke-width="0.25"/>
<path d="M136.30,226.10 L123.79,228.31 A12.7,12.7 0 0 1 129.02,215.70 Z" fill="#2242e6" stroke="#444" stroke-width="0.25"/>
<path d="M136.30,226.10 L129.02,215.70 A12.7,12.7 0 0 1 131.96,214.17 Z" fill="#0a0a0a" stroke="#444" stroke-width="0.25"/>
<path d="M136.30,226.10 L131.96,214.17 A12.7,12.7 0 0 1 136.30,213.40 Z" fill="#b22200" stroke="#444" stroke-width="0.25"/>
<circle cx="136.30" cy="226.10" r="12.7" fill="none" stroke="#555" stroke-width="0.35"/>
<text x="165.30" y="177.30" font-size="5.9" text-anchor="middle" font-weight="normal" font-style="normal" fill="#1a1a1a" stroke="#1a1a1a" stroke-width="0.18" >tp5</text>
<path d="M165.30,197.30 L165.30,184.60 A12.7,12.7 0 0 1 177.81,195.09 Z" fill="#5fb834" stroke="#444" stroke-width="0.25"/>
<path d="M165.30,197.30 L177.81,195.09 A12.7,12.7 0 0 1 177.88,195.53 Z" fill="#eef6f8" stroke="#444" stroke-width="0.25"/>
<path d="M165.30,197.30 L177.88,195.53 A12.7,12.7 0 0 1 168.59,209.57 Z" fill="#aef4f3" stroke="#444" stroke-width="0.25"/>
<path d="M165.30,197.30 L168.59,209.57 A12.7,12.7 0 0 1 164.19,209.95 Z" fill="#c4ccd4" stroke="#444" stroke-width="0.25"/>
<path d="M165.30,197.30 L164.19,209.95 A12.7,12.7 0 0 1 153.03,200.59 Z" fill="#98c8f0" stroke="#444" stroke-width="0.25"/>
<path d="M165.30,197.30 L153.03,200.59 A12.7,12.7 0 0 1 157.31,187.43 Z" fill="#2242e6" stroke="#444" stroke-width="0.25"/>
<path d="M165.30,197.30 L157.31,187.43 A12.7,12.7 0 0 1 159.34,186.09 Z" fill="#0a0a0a" stroke="#444" stroke-width="0.25"/>
<path d="M165.30,197.30 L159.34,186.09 A12.7,12.7 0 0 1 165.30,184.60 Z" fill="#b22200" stroke="#444" stroke-width="0.25"/>
<circle cx="165.30" cy="197.30" r="12.7" fill="none" stroke="#555" stroke-width="0.35"/>
<path d="M165.30,226.10 L165.30,213.40 A12.7,12.7 0 0 1 175.70,233.38 Z" fill="#5fb834" stroke="#444" stroke-width="0.25"/>
<path d="M165.30,226.10 L175.70,233.38 A12.7,12.7 0 0 1 175.44,233.74 Z" fill="#eef6f8" stroke="#444" stroke-width="0.25"/>
<path d="M165.30,226.10 L175.44,233.74 A12.7,12.7 0 0 1 162.01,238.37 Z" fill="#aef4f3" stroke="#444" stroke-width="0.25"/>
<path d="M165.30,226.10 L162.01,238.37 A12.7,12.7 0 0 1 159.93,237.61 Z" fill="#c4ccd4" stroke="#444" stroke-width="0.25"/>
<path d="M165.30,226.10 L159.93,237.61 A12.7,12.7 0 0 1 152.65,227.21 Z" fill="#98c8f0" stroke="#444" stroke-width="0.25"/>
<path d="M165.30,226.10 L152.65,227.21 A12.7,12.7 0 0 1 158.02,215.70 Z" fill="#2242e6" stroke="#444" stroke-width="0.25"/>
<path d="M165.30,226.10 L158.02,215.70 A12.7,12.7 0 0 1 160.96,214.17 Z" fill="#0a0a0a" stroke="#444" stroke-width="0.25"/>
<path d="M165.30,226.10 L160.96,214.17 A12.7,12.7 0 0 1 165.30,213.40 Z" fill="#b22200" stroke="#444" stroke-width="0.25"/>
<circle cx="165.30" cy="226.10" r="12.7" fill="none" stroke="#555" stroke-width="0.35"/>
<circle cx="78.30" cy="241.8" r="0.85" fill="#38388a"/>
<circle cx="107.30" cy="241.8" r="0.85" fill="#38388a"/>
<circle cx="134.80" cy="241.8" r="0.85" fill="#38388a"/>
<circle cx="137.80" cy="241.8" r="0.85" fill="#38388a"/>
<circle cx="163.80" cy="241.8" r="0.85" fill="#38388a"/>
<circle cx="166.80" cy="241.8" r="0.85" fill="#38388a"/>
<rect x="337.10" y="182.8" width="27.6" height="28.5" fill="#d0d0d0"/>
<line x1="307.20" y1="171" x2="307.20" y2="242" stroke="#8a8498" stroke-width="0.8" stroke-dasharray="2.0,1.4"/>
<text x="293.30" y="177.30" font-size="5.9" text-anchor="middle" font-weight="normal" font-style="normal" fill="#1a1a1a" stroke="#1a1a1a" stroke-width="0.18" >tp1</text>
<path d="M293.30,197.30 L293.30,184.60 A12.7,12.7 0 0 1 304.30,190.95 Z" fill="#5fb834" stroke="#444" stroke-width="0.25"/>
<path d="M293.30,197.30 L304.30,190.95 A12.7,12.7 0 0 1 305.57,194.01 Z" fill="#eef6f8" stroke="#444" stroke-width="0.25"/>
<path d="M293.30,197.30 L305.57,194.01 A12.7,12.7 0 0 1 305.81,195.09 Z" fill="#aef4f3" stroke="#444" stroke-width="0.25"/>
<path d="M293.30,197.30 L305.81,195.09 A12.7,12.7 0 0 1 305.95,196.19 Z" fill="#c4ccd4" stroke="#444" stroke-width="0.25"/>
<path d="M293.30,197.30 L305.95,196.19 A12.7,12.7 0 0 1 305.57,200.59 Z" fill="#98c8f0" stroke="#444" stroke-width="0.25"/>
<path d="M293.30,197.30 L305.57,200.59 A12.7,12.7 0 0 1 291.09,209.81 Z" fill="#2242e6" stroke="#444" stroke-width="0.25"/>
<path d="M293.30,197.30 L291.09,209.81 A12.7,12.7 0 0 1 286.95,208.30 Z" fill="#0a0a0a" stroke="#444" stroke-width="0.25"/>
<path d="M293.30,197.30 L286.95,208.30 A12.7,12.7 0 0 1 293.30,184.60 Z" fill="#b22200" stroke="#444" stroke-width="0.25"/>
<circle cx="293.30" cy="197.30" r="12.7" fill="none" stroke="#555" stroke-width="0.35"/>
<path d="M293.30,226.10 L293.30,213.40 A12.7,12.7 0 0 1 304.81,220.73 Z" fill="#5fb834" stroke="#444" stroke-width="0.25"/>
<path d="M293.30,226.10 L304.81,220.73 A12.7,12.7 0 0 1 305.81,223.89 Z" fill="#eef6f8" stroke="#444" stroke-width="0.25"/>
<path d="M293.30,226.10 L305.81,223.89 A12.7,12.7 0 0 1 305.95,224.99 Z" fill="#aef4f3" stroke="#444" stroke-width="0.25"/>
<path d="M293.30,226.10 L305.95,224.99 A12.7,12.7 0 0 1 305.99,225.66 Z" fill="#c4ccd4" stroke="#444" stroke-width="0.25"/>
<path d="M293.30,226.10 L305.99,225.66 A12.7,12.7 0 0 1 305.57,229.39 Z" fill="#98c8f0" stroke="#444" stroke-width="0.25"/>
<path d="M293.30,226.10 L305.57,229.39 A12.7,12.7 0 0 1 296.59,238.37 Z" fill="#2242e6" stroke="#444" stroke-width="0.25"/>
<path d="M293.30,226.10 L296.59,238.37 A12.7,12.7 0 0 1 292.19,238.75 Z" fill="#0a0a0a" stroke="#444" stroke-width="0.25"/>
<path d="M293.30,226.10 L292.19,238.75 A12.7,12.7 0 0 1 293.30,213.40 Z" fill="#b22200" stroke="#444" stroke-width="0.25"/>
<circle cx="293.30" cy="226.10" r="12.7" fill="none" stroke="#555" stroke-width="0.35"/>
<text x="322.30" y="177.30" font-size="5.9" text-anchor="middle" font-weight="normal" font-style="normal" fill="#1a1a1a" stroke="#1a1a1a" stroke-width="0.18" >tp2</text>
<path d="M322.30,197.30 L322.30,184.60 A12.7,12.7 0 0 1 333.81,191.93 Z" fill="#5fb834" stroke="#444" stroke-width="0.25"/>
<path d="M322.30,197.30 L333.81,191.93 A12.7,12.7 0 0 1 334.81,195.09 Z" fill="#eef6f8" stroke="#444" stroke-width="0.25"/>
<path d="M322.30,197.30 L334.81,195.09 A12.7,12.7 0 0 1 334.99,196.86 Z" fill="#aef4f3" stroke="#444" stroke-width="0.25"/>
<path d="M322.30,197.30 L334.99,196.86 A12.7,12.7 0 0 1 334.99,197.74 Z" fill="#c4ccd4" stroke="#444" stroke-width="0.25"/>
<path d="M322.30,197.30 L334.99,197.74 A12.7,12.7 0 0 1 334.23,201.64 Z" fill="#98c8f0" stroke="#444" stroke-width="0.25"/>
<path d="M322.30,197.30 L334.23,201.64 A12.7,12.7 0 0 1 320.09,209.81 Z" fill="#2242e6" stroke="#444" stroke-width="0.25"/>
<path d="M322.30,197.30 L320.09,209.81 A12.7,12.7 0 0 1 316.93,208.81 Z" fill="#0a0a0a" stroke="#444" stroke-width="0.25"/>
<path d="M322.30,197.30 L316.93,208.81 A12.7,12.7 0 0 1 322.30,184.60 Z" fill="#b22200" stroke="#444" stroke-width="0.25"/>
<circle cx="322.30" cy="197.30" r="12.7" fill="none" stroke="#555" stroke-width="0.35"/>
<path d="M322.30,226.10 L322.30,213.40 A12.7,12.7 0 0 1 334.95,224.99 Z" fill="#5fb834" stroke="#444" stroke-width="0.25"/>
<path d="M322.30,226.10 L334.95,224.99 A12.7,12.7 0 0 1 334.81,228.31 Z" fill="#eef6f8" stroke="#444" stroke-width="0.25"/>
<path d="M322.30,226.10 L334.81,228.31 A12.7,12.7 0 0 1 334.57,229.39 Z" fill="#aef4f3" stroke="#444" stroke-width="0.25"/>
<path d="M322.30,226.10 L334.57,229.39 A12.7,12.7 0 0 1 334.38,230.02 Z" fill="#c4ccd4" stroke="#444" stroke-width="0.25"/>
<path d="M322.30,226.10 L334.38,230.02 A12.7,12.7 0 0 1 332.70,233.38 Z" fill="#98c8f0" stroke="#444" stroke-width="0.25"/>
<path d="M322.30,226.10 L332.70,233.38 A12.7,12.7 0 0 1 320.09,238.61 Z" fill="#2242e6" stroke="#444" stroke-width="0.25"/>
<path d="M322.30,226.10 L320.09,238.61 A12.7,12.7 0 0 1 315.95,237.10 Z" fill="#0a0a0a" stroke="#444" stroke-width="0.25"/>
<path d="M322.30,226.10 L315.95,237.10 A12.7,12.7 0 0 1 322.30,213.40 Z" fill="#b22200" stroke="#444" stroke-width="0.25"/>
<circle cx="322.30" cy="226.10" r="12.7" fill="none" stroke="#555" stroke-width="0.35"/>
<text x="351.30" y="177.30" font-size="5.9" text-anchor="middle" font-weight="normal" font-style="normal" fill="#1a1a1a" stroke="#1a1a1a" stroke-width="0.18" >tp3</text>
<path d="M351.30,197.30 L351.30,184.60 A12.7,12.7 0 0 1 361.70,190.02 Z" fill="#5fb834" stroke="#444" stroke-width="0.25"/>
<path d="M351.30,197.30 L361.70,190.02 A12.7,12.7 0 0 1 362.30,190.95 Z" fill="#eef6f8" stroke="#444" stroke-width="0.25"/>
<path d="M351.30,197.30 L362.30,190.95 A12.7,12.7 0 0 1 363.38,193.38 Z" fill="#aef4f3" stroke="#444" stroke-width="0.25"/>
<path d="M351.30,197.30 L363.38,193.38 A12.7,12.7 0 0 1 363.57,194.01 Z" fill="#c4ccd4" stroke="#444" stroke-width="0.25"/>
<path d="M351.30,197.30 L363.57,194.01 A12.7,12.7 0 0 1 363.99,196.86 Z" fill="#98c8f0" stroke="#444" stroke-width="0.25"/>
<path d="M351.30,197.30 L363.99,196.86 A12.7,12.7 0 0 1 353.51,209.81 Z" fill="#2242e6" stroke="#444" stroke-width="0.25"/>
<path d="M351.30,197.30 L353.51,209.81 A12.7,12.7 0 0 1 350.64,209.98 Z" fill="#0a0a0a" stroke="#444" stroke-width="0.25"/>
<path d="M351.30,197.30 L350.64,209.98 A12.7,12.7 0 0 1 351.30,184.60 Z" fill="#b22200" stroke="#444" stroke-width="0.25"/>
<circle cx="351.30" cy="197.30" r="12.7" fill="none" stroke="#555" stroke-width="0.35"/>
<path d="M351.30,226.10 L351.30,213.40 A12.7,12.7 0 0 1 364.00,226.10 Z" fill="#5fb834" stroke="#444" stroke-width="0.25"/>
<path d="M351.30,226.10 L364.00,226.10 A12.7,12.7 0 0 1 363.81,228.31 Z" fill="#eef6f8" stroke="#444" stroke-width="0.25"/>
<path d="M351.30,226.10 L363.81,228.31 A12.7,12.7 0 0 1 363.57,229.39 Z" fill="#aef4f3" stroke="#444" stroke-width="0.25"/>
<path d="M351.30,226.10 L363.57,229.39 A12.7,12.7 0 0 1 363.38,230.02 Z" fill="#c4ccd4" stroke="#444" stroke-width="0.25"/>
<path d="M351.30,226.10 L363.38,230.02 A12.7,12.7 0 0 1 361.70,233.38 Z" fill="#98c8f0" stroke="#444" stroke-width="0.25"/>
<path d="M351.30,226.10 L361.70,233.38 A12.7,12.7 0 0 1 350.19,238.75 Z" fill="#2242e6" stroke="#444" stroke-width="0.25"/>
<path d="M351.30,226.10 L350.19,238.75 A12.7,12.7 0 0 1 346.96,238.03 Z" fill="#0a0a0a" stroke="#444" stroke-width="0.25"/>
<path d="M351.30,226.10 L346.96,238.03 A12.7,12.7 0 0 1 351.30,213.40 Z" fill="#b22200" stroke="#444" stroke-width="0.25"/>
<circle cx="351.30" cy="226.10" r="12.7" fill="none" stroke="#555" stroke-width="0.35"/>
<text x="380.30" y="177.30" font-size="5.9" text-anchor="middle" font-weight="normal" font-style="normal" fill="#1a1a1a" stroke="#1a1a1a" stroke-width="0.18" >tp4</text>
<path d="M380.30,197.30 L380.30,184.60 A12.7,12.7 0 0 1 390.70,190.02 Z" fill="#5fb834" stroke="#444" stroke-width="0.25"/>
<path d="M380.30,197.30 L390.70,190.02 A12.7,12.7 0 0 1 391.62,191.53 Z" fill="#eef6f8" stroke="#444" stroke-width="0.25"/>
<path d="M380.30,197.30 L391.62,191.53 A12.7,12.7 0 0 1 392.51,193.80 Z" fill="#aef4f3" stroke="#444" stroke-width="0.25"/>
<path d="M380.30,197.30 L392.51,193.80 A12.7,12.7 0 0 1 392.67,194.44 Z" fill="#c4ccd4" stroke="#444" stroke-width="0.25"/>
<path d="M380.30,197.30 L392.67,194.44 A12.7,12.7 0 0 1 392.95,198.41 Z" fill="#98c8f0" stroke="#444" stroke-width="0.25"/>
<path d="M380.30,197.30 L392.95,198.41 A12.7,12.7 0 0 1 380.74,209.99 Z" fill="#2242e6" stroke="#444" stroke-width="0.25"/>
<path d="M380.30,197.30 L380.74,209.99 A12.7,12.7 0 0 1 376.80,209.51 Z" fill="#0a0a0a" stroke="#444" stroke-width="0.25"/>
<path d="M380.30,197.30 L376.80,209.51 A12.7,12.7 0 0 1 380.30,184.60 Z" fill="#b22200" stroke="#444" stroke-width="0.25"/>
<circle cx="380.30" cy="197.30" r="12.7" fill="none" stroke="#555" stroke-width="0.35"/>
<path d="M380.30,226.10 L380.30,213.40 A12.7,12.7 0 0 1 392.95,227.21 Z" fill="#5fb834" stroke="#444" stroke-width="0.25"/>
<path d="M380.30,226.10 L392.95,227.21 A12.7,12.7 0 0 1 392.57,229.39 Z" fill="#eef6f8" stroke="#444" stroke-width="0.25"/>
<path d="M380.30,226.10 L392.57,229.39 A12.7,12.7 0 0 1 392.23,230.44 Z" fill="#aef4f3" stroke="#444" stroke-width="0.25"/>
<path d="M380.30,226.10 L392.23,230.44 A12.7,12.7 0 0 1 391.99,231.06 Z" fill="#c4ccd4" stroke="#444" stroke-width="0.25"/>
<path d="M380.30,226.10 L391.99,231.06 A12.7,12.7 0 0 1 390.03,234.26 Z" fill="#98c8f0" stroke="#444" stroke-width="0.25"/>
<path d="M380.30,226.10 L390.03,234.26 A12.7,12.7 0 0 1 379.19,238.75 Z" fill="#2242e6" stroke="#444" stroke-width="0.25"/>
<path d="M380.30,226.10 L379.19,238.75 A12.7,12.7 0 0 1 373.95,237.10 Z" fill="#0a0a0a" stroke="#444" stroke-width="0.25"/>
<path d="M380.30,226.10 L373.95,237.10 A12.7,12.7 0 0 1 380.30,213.40 Z" fill="#b22200" stroke="#444" stroke-width="0.25"/>
<circle cx="380.30" cy="226.10" r="12.7" fill="none" stroke="#555" stroke-width="0.35"/>
<text x="409.30" y="177.30" font-size="5.9" text-anchor="middle" font-weight="normal" font-style="normal" fill="#1a1a1a" stroke="#1a1a1a" stroke-width="0.18" >tp5</text>
<path d="M409.30,197.30 L409.30,184.60 A12.7,12.7 0 0 1 421.81,195.09 Z" fill="#5fb834" stroke="#444" stroke-width="0.25"/>
<path d="M409.30,197.30 L421.81,195.09 A12.7,12.7 0 0 1 421.95,198.41 Z" fill="#eef6f8" stroke="#444" stroke-width="0.25"/>
<path d="M409.30,197.30 L421.95,198.41 A12.7,12.7 0 0 1 421.81,199.51 Z" fill="#aef4f3" stroke="#444" stroke-width="0.25"/>
<path d="M409.30,197.30 L421.81,199.51 A12.7,12.7 0 0 1 421.57,200.59 Z" fill="#c4ccd4" stroke="#444" stroke-width="0.25"/>
<path d="M409.30,197.30 L421.57,200.59 A12.7,12.7 0 0 1 419.70,204.58 Z" fill="#98c8f0" stroke="#444" stroke-width="0.25"/>
<path d="M409.30,197.30 L419.70,204.58 A12.7,12.7 0 0 1 403.93,208.81 Z" fill="#2242e6" stroke="#444" stroke-width="0.25"/>
<path d="M409.30,197.30 L403.93,208.81 A12.7,12.7 0 0 1 398.90,204.58 Z" fill="#0a0a0a" stroke="#444" stroke-width="0.25"/>
<path d="M409.30,197.30 L398.90,204.58 A12.7,12.7 0 0 1 409.30,184.60 Z" fill="#b22200" stroke="#444" stroke-width="0.25"/>
<circle cx="409.30" cy="197.30" r="12.7" fill="none" stroke="#555" stroke-width="0.35"/>
<path d="M409.30,226.10 L409.30,213.40 A12.7,12.7 0 0 1 421.57,229.39 Z" fill="#5fb834" stroke="#444" stroke-width="0.25"/>
<path d="M409.30,226.10 L421.57,229.39 A12.7,12.7 0 0 1 420.30,232.45 Z" fill="#eef6f8" stroke="#444" stroke-width="0.25"/>
<path d="M409.30,226.10 L420.30,232.45 A12.7,12.7 0 0 1 419.70,233.38 Z" fill="#aef4f3" stroke="#444" stroke-width="0.25"/>
<path d="M409.30,226.10 L419.70,233.38 A12.7,12.7 0 0 1 419.31,233.92 Z" fill="#c4ccd4" stroke="#444" stroke-width="0.25"/>
<path d="M409.30,226.10 L419.31,233.92 A12.7,12.7 0 0 1 415.65,237.10 Z" fill="#98c8f0" stroke="#444" stroke-width="0.25"/>
<path d="M409.30,226.10 L415.65,237.10 A12.7,12.7 0 0 1 404.96,238.03 Z" fill="#2242e6" stroke="#444" stroke-width="0.25"/>
<path d="M409.30,226.10 L404.96,238.03 A12.7,12.7 0 0 1 398.90,233.38 Z" fill="#0a0a0a" stroke="#444" stroke-width="0.25"/>
<path d="M409.30,226.10 L398.90,233.38 A12.7,12.7 0 0 1 409.30,213.40 Z" fill="#b22200" stroke="#444" stroke-width="0.25"/>
<circle cx="409.30" cy="226.10" r="12.7" fill="none" stroke="#555" stroke-width="0.35"/>
<circle cx="409.30" cy="241.8" r="0.85" fill="#38388a"/>
<circle cx="351.30" cy="179.8" r="0.85" fill="#38388a"/>
<circle cx="380.30" cy="179.8" r="0.85" fill="#38388a"/>
<text x="28.40" y="199.40" font-size="6.0" text-anchor="end" font-weight="bold" font-style="italic" fill="#c83030" stroke="#c83030" stroke-width="0.18" >IRIS</text>
<text x="28.40" y="227.40" font-size="6.0" text-anchor="end" font-weight="bold" font-style="italic" fill="#2a2ab0" stroke="#2a2ab0" stroke-width="0.18" >non-IRIS</text>
<text x="274.00" y="199.40" font-size="6.0" text-anchor="end" font-weight="bold" font-style="italic" fill="#c83030" stroke="#c83030" stroke-width="0.18" >IRIS</text>
<text x="274.00" y="227.40" font-size="6.0" text-anchor="end" font-weight="bold" font-style="italic" fill="#2a2ab0" stroke="#2a2ab0" stroke-width="0.18" >non-IRIS</text>
<rect x="191" y="186.6" width="38.2" height="56.6" fill="#fff" stroke="#555" stroke-width="0.6"/>
<text x="227.80" y="190.60" font-size="4.8" text-anchor="end" font-weight="bold" font-style="normal" fill="#111" stroke="#111" stroke-width="0.18" >RO RT 27</text>
<rect x="192.8" y="193.40" width="3.4" height="3.4" fill="#5fb834" stroke="#888" stroke-width="0.2"/>
<text x="197.20" y="197.00" font-size="5.5" text-anchor="start" font-weight="normal" font-style="normal" fill="#2a2a2a" stroke="#2a2a2a" stroke-width="0.18" >Nv</text>
<circle cx="217.0" cy="195.10" r="1.75" fill="#000"/>
<circle cx="223.6" cy="195.10" r="1.75" fill="#000"/>
<rect x="192.8" y="199.02" width="3.4" height="3.4" fill="#eef6f8" stroke="#888" stroke-width="0.2"/>
<text x="197.20" y="202.62" font-size="5.5" text-anchor="start" font-weight="normal" font-style="normal" fill="#2a2a2a" stroke="#2a2a2a" stroke-width="0.18" >CM<tspan font-size="3.8" dy="-1.3">*</tspan></text>
<circle cx="217.0" cy="200.72" r="1.75" fill="#000"/>
<rect x="192.8" y="204.64" width="3.4" height="3.4" fill="#aef4f3" stroke="#888" stroke-width="0.2"/>
<text x="197.20" y="208.24" font-size="5.5" text-anchor="start" font-weight="normal" font-style="normal" fill="#2a2a2a" stroke="#2a2a2a" stroke-width="0.18" >CM</text>
<circle cx="210.6" cy="206.34" r="1.75" fill="#000"/>
<circle cx="217.0" cy="206.34" r="1.75" fill="#000"/>
<circle cx="223.6" cy="206.34" r="1.75" fill="#000"/>
<rect x="192.8" y="210.26" width="3.4" height="3.4" fill="#c4ccd4" stroke="#888" stroke-width="0.2"/>
<text x="197.20" y="213.86" font-size="5.5" text-anchor="start" font-weight="normal" font-style="normal" fill="#2a2a2a" stroke="#2a2a2a" stroke-width="0.18" >TM<tspan font-size="3.8" dy="-1.3">*</tspan></text>
<circle cx="210.6" cy="211.96" r="1.75" fill="#000"/>
<circle cx="217.0" cy="211.96" r="1.75" fill="#000"/>
<rect x="192.8" y="215.88" width="3.4" height="3.4" fill="#98c8f0" stroke="#888" stroke-width="0.2"/>
<text x="197.20" y="219.48" font-size="5.5" text-anchor="start" font-weight="normal" font-style="normal" fill="#2a2a2a" stroke="#2a2a2a" stroke-width="0.18" >TM</text>
<circle cx="210.6" cy="217.58" r="1.75" fill="#000"/>
<circle cx="223.6" cy="217.58" r="1.75" fill="#000"/>
<rect x="192.8" y="221.50" width="3.4" height="3.4" fill="#2242e6" stroke="#888" stroke-width="0.2"/>
<text x="197.20" y="225.10" font-size="5.5" text-anchor="start" font-weight="normal" font-style="normal" fill="#2a2a2a" stroke="#2a2a2a" stroke-width="0.18" >EM</text>
<circle cx="210.6" cy="223.20" r="1.75" fill="#000"/>
<rect x="192.8" y="227.12" width="3.4" height="3.4" fill="#0a0a0a" stroke="#888" stroke-width="0.2"/>
<text x="197.20" y="230.72" font-size="5.5" text-anchor="start" font-weight="normal" font-style="normal" fill="#2a2a2a" stroke="#2a2a2a" stroke-width="0.18" >TE<tspan font-size="3.8" dy="-1.3">*</tspan></text>
<circle cx="223.6" cy="228.82" r="1.75" fill="#000"/>
<rect x="192.8" y="232.74" width="3.4" height="3.4" fill="#b22200" stroke="#888" stroke-width="0.2"/>
<text x="197.20" y="236.34" font-size="5.5" text-anchor="start" font-weight="normal" font-style="normal" fill="#2a2a2a" stroke="#2a2a2a" stroke-width="0.18" >TE</text></svg>
</body></html>
